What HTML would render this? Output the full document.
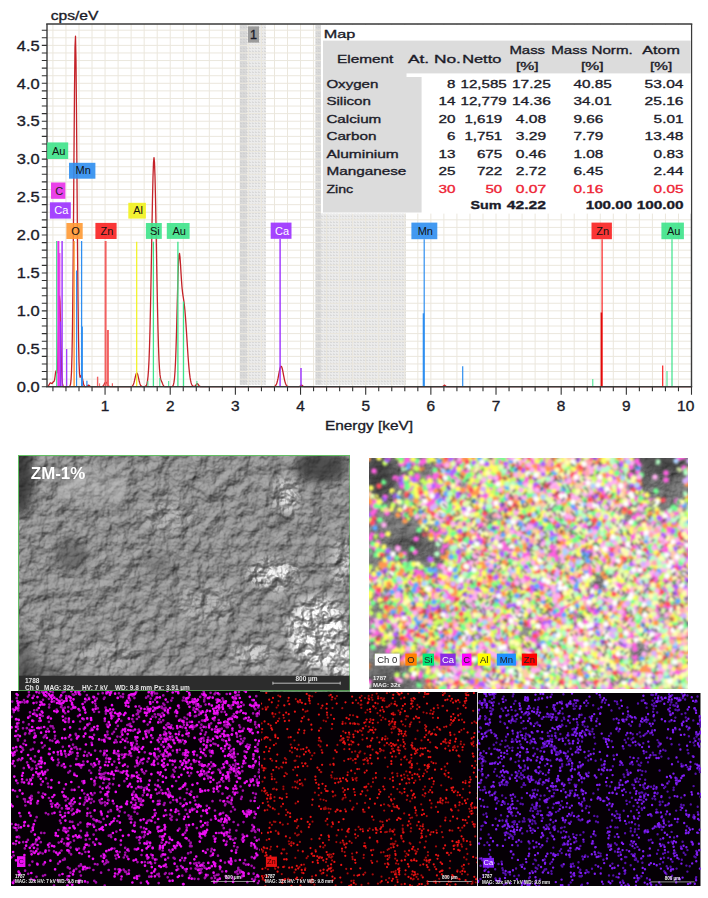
<!DOCTYPE html>
<html><head><meta charset="utf-8"><style>
html,body{margin:0;padding:0;background:#fff;width:708px;height:898px;overflow:hidden;position:relative}
.chart{position:absolute;left:0;top:0}
.abs{position:absolute}
</style></head><body>
<svg class="chart" width="708" height="440" viewBox="0 0 708 440" font-family="'Liberation Sans', sans-serif">
<defs>
<pattern id="dots" width="3" height="3" patternUnits="userSpaceOnUse"><rect width="3" height="3" fill="#ebebeb"/><rect width="2" height="1" fill="#d9d9d9"/><rect y="2" width="1" height="1" fill="#e0e0e0"/></pattern>
</defs>
<rect x="239.8" y="25" width="26.2" height="359.7" fill="url(#dots)"/>
<rect x="239.8" y="25" width="7" height="359.7" fill="#c8c8c8" opacity="0.5"/>
<rect x="315.5" y="25" width="90.5" height="359.7" fill="url(#dots)"/>
<rect x="315.5" y="25" width="5.5" height="359.7" fill="#c8c8c8" opacity="0.5"/>
<path d="M52.93 24V386.7M65.96 24V386.7M79 24V386.7M92.03 24V386.7M105.06 24V386.7M118.09 24V386.7M131.12 24V386.7M144.16 24V386.7M157.19 24V386.7M170.22 24V386.7M183.25 24V386.7M196.28 24V386.7M209.32 24V386.7M222.35 24V386.7M235.38 24V386.7M248.41 24V386.7M261.44 24V386.7M274.48 24V386.7M287.51 24V386.7M300.54 24V386.7M313.57 24V386.7M326.6 24V386.7M339.64 24V386.7M352.67 24V386.7M365.7 24V386.7M378.73 24V386.7M391.76 24V386.7M404.8 24V386.7M417.83 24V386.7M430.86 24V386.7M443.89 24V386.7M456.92 24V386.7M469.96 24V386.7M482.99 24V386.7M496.02 24V386.7M509.05 24V386.7M522.08 24V386.7M535.12 24V386.7M548.15 24V386.7M561.18 24V386.7M574.21 24V386.7M587.24 24V386.7M600.28 24V386.7M613.31 24V386.7M626.34 24V386.7M639.37 24V386.7M652.4 24V386.7M665.44 24V386.7M678.47 24V386.7M47 379.12H691.5M47 371.53H691.5M47 363.94H691.5M47 356.36H691.5M47 348.77H691.5M47 341.19H691.5M47 333.61H691.5M47 326.02H691.5M47 318.44H691.5M47 310.85H691.5M47 303.26H691.5M47 295.68H691.5M47 288.1H691.5M47 280.51H691.5M47 272.93H691.5M47 265.34H691.5M47 257.75H691.5M47 250.17H691.5M47 242.58H691.5M47 235H691.5M47 227.41H691.5M47 219.83H691.5M47 212.24H691.5M47 204.66H691.5M47 197.07H691.5M47 189.49H691.5M47 181.91H691.5M47 174.32H691.5M47 166.73H691.5M47 159.15H691.5M47 151.56H691.5M47 143.98H691.5M47 136.39H691.5M47 128.81H691.5M47 121.23H691.5M47 113.64H691.5M47 106.06H691.5M47 98.47H691.5M47 90.88H691.5M47 83.3H691.5M47 75.71H691.5M47 68.13H691.5M47 60.55H691.5M47 52.96H691.5M47 45.38H691.5M47 37.79H691.5M47 30.2H691.5" stroke="#ebe7dd" stroke-width="1" fill="none"/>
<rect x="248" y="26.4" width="11" height="16.2" fill="#9c9c9c"/>
<text x="250" y="38.6" font-size="13" fill="#1b1b28" stroke="#1b1b28" stroke-width="0.34" font-weight="normal" textLength="7" lengthAdjust="spacingAndGlyphs">1</text>
<path d="M47.5 386.53 48 386.27 48.5 385.75 49 384.96 49.5 384.02 50 383.21 50.5 382.86 51 383.02 51.5 383.4 52 383.49 52.5 382.99 53 382.19 53.5 381.66 54 381.35 54.5 380.14 55 377.02 55.5 373 56 370.9 56.5 371.93 57 372.94 57.5 368.2 58 353.81 58.5 331.17 59 308.2 59.5 296.05 60 301.5 60.5 321.57 61 346.21 61.5 366.22 62 378.28 62.5 383.88 63 385.93 63.5 386.53 64 386.67 64.5 386.7 65 386.7 65.5 386.7 66 386.7 66.5 386.7 67 386.7 67.5 386.7 68 386.7 68.5 386.68 69 386.63 69.5 386.45 70 385.89 70.5 384.33 71 380.45 71.5 371.88 72 355.03 72.5 325.69 73 280.79 73.5 221.03 74 153.15 74.5 89.99 75 47.02 75.5 36.24 76 60.86 76.5 113.69 77 180.55 77.5 246.39 78 300.53 78.5 338.67 79 361.73 79.5 373.24 80 377.2 80.5 377.09 81 375.75 81.5 375.17 82 376.23 82.5 378.65 83 381.49 83.5 383.86 84 385.4 84.5 386.2 85 386.53 85.5 386.64 86 386.62 86.5 386.49 87 386.21 87.5 385.78 88 385.36 88.5 385.18 89 385.36 89.5 385.78 90 386.21 90.5 386.49 91 386.63 91.5 386.68 92 386.7 92.5 386.7 93 386.7 93.5 386.7 94 386.7 94.5 386.7 95 386.7 95.5 386.7 96 386.7 96.5 386.7 97 386.7 97.5 386.7 98 386.7 98.5 386.7 99 386.7 99.5 386.7 100 386.7 100.5 386.69 101 386.67 101.5 386.63 102 386.52 102.5 386.3 103 385.9 103.5 385.3 104 384.48 104.5 383.57 105 382.75 105.5 382.24 106 382.19 106.5 382.62 107 383.4 107.5 384.31 108 385.15 108.5 385.8 109 386.23 109.5 386.48 110 386.61 110.5 386.67 111 386.69 111.5 386.7 112 386.7 112.5 386.7 113 386.7 113.5 386.7 114 386.7 114.5 386.7 115 386.7 115.5 386.7 116 386.7 116.5 386.7 117 386.7 117.5 386.7 118 386.7 118.5 386.7 119 386.7 119.5 386.7 120 386.7 120.5 386.7 121 386.7 121.5 386.7 122 386.7 122.5 386.7 123 386.7 123.5 386.7 124 386.7 124.5 386.7 125 386.7 125.5 386.7 126 386.7 126.5 386.7 127 386.7 127.5 386.7 128 386.7 128.5 386.7 129 386.7 129.5 386.7 130 386.69 130.5 386.67 131 386.62 131.5 386.52 132 386.31 132.5 385.91 133 385.23 133.5 384.16 134 382.63 134.5 380.66 135 378.42 135.5 376.18 136 374.33 136.5 373.24 137 373.13 137.5 374.04 138 375.77 138.5 377.96 139 380.23 139.5 382.27 140 383.89 140.5 385.05 141 385.8 141.5 386.25 142 386.49 142.5 386.61 143 386.66 143.5 386.67 144 386.66 144.5 386.61 145 386.5 145.5 386.27 146 385.81 146.5 384.96 147 383.44 147.5 380.85 148 376.64 148.5 370.12 149 360.55 149.5 347.2 150 329.58 150.5 307.61 151 281.83 151.5 253.55 152 224.83 152.5 198.27 153 176.68 153.5 162.55 154 157.63 154.5 162.55 155 176.68 155.5 198.27 156 224.83 156.5 253.55 157 281.82 157.5 307.59 158 329.53 158.5 347.04 159 360.12 159.5 369.18 160 374.9 160.5 378.17 161 379.97 161.5 381.17 162 382.34 162.5 383.59 163 384.76 163.5 385.66 164 386.23 164.5 386.52 165 386.64 165.5 386.68 166 386.7 166.5 386.7 167 386.7 167.5 386.7 168 386.7 168.5 386.7 169 386.7 169.5 386.7 170 386.7 170.5 386.69 171 386.67 171.5 386.63 172 386.51 172.5 386.24 173 385.65 173.5 384.45 174 382.18 174.5 378.22 175 371.8 175.5 362.23 176 349.06 176.5 332.48 177 313.51 177.5 293.98 178 276.28 178.5 262.75 179 254.99 179.5 253.43 180 257.16 180.5 264.32 181 272.78 181.5 280.75 182 287.22 182.5 292.01 183 295.6 183.5 298.74 184 302.14 184.5 306.3 185 311.45 185.5 317.61 186 324.62 186.5 332.23 187 340.12 187.5 347.97 188 355.44 188.5 362.25 189 368.19 189.5 373.16 190 377.14 190.5 380.18 191 382.42 191.5 383.98 192 385.04 192.5 385.72 193 386.14 193.5 386.38 194 386.47 194.5 386.42 195 386.18 195.5 385.7 196 385 196.5 384.27 197 383.76 197.5 383.71 198 384.14 198.5 384.86 199 385.59 199.5 386.13 200 386.46 200.5 386.61 201 386.67 201.5 386.69 202 386.7 202.5 386.7 203 386.7 203.5 386.7 204 386.7 204.5 386.7 205 386.7 205.5 386.7 206 386.7 206.5 386.7 207 386.7 207.5 386.7 208 386.7 208.5 386.7 209 386.7 209.5 386.7 210 386.7 210.5 386.7 211 386.7 211.5 386.7 212 386.7 212.5 386.7 213 386.7 213.5 386.7 214 386.7 214.5 386.7 215 386.7 215.5 386.7 216 386.7 216.5 386.7 217 386.7 217.5 386.7 218 386.7 218.5 386.7 219 386.7 219.5 386.7 220 386.7 220.5 386.7 221 386.7 221.5 386.7 222 386.7 222.5 386.7 223 386.7 223.5 386.7 224 386.7 224.5 386.7 225 386.7 225.5 386.7 226 386.7 226.5 386.7 227 386.7 227.5 386.7 228 386.7 228.5 386.7 229 386.7 229.5 386.7 230 386.7 230.5 386.7 231 386.7 231.5 386.7 232 386.7 232.5 386.7 233 386.7 233.5 386.7 234 386.7 234.5 386.7 235 386.7 235.5 386.7 236 386.7 236.5 386.7 237 386.7 237.5 386.7 238 386.7 238.5 386.7 239 386.7 239.5 386.7 240 386.7 240.5 386.7 241 386.7 241.5 386.7 242 386.7 242.5 386.7 243 386.7 243.5 386.7 244 386.7 244.5 386.7 245 386.7 245.5 386.7 246 386.7 246.5 386.7 247 386.7 247.5 386.7 248 386.7 248.5 386.7 249 386.7 249.5 386.7 250 386.7 250.5 386.7 251 386.7 251.5 386.7 252 386.7 252.5 386.7 253 386.7 253.5 386.7 254 386.7 254.5 386.7 255 386.7 255.5 386.7 256 386.7 256.5 386.7 257 386.7 257.5 386.7 258 386.7 258.5 386.7 259 386.7 259.5 386.7 260 386.7 260.5 386.7 261 386.7 261.5 386.7 262 386.7 262.5 386.7 263 386.7 263.5 386.7 264 386.7 264.5 386.7 265 386.7 265.5 386.7 266 386.7 266.5 386.7 267 386.7 267.5 386.7 268 386.7 268.5 386.7 269 386.7 269.5 386.7 270 386.7 270.5 386.7 271 386.7 271.5 386.7 272 386.69 272.5 386.68 273 386.66 273.5 386.61 274 386.53 274.5 386.37 275 386.09 275.5 385.64 276 384.95 276.5 383.93 277 382.52 277.5 380.68 278 378.44 278.5 375.89 279 373.2 279.5 370.62 280 368.43 280.5 366.91 281 366.24 281.5 366.53 282 367.73 282.5 369.68 283 372.14 283.5 374.82 284 377.45 284.5 379.83 285 381.84 285.5 383.41 286 384.58 286.5 385.4 287 385.94 287.5 386.27 288 386.47 288.5 386.58 289 386.64 289.5 386.67 290 386.69 290.5 386.7 291 386.7 291.5 386.7 292 386.7 292.5 386.7 293 386.7 293.5 386.7 294 386.7 294.5 386.7 295 386.7 295.5 386.7 296 386.7 296.5 386.7 297 386.7 297.5 386.7 298 386.7 298.5 386.68 299 386.63 299.5 386.49 300 386.21 300.5 385.78 301 385.36 301.5 385.18 302 385.36 302.5 385.78 303 386.21 303.5 386.49 304 386.63 304.5 386.68 305 386.7 305.5 386.7 306 386.7 306.5 386.7 307 386.7 307.5 386.7 308 386.7 308.5 386.7 309 386.7 309.5 386.7 310 386.7 310.5 386.7 311 386.7 311.5 386.7 312 386.7 312.5 386.7 313 386.7 313.5 386.7 314 386.7 314.5 386.7 315 386.7 315.5 386.7 316 386.7 316.5 386.7 317 386.7 317.5 386.7 318 386.7 318.5 386.7 319 386.7 319.5 386.7 320 386.7 320.5 386.7 321 386.7 321.5 386.7 322 386.7 322.5 386.7 323 386.7 323.5 386.7 324 386.7 324.5 386.7 325 386.7 325.5 386.7 326 386.7 326.5 386.7 327 386.7 327.5 386.7 328 386.7 328.5 386.7 329 386.7 329.5 386.7 330 386.7 330.5 386.7 331 386.7 331.5 386.7 332 386.7 332.5 386.7 333 386.7 333.5 386.7 334 386.7 334.5 386.7 335 386.7 335.5 386.7 336 386.7 336.5 386.7 337 386.7 337.5 386.7 338 386.7 338.5 386.7 339 386.7 339.5 386.7 340 386.7 340.5 386.7 341 386.7 341.5 386.7 342 386.7 342.5 386.7 343 386.7 343.5 386.7 344 386.7 344.5 386.7 345 386.7 345.5 386.7 346 386.7 346.5 386.7 347 386.7 347.5 386.7 348 386.7 348.5 386.7 349 386.7 349.5 386.7 350 386.7 350.5 386.7 351 386.7 351.5 386.7 352 386.7 352.5 386.7 353 386.7 353.5 386.7 354 386.7 354.5 386.7 355 386.7 355.5 386.7 356 386.7 356.5 386.7 357 386.7 357.5 386.7 358 386.7 358.5 386.7 359 386.7 359.5 386.7 360 386.7 360.5 386.7 361 386.7 361.5 386.7 362 386.7 362.5 386.7 363 386.7 363.5 386.7 364 386.7 364.5 386.7 365 386.7 365.5 386.7 366 386.7 366.5 386.7 367 386.7 367.5 386.7 368 386.7 368.5 386.7 369 386.7 369.5 386.7 370 386.7 370.5 386.7 371 386.7 371.5 386.7 372 386.7 372.5 386.7 373 386.7 373.5 386.7 374 386.7 374.5 386.7 375 386.7 375.5 386.7 376 386.7 376.5 386.7 377 386.7 377.5 386.7 378 386.7 378.5 386.7 379 386.7 379.5 386.7 380 386.7 380.5 386.7 381 386.7 381.5 386.7 382 386.7 382.5 386.7 383 386.7 383.5 386.7 384 386.7 384.5 386.7 385 386.7 385.5 386.7 386 386.7 386.5 386.7 387 386.7 387.5 386.7 388 386.7 388.5 386.7 389 386.7 389.5 386.7 390 386.7 390.5 386.7 391 386.7 391.5 386.7 392 386.7 392.5 386.7 393 386.7 393.5 386.7 394 386.7 394.5 386.7 395 386.7 395.5 386.7 396 386.7 396.5 386.7 397 386.7 397.5 386.7 398 386.7 398.5 386.7 399 386.7 399.5 386.7 400 386.7 400.5 386.7 401 386.7 401.5 386.7 402 386.7 402.5 386.7 403 386.7 403.5 386.7 404 386.7 404.5 386.7 405 386.7 405.5 386.7 406 386.7 406.5 386.7 407 386.7 407.5 386.7 408 386.7 408.5 386.7 409 386.7 409.5 386.7 410 386.7 410.5 386.7 411 386.7 411.5 386.7 412 386.7 412.5 386.7 413 386.7 413.5 386.7 414 386.7 414.5 386.7 415 386.7 415.5 386.7 416 386.7 416.5 386.7 417 386.7 417.5 386.7 418 386.7 418.5 386.7 419 386.7 419.5 386.7 420 386.7 420.5 386.7 421 386.7 421.5 386.7 422 386.7 422.5 386.7 423 386.7 423.5 386.7 424 386.7 424.5 386.7 425 386.7 425.5 386.7 426 386.7 426.5 386.7 427 386.7 427.5 386.7 428 386.7 428.5 386.7 429 386.7 429.5 386.7 430 386.7 430.5 386.7 431 386.7 431.5 386.7 432 386.7 432.5 386.7 433 386.7 433.5 386.7 434 386.7 434.5 386.7 435 386.7 435.5 386.7 436 386.7 436.5 386.7 437 386.7 437.5 386.7 438 386.7 438.5 386.7 439 386.7 439.5 386.7 440 386.7 440.5 386.7 441 386.7 441.5 386.7 442 386.69 442.5 386.63 443 386.44 443.5 386.01 444 385.45 444.5 385.18 445 385.45 445.5 386.01 446 386.44 446.5 386.63 447 386.69 447.5 386.7 448 386.7 448.5 386.7 449 386.7 449.5 386.7 450 386.7 450.5 386.7 451 386.7 451.5 386.7 452 386.7 452.5 386.7 453 386.7 453.5 386.7 454 386.7 454.5 386.7 455 386.7 455.5 386.7 456 386.7 456.5 386.7 457 386.7 457.5 386.7 458 386.7 458.5 386.7 459 386.7 459.5 386.7 460 386.7 460.5 386.7 461 386.7 461.5 386.7 462 386.7 462.5 386.7 463 386.7 463.5 386.7 464 386.7 464.5 386.7 465 386.7 465.5 386.7 466 386.7 466.5 386.7 467 386.7 467.5 386.7 468 386.7 468.5 386.7 469 386.7 469.5 386.7 470 386.7 470.5 386.7 471 386.7 471.5 386.7 472 386.7 472.5 386.7 473 386.7 473.5 386.7 474 386.7 474.5 386.7 475 386.7 475.5 386.7 476 386.7 476.5 386.7 477 386.7 477.5 386.7 478 386.7 478.5 386.7 479 386.7 479.5 386.7 480 386.7 480.5 386.7 481 386.7 481.5 386.7 482 386.7 482.5 386.7 483 386.7 483.5 386.7 484 386.7 484.5 386.7 485 386.7 485.5 386.7 486 386.7 486.5 386.7 487 386.7 487.5 386.7 488 386.7 488.5 386.7 489 386.7 489.5 386.7 490 386.7 490.5 386.7 491 386.7 491.5 386.7 492 386.7 492.5 386.7 493 386.7 493.5 386.7 494 386.7 494.5 386.7 495 386.7 495.5 386.7 496 386.7 496.5 386.7 497 386.7 497.5 386.7 498 386.7 498.5 386.7 499 386.7 499.5 386.7 500 386.7 500.5 386.7 501 386.7 501.5 386.7 502 386.7 502.5 386.7 503 386.7 503.5 386.7 504 386.7 504.5 386.7 505 386.7 505.5 386.7 506 386.7 506.5 386.7 507 386.7 507.5 386.7 508 386.7 508.5 386.7 509 386.7 509.5 386.7 510 386.7 510.5 386.7 511 386.7 511.5 386.7 512 386.7 512.5 386.7 513 386.7 513.5 386.7 514 386.7 514.5 386.7 515 386.7 515.5 386.7 516 386.7 516.5 386.7 517 386.7 517.5 386.7 518 386.7 518.5 386.7 519 386.7 519.5 386.7 520 386.7 520.5 386.7 521 386.7 521.5 386.7 522 386.7 522.5 386.7 523 386.7 523.5 386.7 524 386.7 524.5 386.7 525 386.7 525.5 386.7 526 386.7 526.5 386.7 527 386.7 527.5 386.7 528 386.7 528.5 386.7 529 386.7 529.5 386.7 530 386.7 530.5 386.7 531 386.7 531.5 386.7 532 386.7 532.5 386.7 533 386.7 533.5 386.7 534 386.7 534.5 386.7 535 386.7 535.5 386.7 536 386.7 536.5 386.7 537 386.7 537.5 386.7 538 386.7 538.5 386.7 539 386.7 539.5 386.7 540 386.7 540.5 386.7 541 386.7 541.5 386.7 542 386.7 542.5 386.7 543 386.7 543.5 386.7 544 386.7 544.5 386.7 545 386.7 545.5 386.7 546 386.7 546.5 386.7 547 386.7 547.5 386.7 548 386.7 548.5 386.7 549 386.7 549.5 386.7 550 386.7 550.5 386.7 551 386.7 551.5 386.7 552 386.7 552.5 386.7 553 386.7 553.5 386.7 554 386.7 554.5 386.7 555 386.7 555.5 386.7 556 386.7 556.5 386.7 557 386.7 557.5 386.7 558 386.7 558.5 386.7 559 386.7 559.5 386.7 560 386.7 560.5 386.7 561 386.7 561.5 386.7 562 386.7 562.5 386.7 563 386.7 563.5 386.7 564 386.7 564.5 386.7 565 386.7 565.5 386.7 566 386.7 566.5 386.7 567 386.7 567.5 386.7 568 386.7 568.5 386.7 569 386.7 569.5 386.7 570 386.7 570.5 386.7 571 386.7 571.5 386.7 572 386.7 572.5 386.7 573 386.7 573.5 386.7 574 386.7 574.5 386.7 575 386.7 575.5 386.7 576 386.7 576.5 386.7 577 386.7 577.5 386.7 578 386.7 578.5 386.7 579 386.7 579.5 386.7 580 386.7 580.5 386.7 581 386.7 581.5 386.7 582 386.7 582.5 386.7 583 386.7 583.5 386.7 584 386.7 584.5 386.7 585 386.7 585.5 386.7 586 386.7 586.5 386.7 587 386.7 587.5 386.7 588 386.7 588.5 386.7 589 386.7 589.5 386.7 590 386.7 590.5 386.7 591 386.7 591.5 386.7 592 386.7 592.5 386.7 593 386.7 593.5 386.7 594 386.7 594.5 386.7 595 386.7 595.5 386.7 596 386.7 596.5 386.7 597 386.7 597.5 386.7 598 386.7 598.5 386.7 599 386.7 599.5 386.7 600 386.7 600.5 386.7 601 386.7 601.5 386.7 602 386.7 602.5 386.7 603 386.7 603.5 386.7 604 386.7 604.5 386.7 605 386.7 605.5 386.7 606 386.7 606.5 386.7 607 386.7 607.5 386.7 608 386.7 608.5 386.7 609 386.7 609.5 386.7 610 386.7 610.5 386.7 611 386.7 611.5 386.7 612 386.7 612.5 386.7 613 386.7 613.5 386.7 614 386.7 614.5 386.7 615 386.7 615.5 386.7 616 386.7 616.5 386.7 617 386.7 617.5 386.7 618 386.7 618.5 386.7 619 386.7 619.5 386.7 620 386.7 620.5 386.7 621 386.7 621.5 386.7 622 386.7 622.5 386.7 623 386.7 623.5 386.7 624 386.7 624.5 386.7 625 386.7 625.5 386.7 626 386.7 626.5 386.7 627 386.7 627.5 386.7 628 386.7 628.5 386.7 629 386.7 629.5 386.7 630 386.7 630.5 386.7 631 386.7 631.5 386.7 632 386.7 632.5 386.7 633 386.7 633.5 386.7 634 386.7 634.5 386.7 635 386.7 635.5 386.7 636 386.7 636.5 386.7 637 386.7 637.5 386.7 638 386.7 638.5 386.7 639 386.7 639.5 386.7 640 386.7 640.5 386.7 641 386.7 641.5 386.7 642 386.7 642.5 386.7 643 386.7 643.5 386.7 644 386.7 644.5 386.7 645 386.7 645.5 386.7 646 386.7 646.5 386.7 647 386.7 647.5 386.7 648 386.7 648.5 386.7 649 386.7 649.5 386.7 650 386.7 650.5 386.7 651 386.7 651.5 386.7 652 386.7 652.5 386.7 653 386.7 653.5 386.7 654 386.7 654.5 386.7 655 386.7 655.5 386.7 656 386.7 656.5 386.7 657 386.7 657.5 386.7 658 386.7 658.5 386.7 659 386.7 659.5 386.7 660 386.7 660.5 386.7 661 386.7 661.5 386.7 662 386.7 662.5 386.7 663 386.7 663.5 386.7 664 386.7 664.5 386.7 665 386.7 665.5 386.7 666 386.7 666.5 386.7 667 386.7 667.5 386.7 668 386.7 668.5 386.7 669 386.7 669.5 386.7 670 386.7 670.5 386.7 671 386.7 671.5 386.7 672 386.7 672.5 386.7 673 386.7 673.5 386.7 674 386.7 674.5 386.7 675 386.7 675.5 386.7 676 386.7 676.5 386.7 677 386.7 677.5 386.7 678 386.7 678.5 386.7 679 386.7 679.5 386.7 680 386.7 680.5 386.7 681 386.7 681.5 386.7 682 386.7 682.5 386.7 683 386.7 683.5 386.7 684 386.7 684.5 386.7 685 386.7 685.5 386.7 686 386.7 686.5 386.7 687 386.7 687.5 386.7 688 386.7 688.5 386.7 689 386.7 689.5 386.7 690 386.7 690.5 386.7 691 386.7" fill="none" stroke="#c42228" stroke-width="1.3" stroke-linejoin="round"/>
<path d="M56.7 241V386.7" stroke="#3de38a" stroke-width="1.2"/>
<path d="M58.4 241V386.7" stroke="#e82ee8" stroke-width="2"/>
<path d="M59.8 253V386.7" stroke="#e82ee8" stroke-width="1.2"/>
<path d="M62.1 241V386.7" stroke="#9b30ff" stroke-width="1.4"/>
<path d="M60.4 321.6V386.7" stroke="#9b30ff" stroke-width="1.2"/>
<path d="M66.7 349V386.7" stroke="#9b30ff" stroke-width="1.2"/>
<path d="M74.1 241V386.7" stroke="#ff9933" stroke-width="1.4"/>
<path d="M76.6 270.6V386.7" stroke="#2e8ef0" stroke-width="1.2"/>
<path d="M81.6 241V386.7" stroke="#2e8ef0" stroke-width="1.3"/>
<path d="M82.1 326.6V386.7" stroke="#2e8ef0" stroke-width="1.6"/>
<path d="M86.9 380.7V386.7" stroke="#2e8ef0" stroke-width="1.2"/>
<path d="M105.6 241V386.7" stroke="#f26060" stroke-width="2"/>
<path d="M107.9 330V386.7" stroke="#f26060" stroke-width="2"/>
<path d="M97.6 376.7V386.7" stroke="#f26060" stroke-width="1.4"/>
<path d="M99.6 383.4V386.7" stroke="#f26060" stroke-width="1"/>
<path d="M112.4 383.2V386.7" stroke="#f26060" stroke-width="1.2"/>
<path d="M136.7 241.7V386.7" stroke="#f2f21c" stroke-width="1.2"/>
<path d="M153.4 241.7V386.7" stroke="#3de38a" stroke-width="1.3"/>
<path d="M159.8 378V386.7" stroke="#3de38a" stroke-width="1"/>
<path d="M147.9 381V386.7" stroke="#3de38a" stroke-width="1"/>
<path d="M177.9 241.7V386.7" stroke="#3de38a" stroke-width="1.3"/>
<path d="M183.5 301.6V386.7" stroke="#3de38a" stroke-width="1.3"/>
<path d="M168.7 381V386.7" stroke="#3de38a" stroke-width="1"/>
<path d="M196.9 381V386.7" stroke="#3de38a" stroke-width="1"/>
<path d="M280.1 239V386.7" stroke="#9b30ff" stroke-width="1.4"/>
<path d="M301 368.1V386.7" stroke="#9b30ff" stroke-width="1.4"/>
<path d="M424.2 239.2V386.7" stroke="#2e8ef0" stroke-width="1.2"/>
<path d="M423.5 313.3V386.7" stroke="#2e8ef0" stroke-width="1.6"/>
<path d="M462.7 366.3V386.7" stroke="#2e8ef0" stroke-width="1.2"/>
<path d="M602.1 239.2V386.7" stroke="#fa2020" stroke-width="1.2"/>
<path d="M601.4 312.5V386.7" stroke="#e00a0a" stroke-width="1.6"/>
<path d="M662.7 365.4V386.7" stroke="#fa2020" stroke-width="1.2"/>
<path d="M672 239.2V386.7" stroke="#3de38a" stroke-width="1.2"/>
<path d="M592.8 379V386.7" stroke="#3de38a" stroke-width="1"/>
<path d="M667 371V386.7" stroke="#3de38a" stroke-width="1"/>
<path d="M46.2 24H692.3" stroke="#3a3a3a" stroke-width="1.6"/>
<path d="M47 24V386.7 M691.5 24V386.7" stroke="#3a3a3a" stroke-width="1.4"/>
<path d="M46.3 386.7H692.2" stroke="#3a3a3a" stroke-width="1.4"/>
<path d="M41.8 386.7H47M41.8 379.12H47M41.8 371.53H47M41.8 363.94H47M41.8 356.36H47M41.8 348.77H47M41.8 341.19H47M41.8 333.61H47M41.8 326.02H47M41.8 318.44H47M41.8 310.85H47M41.8 303.26H47M41.8 295.68H47M41.8 288.1H47M41.8 280.51H47M41.8 272.93H47M41.8 265.34H47M41.8 257.75H47M41.8 250.17H47M41.8 242.58H47M41.8 235H47M41.8 227.41H47M41.8 219.83H47M41.8 212.24H47M41.8 204.66H47M41.8 197.07H47M41.8 189.49H47M41.8 181.91H47M41.8 174.32H47M41.8 166.73H47M41.8 159.15H47M41.8 151.56H47M41.8 143.98H47M41.8 136.39H47M41.8 128.81H47M41.8 121.23H47M41.8 113.64H47M41.8 106.06H47M41.8 98.47H47M41.8 90.88H47M41.8 83.3H47M41.8 75.71H47M41.8 68.13H47M41.8 60.55H47M41.8 52.96H47M41.8 45.38H47M41.8 37.79H47M41.8 30.2H47M52.93 386.7V391.3M65.96 386.7V391.3M79 386.7V391.3M92.03 386.7V391.3M105.06 386.7V394.8M118.09 386.7V391.3M131.12 386.7V391.3M144.16 386.7V391.3M157.19 386.7V391.3M170.22 386.7V394.8M183.25 386.7V391.3M196.28 386.7V391.3M209.32 386.7V391.3M222.35 386.7V391.3M235.38 386.7V394.8M248.41 386.7V391.3M261.44 386.7V391.3M274.48 386.7V391.3M287.51 386.7V391.3M300.54 386.7V394.8M313.57 386.7V391.3M326.6 386.7V391.3M339.64 386.7V391.3M352.67 386.7V391.3M365.7 386.7V394.8M378.73 386.7V391.3M391.76 386.7V391.3M404.8 386.7V391.3M417.83 386.7V391.3M430.86 386.7V394.8M443.89 386.7V391.3M456.92 386.7V391.3M469.96 386.7V391.3M482.99 386.7V391.3M496.02 386.7V394.8M509.05 386.7V391.3M522.08 386.7V391.3M535.12 386.7V391.3M548.15 386.7V391.3M561.18 386.7V394.8M574.21 386.7V391.3M587.24 386.7V391.3M600.28 386.7V391.3M613.31 386.7V391.3M626.34 386.7V394.8M639.37 386.7V391.3M652.4 386.7V391.3M665.44 386.7V391.3M678.47 386.7V391.3M691.5 386.7V394.8" stroke="#333" stroke-width="1.1"/>
<text x="16.8" y="391.9" font-size="14.5" fill="#1b1b28" stroke="#1b1b28" stroke-width="0.34" font-weight="normal" textLength="22.9" lengthAdjust="spacingAndGlyphs">0.0</text>
<text x="16.8" y="353.97" font-size="14.5" fill="#1b1b28" stroke="#1b1b28" stroke-width="0.34" font-weight="normal" textLength="22.9" lengthAdjust="spacingAndGlyphs">0.5</text>
<text x="16.8" y="316.05" font-size="14.5" fill="#1b1b28" stroke="#1b1b28" stroke-width="0.34" font-weight="normal" textLength="22.9" lengthAdjust="spacingAndGlyphs">1.0</text>
<text x="16.8" y="278.12" font-size="14.5" fill="#1b1b28" stroke="#1b1b28" stroke-width="0.34" font-weight="normal" textLength="22.9" lengthAdjust="spacingAndGlyphs">1.5</text>
<text x="16.8" y="240.2" font-size="14.5" fill="#1b1b28" stroke="#1b1b28" stroke-width="0.34" font-weight="normal" textLength="22.9" lengthAdjust="spacingAndGlyphs">2.0</text>
<text x="16.8" y="202.27" font-size="14.5" fill="#1b1b28" stroke="#1b1b28" stroke-width="0.34" font-weight="normal" textLength="22.9" lengthAdjust="spacingAndGlyphs">2.5</text>
<text x="16.8" y="164.35" font-size="14.5" fill="#1b1b28" stroke="#1b1b28" stroke-width="0.34" font-weight="normal" textLength="22.9" lengthAdjust="spacingAndGlyphs">3.0</text>
<text x="16.8" y="126.43" font-size="14.5" fill="#1b1b28" stroke="#1b1b28" stroke-width="0.34" font-weight="normal" textLength="22.9" lengthAdjust="spacingAndGlyphs">3.5</text>
<text x="16.8" y="88.5" font-size="14.5" fill="#1b1b28" stroke="#1b1b28" stroke-width="0.34" font-weight="normal" textLength="22.9" lengthAdjust="spacingAndGlyphs">4.0</text>
<text x="16.8" y="50.58" font-size="14.5" fill="#1b1b28" stroke="#1b1b28" stroke-width="0.34" font-weight="normal" textLength="22.9" lengthAdjust="spacingAndGlyphs">4.5</text>
<text x="100.76" y="410.8" font-size="14.5" fill="#1b1b28" stroke="#1b1b28" stroke-width="0.34" font-weight="normal" textLength="8.6" lengthAdjust="spacingAndGlyphs">1</text>
<text x="165.92" y="410.8" font-size="14.5" fill="#1b1b28" stroke="#1b1b28" stroke-width="0.34" font-weight="normal" textLength="8.6" lengthAdjust="spacingAndGlyphs">2</text>
<text x="231.08" y="410.8" font-size="14.5" fill="#1b1b28" stroke="#1b1b28" stroke-width="0.34" font-weight="normal" textLength="8.6" lengthAdjust="spacingAndGlyphs">3</text>
<text x="296.24" y="410.8" font-size="14.5" fill="#1b1b28" stroke="#1b1b28" stroke-width="0.34" font-weight="normal" textLength="8.6" lengthAdjust="spacingAndGlyphs">4</text>
<text x="361.4" y="410.8" font-size="14.5" fill="#1b1b28" stroke="#1b1b28" stroke-width="0.34" font-weight="normal" textLength="8.6" lengthAdjust="spacingAndGlyphs">5</text>
<text x="426.56" y="410.8" font-size="14.5" fill="#1b1b28" stroke="#1b1b28" stroke-width="0.34" font-weight="normal" textLength="8.6" lengthAdjust="spacingAndGlyphs">6</text>
<text x="491.72" y="410.8" font-size="14.5" fill="#1b1b28" stroke="#1b1b28" stroke-width="0.34" font-weight="normal" textLength="8.6" lengthAdjust="spacingAndGlyphs">7</text>
<text x="556.88" y="410.8" font-size="14.5" fill="#1b1b28" stroke="#1b1b28" stroke-width="0.34" font-weight="normal" textLength="8.6" lengthAdjust="spacingAndGlyphs">8</text>
<text x="622.04" y="410.8" font-size="14.5" fill="#1b1b28" stroke="#1b1b28" stroke-width="0.34" font-weight="normal" textLength="8.6" lengthAdjust="spacingAndGlyphs">9</text>
<text x="677" y="410.8" font-size="14.5" fill="#1b1b28" stroke="#1b1b28" stroke-width="0.34" font-weight="normal" textLength="17.3" lengthAdjust="spacingAndGlyphs">10</text>
<text x="50.7" y="20" font-size="13.2" fill="#1b1b28" stroke="#1b1b28" stroke-width="0.34" font-weight="normal" textLength="47.8" lengthAdjust="spacingAndGlyphs">cps/eV</text>
<text x="324.9" y="430.4" font-size="13.6" fill="#1b1b28" stroke="#1b1b28" stroke-width="0.34" font-weight="normal" textLength="88.1" lengthAdjust="spacingAndGlyphs">Energy [keV]</text>
<rect x="47.1" y="142.4" width="21.1" height="16.6" fill="#3de38a" fill-opacity="0.9"/>
<text x="58.65" y="154.7" font-size="11" fill="#111" text-anchor="middle">Au</text>
<rect x="69" y="162.8" width="26.4" height="15.9" fill="#2e8ef0" fill-opacity="0.9"/>
<text x="83.2" y="174.4" font-size="11" fill="#111" text-anchor="middle">Mn</text>
<rect x="51" y="182.5" width="14.4" height="16.3" fill="#e82ee8" fill-opacity="0.9"/>
<text x="59.2" y="194.5" font-size="11" fill="#222" text-anchor="middle">C</text>
<rect x="49.9" y="202.3" width="20.9" height="16.3" fill="#9b30ff" fill-opacity="0.9"/>
<text x="61.35" y="214.3" font-size="11" fill="#fff" text-anchor="middle">Ca</text>
<rect x="128.3" y="202.8" width="17.6" height="15.8" fill="#f2f21c" fill-opacity="0.9"/>
<text x="138.1" y="214.3" font-size="11" fill="#111" text-anchor="middle">Al</text>
<rect x="66.4" y="223" width="16.3" height="16" fill="#ff9933" fill-opacity="0.9"/>
<text x="75.55" y="234.7" font-size="11" fill="#111" text-anchor="middle">O</text>
<rect x="95.4" y="222.9" width="21.2" height="16.1" fill="#fa2020" fill-opacity="0.9"/>
<text x="107" y="234.7" font-size="11" fill="#111" text-anchor="middle">Zn</text>
<rect x="145.9" y="223" width="15.9" height="15.9" fill="#3de38a" fill-opacity="0.9"/>
<text x="154.85" y="234.6" font-size="11" fill="#111" text-anchor="middle">Si</text>
<rect x="166.8" y="223" width="22.8" height="15.9" fill="#3de38a" fill-opacity="0.9"/>
<text x="179.2" y="234.6" font-size="11" fill="#111" text-anchor="middle">Au</text>
<rect x="270.7" y="222.6" width="20.8" height="16.2" fill="#9b30ff" fill-opacity="0.9"/>
<text x="282.1" y="234.5" font-size="11" fill="#fff" text-anchor="middle">Ca</text>
<rect x="411.4" y="222.6" width="25.9" height="16.6" fill="#2e8ef0" fill-opacity="0.9"/>
<text x="425.35" y="234.9" font-size="11" fill="#111" text-anchor="middle">Mn</text>
<rect x="591.5" y="222.6" width="20.4" height="16.6" fill="#fa2020" fill-opacity="0.9"/>
<text x="602.7" y="234.9" font-size="11" fill="#111" text-anchor="middle">Zn</text>
<rect x="661.4" y="222.6" width="22.5" height="16.6" fill="#3de38a" fill-opacity="0.9"/>
<text x="673.65" y="234.9" font-size="11" fill="#111" text-anchor="middle">Au</text>
<rect x="321" y="25" width="369.8" height="188.6" fill="#fff"/>
<rect x="323" y="40.6" width="367.8" height="32.8" fill="#dcdcdc"/>
<rect x="323" y="73" width="83.5" height="4.5" fill="#dcdcdc"/>
<rect x="323" y="77" width="98.6" height="135.5" fill="#dcdcdc"/>
<text x="323.7" y="37.6" font-size="11.8" fill="#1b1b28" stroke="#1b1b28" stroke-width="0.34" font-weight="normal" textLength="31.5" lengthAdjust="spacingAndGlyphs">Map</text>
<text x="337" y="62.7" font-size="11.8" fill="#1b1b28" stroke="#1b1b28" stroke-width="0.34" font-weight="normal" textLength="56.4" lengthAdjust="spacingAndGlyphs">Element</text>
<text x="407.9" y="62.7" font-size="11.8" fill="#1b1b28" stroke="#1b1b28" stroke-width="0.34" font-weight="normal" textLength="53" lengthAdjust="spacingAndGlyphs">At. No.</text>
<text x="462.2" y="62.7" font-size="11.8" fill="#1b1b28" stroke="#1b1b28" stroke-width="0.34" font-weight="normal" textLength="39.1" lengthAdjust="spacingAndGlyphs">Netto</text>
<text x="509.4" y="54.2" font-size="11.8" fill="#1b1b28" stroke="#1b1b28" stroke-width="0.34" font-weight="normal" textLength="35.7" lengthAdjust="spacingAndGlyphs">Mass</text>
<text x="515.9" y="69.6" font-size="11.8" fill="#1b1b28" stroke="#1b1b28" stroke-width="0.34" font-weight="normal" textLength="22.7" lengthAdjust="spacingAndGlyphs">[%]</text>
<text x="551.2" y="54.2" font-size="11.8" fill="#1b1b28" stroke="#1b1b28" stroke-width="0.34" font-weight="normal" textLength="81.5" lengthAdjust="spacingAndGlyphs">Mass Norm.</text>
<text x="580.9" y="69.6" font-size="11.8" fill="#1b1b28" stroke="#1b1b28" stroke-width="0.34" font-weight="normal" textLength="22.7" lengthAdjust="spacingAndGlyphs">[%]</text>
<text x="642.2" y="54.2" font-size="11.8" fill="#1b1b28" stroke="#1b1b28" stroke-width="0.34" font-weight="normal" textLength="37.7" lengthAdjust="spacingAndGlyphs">Atom</text>
<text x="650.1" y="69.6" font-size="11.8" fill="#1b1b28" stroke="#1b1b28" stroke-width="0.34" font-weight="normal" textLength="22.2" lengthAdjust="spacingAndGlyphs">[%]</text>
<text x="326.4" y="87.7" font-size="11.8" fill="#1b1b28" stroke="#1b1b28" stroke-width="0.34" font-weight="normal" textLength="52" lengthAdjust="spacingAndGlyphs">Oxygen</text>
<text x="447" y="87.7" font-size="11.8" fill="#1b1b28" stroke="#1b1b28" stroke-width="0.34" font-weight="normal" textLength="8.4" lengthAdjust="spacingAndGlyphs">8</text>
<text x="460.5" y="87.7" font-size="11.8" fill="#1b1b28" stroke="#1b1b28" stroke-width="0.34" font-weight="normal" textLength="46.2" lengthAdjust="spacingAndGlyphs">12,585</text>
<text x="512" y="87.7" font-size="11.8" fill="#1b1b28" stroke="#1b1b28" stroke-width="0.34" font-weight="normal" textLength="38.8" lengthAdjust="spacingAndGlyphs">17.25</text>
<text x="573.4" y="87.7" font-size="11.8" fill="#1b1b28" stroke="#1b1b28" stroke-width="0.34" font-weight="normal" textLength="38.3" lengthAdjust="spacingAndGlyphs">40.85</text>
<text x="644.6" y="87.7" font-size="11.8" fill="#1b1b28" stroke="#1b1b28" stroke-width="0.34" font-weight="normal" textLength="38.9" lengthAdjust="spacingAndGlyphs">53.04</text>
<text x="326.4" y="105.18" font-size="11.8" fill="#1b1b28" stroke="#1b1b28" stroke-width="0.34" font-weight="normal" textLength="44.5" lengthAdjust="spacingAndGlyphs">Silicon</text>
<text x="438.4" y="105.18" font-size="11.8" fill="#1b1b28" stroke="#1b1b28" stroke-width="0.34" font-weight="normal" textLength="17" lengthAdjust="spacingAndGlyphs">14</text>
<text x="460.5" y="105.18" font-size="11.8" fill="#1b1b28" stroke="#1b1b28" stroke-width="0.34" font-weight="normal" textLength="46.2" lengthAdjust="spacingAndGlyphs">12,779</text>
<text x="512" y="105.18" font-size="11.8" fill="#1b1b28" stroke="#1b1b28" stroke-width="0.34" font-weight="normal" textLength="38.8" lengthAdjust="spacingAndGlyphs">14.36</text>
<text x="573.4" y="105.18" font-size="11.8" fill="#1b1b28" stroke="#1b1b28" stroke-width="0.34" font-weight="normal" textLength="38.3" lengthAdjust="spacingAndGlyphs">34.01</text>
<text x="644.6" y="105.18" font-size="11.8" fill="#1b1b28" stroke="#1b1b28" stroke-width="0.34" font-weight="normal" textLength="38.9" lengthAdjust="spacingAndGlyphs">25.16</text>
<text x="326.4" y="122.66" font-size="11.8" fill="#1b1b28" stroke="#1b1b28" stroke-width="0.34" font-weight="normal" textLength="54.9" lengthAdjust="spacingAndGlyphs">Calcium</text>
<text x="438.4" y="122.66" font-size="11.8" fill="#1b1b28" stroke="#1b1b28" stroke-width="0.34" font-weight="normal" textLength="17" lengthAdjust="spacingAndGlyphs">20</text>
<text x="464.4" y="122.66" font-size="11.8" fill="#1b1b28" stroke="#1b1b28" stroke-width="0.34" font-weight="normal" textLength="37.9" lengthAdjust="spacingAndGlyphs">1,619</text>
<text x="515.8" y="122.66" font-size="11.8" fill="#1b1b28" stroke="#1b1b28" stroke-width="0.34" font-weight="normal" textLength="30.4" lengthAdjust="spacingAndGlyphs">4.08</text>
<text x="573.4" y="122.66" font-size="11.8" fill="#1b1b28" stroke="#1b1b28" stroke-width="0.34" font-weight="normal" textLength="29.9" lengthAdjust="spacingAndGlyphs">9.66</text>
<text x="653.6" y="122.66" font-size="11.8" fill="#1b1b28" stroke="#1b1b28" stroke-width="0.34" font-weight="normal" textLength="29.9" lengthAdjust="spacingAndGlyphs">5.01</text>
<text x="326.4" y="140.14" font-size="11.8" fill="#1b1b28" stroke="#1b1b28" stroke-width="0.34" font-weight="normal" textLength="50" lengthAdjust="spacingAndGlyphs">Carbon</text>
<text x="447" y="140.14" font-size="11.8" fill="#1b1b28" stroke="#1b1b28" stroke-width="0.34" font-weight="normal" textLength="8.4" lengthAdjust="spacingAndGlyphs">6</text>
<text x="464.4" y="140.14" font-size="11.8" fill="#1b1b28" stroke="#1b1b28" stroke-width="0.34" font-weight="normal" textLength="37.9" lengthAdjust="spacingAndGlyphs">1,751</text>
<text x="515.8" y="140.14" font-size="11.8" fill="#1b1b28" stroke="#1b1b28" stroke-width="0.34" font-weight="normal" textLength="30.4" lengthAdjust="spacingAndGlyphs">3.29</text>
<text x="573.4" y="140.14" font-size="11.8" fill="#1b1b28" stroke="#1b1b28" stroke-width="0.34" font-weight="normal" textLength="29.9" lengthAdjust="spacingAndGlyphs">7.79</text>
<text x="644.6" y="140.14" font-size="11.8" fill="#1b1b28" stroke="#1b1b28" stroke-width="0.34" font-weight="normal" textLength="38.9" lengthAdjust="spacingAndGlyphs">13.48</text>
<text x="326.4" y="157.62" font-size="11.8" fill="#1b1b28" stroke="#1b1b28" stroke-width="0.34" font-weight="normal" textLength="72.4" lengthAdjust="spacingAndGlyphs">Aluminium</text>
<text x="438.4" y="157.62" font-size="11.8" fill="#1b1b28" stroke="#1b1b28" stroke-width="0.34" font-weight="normal" textLength="17" lengthAdjust="spacingAndGlyphs">13</text>
<text x="476.9" y="157.62" font-size="11.8" fill="#1b1b28" stroke="#1b1b28" stroke-width="0.34" font-weight="normal" textLength="25.3" lengthAdjust="spacingAndGlyphs">675</text>
<text x="515.8" y="157.62" font-size="11.8" fill="#1b1b28" stroke="#1b1b28" stroke-width="0.34" font-weight="normal" textLength="30.4" lengthAdjust="spacingAndGlyphs">0.46</text>
<text x="573.4" y="157.62" font-size="11.8" fill="#1b1b28" stroke="#1b1b28" stroke-width="0.34" font-weight="normal" textLength="29.9" lengthAdjust="spacingAndGlyphs">1.08</text>
<text x="653.6" y="157.62" font-size="11.8" fill="#1b1b28" stroke="#1b1b28" stroke-width="0.34" font-weight="normal" textLength="29.9" lengthAdjust="spacingAndGlyphs">0.83</text>
<text x="326.4" y="175.1" font-size="11.8" fill="#1b1b28" stroke="#1b1b28" stroke-width="0.34" font-weight="normal" textLength="80" lengthAdjust="spacingAndGlyphs">Manganese</text>
<text x="438.4" y="175.1" font-size="11.8" fill="#1b1b28" stroke="#1b1b28" stroke-width="0.34" font-weight="normal" textLength="17" lengthAdjust="spacingAndGlyphs">25</text>
<text x="476.9" y="175.1" font-size="11.8" fill="#1b1b28" stroke="#1b1b28" stroke-width="0.34" font-weight="normal" textLength="25.3" lengthAdjust="spacingAndGlyphs">722</text>
<text x="515.8" y="175.1" font-size="11.8" fill="#1b1b28" stroke="#1b1b28" stroke-width="0.34" font-weight="normal" textLength="30.4" lengthAdjust="spacingAndGlyphs">2.72</text>
<text x="573.4" y="175.1" font-size="11.8" fill="#1b1b28" stroke="#1b1b28" stroke-width="0.34" font-weight="normal" textLength="29.9" lengthAdjust="spacingAndGlyphs">6.45</text>
<text x="653.6" y="175.1" font-size="11.8" fill="#1b1b28" stroke="#1b1b28" stroke-width="0.34" font-weight="normal" textLength="29.9" lengthAdjust="spacingAndGlyphs">2.44</text>
<text x="326.4" y="192.58" font-size="11.8" fill="#1b1b28" stroke="#1b1b28" stroke-width="0.34" font-weight="normal" textLength="26.8" lengthAdjust="spacingAndGlyphs">Zinc</text>
<text x="438.4" y="192.58" font-size="11.8" fill="#ee2233" stroke="#ee2233" stroke-width="0.34" font-weight="normal" textLength="17" lengthAdjust="spacingAndGlyphs">30</text>
<text x="485.5" y="192.58" font-size="11.8" fill="#ee2233" stroke="#ee2233" stroke-width="0.34" font-weight="normal" textLength="16.7" lengthAdjust="spacingAndGlyphs">50</text>
<text x="515.8" y="192.58" font-size="11.8" fill="#ee2233" stroke="#ee2233" stroke-width="0.34" font-weight="normal" textLength="30.4" lengthAdjust="spacingAndGlyphs">0.07</text>
<text x="573.4" y="192.58" font-size="11.8" fill="#ee2233" stroke="#ee2233" stroke-width="0.34" font-weight="normal" textLength="29.9" lengthAdjust="spacingAndGlyphs">0.16</text>
<text x="653.6" y="192.58" font-size="11.8" fill="#ee2233" stroke="#ee2233" stroke-width="0.34" font-weight="normal" textLength="29.9" lengthAdjust="spacingAndGlyphs">0.05</text>
<text x="470.5" y="209.46" font-size="11.8" fill="#1b1b28" stroke="#1b1b28" stroke-width="0.34" font-weight="bold" textLength="31" lengthAdjust="spacingAndGlyphs">Sum</text>
<text x="506.8" y="209.46" font-size="11.8" fill="#1b1b28" stroke="#1b1b28" stroke-width="0.34" font-weight="bold" textLength="39.2" lengthAdjust="spacingAndGlyphs">42.22</text>
<text x="585.7" y="209.46" font-size="11.8" fill="#1b1b28" stroke="#1b1b28" stroke-width="0.34" font-weight="bold" textLength="46.5" lengthAdjust="spacingAndGlyphs">100.00</text>
<text x="636.7" y="209.46" font-size="11.8" fill="#1b1b28" stroke="#1b1b28" stroke-width="0.34" font-weight="bold" textLength="46.9" lengthAdjust="spacingAndGlyphs">100.00</text>
</svg>
<svg class="abs" style="left:17.5px;top:455.3px" width="332.5" height="236.3" viewBox="0 0 332.5 236.3">
<defs>
<filter id="semtex" x="0" y="0" width="100%" height="100%" color-interpolation-filters="sRGB">
<feTurbulence type="fractalNoise" baseFrequency="0.07" numOctaves="5" seed="4" result="n"/>
<feDiffuseLighting in="n" surfaceScale="3.4" diffuseConstant="0.67" lighting-color="#fff"><feDistantLight azimuth="235" elevation="55"/></feDiffuseLighting>
</filter>
<radialGradient id="semdk1" cx="0" cy="0" r="1"><stop offset="0" stop-color="#000" stop-opacity="0.55"/><stop offset="1" stop-color="#000" stop-opacity="0"/></radialGradient>
<radialGradient id="sembr" cx="0.5" cy="0.5" r="0.5"><stop offset="0" stop-color="#fff" stop-opacity="0.4"/><stop offset="1" stop-color="#fff" stop-opacity="0"/></radialGradient>
<radialGradient id="semdk" cx="0.5" cy="0.5" r="0.5"><stop offset="0" stop-color="#000" stop-opacity="0.45"/><stop offset="1" stop-color="#000" stop-opacity="0"/></radialGradient>
</defs>
<rect width="332.5" height="236.3" filter="url(#semtex)"/>
<defs><filter id="semblur" x="-20%" y="-20%" width="140%" height="140%"><feGaussianBlur stdDeviation="1.1"/></filter><filter id="semblur2" x="-50%" y="-50%" width="200%" height="200%"><feGaussianBlur stdDeviation="4"/></filter></defs>
<g filter="url(#semblur2)">
<ellipse cx="2" cy="20" rx="14" ry="40" fill="#202020" opacity="0.7"/>
<ellipse cx="0" cy="215" rx="18" ry="40" fill="#303030" opacity="0.45"/>
<ellipse cx="15" cy="222" rx="30" ry="14" fill="#303030" opacity="0.35"/>
<ellipse cx="75" cy="32" rx="38" ry="16" fill="#d0d0d0" opacity="0.35"/>
<ellipse cx="303" cy="12" rx="26" ry="16" fill="#303030" opacity="0.75"/>
<ellipse cx="266" cy="63" rx="5" ry="5" fill="#202020" opacity="0.85"/>
<ellipse cx="238" cy="125" rx="7" ry="6" fill="#202020" opacity="0.6"/>
<ellipse cx="54" cy="101" rx="16" ry="15" fill="#303030" opacity="0.45"/>
<ellipse cx="140" cy="110" rx="14" ry="12" fill="#303030" opacity="0.25"/>
</g>
<defs>
<filter id="sembright" x="0" y="0" width="100%" height="100%" color-interpolation-filters="sRGB">
<feTurbulence type="fractalNoise" baseFrequency="0.07" numOctaves="5" seed="4" result="n"/>
<feSpecularLighting in="n" surfaceScale="5" specularConstant="1.2" specularExponent="8" lighting-color="#fff"><feDistantLight azimuth="235" elevation="35"/></feSpecularLighting>
</filter>
<filter id="mblur" x="-50%" y="-50%" width="200%" height="200%"><feGaussianBlur stdDeviation="5"/></filter>

<mask id="semmask" maskUnits="userSpaceOnUse" x="0" y="0" width="340" height="240"><g filter="url(#mblur)" fill="#fff">
<ellipse cx="300" cy="178" rx="30" ry="36"/>
<ellipse cx="322" cy="205" rx="14" ry="18"/>
<ellipse cx="255" cy="120" rx="25" ry="14" opacity="0.9"/>
<ellipse cx="268" cy="42" rx="11" ry="18" opacity="0.7"/>
<ellipse cx="325" cy="110" rx="9" ry="25" opacity="0.6"/>
<ellipse cx="235" cy="200" rx="20" ry="12" opacity="0.5"/>
<ellipse cx="150" cy="60" rx="25" ry="15" opacity="0.22"/>
<ellipse cx="190" cy="150" rx="30" ry="20" opacity="0.22"/>
<ellipse cx="90" cy="200" rx="30" ry="15" opacity="0.18"/>
</g></mask>
</defs>
<rect width="332.5" height="236.3" filter="url(#sembright)" mask="url(#semmask)"/>
<rect x="0" y="220.7" width="332.5" height="15.6" fill="#2c2c2c"/>
<g font-family="'Liberation Sans',sans-serif" font-weight="bold" fill="#e8e8e8" font-size="6.5">
<text x="7" y="227.9">1788</text>
<text x="7" y="234.9">Ch 0</text>
<text x="26" y="234.9">MAG: 32x</text>
<text x="64" y="234.9">HV: 7 kV</text>
<text x="97" y="234.9">WD: 9.8 mm</text>
<text x="136" y="234.9">Px: 3.91 µm</text>
<text x="288.5" y="225.7" text-anchor="middle">800 µm</text>
</g>
<path d="M254.9 228.2H322.2 M254.9 229.7v-3 M322.2 229.7v-3" stroke="#ddd" stroke-width="0.8"/>
<text x="12.8" y="23.9" font-family="'Liberation Sans',sans-serif" font-weight="bold" font-size="16.5" fill="#fff" textLength="54.5" lengthAdjust="spacingAndGlyphs">ZM-1%</text>
<rect x="0.5" y="0.5" width="331.5" height="235.3" fill="none" stroke="#62c062" stroke-width="1"/>
</svg>
<svg class="abs" style="left:368.7px;top:458.4px" width="319" height="231.1" viewBox="0 0 319 231.1">
<defs>
<filter id="cmbase" x="0" y="0" width="100%" height="100%" color-interpolation-filters="sRGB">
<feTurbulence type="fractalNoise" baseFrequency="0.07" numOctaves="4" seed="8" result="n"/>
<feDiffuseLighting in="n" surfaceScale="2.6" diffuseConstant="0.52" lighting-color="#fff"><feDistantLight azimuth="235" elevation="55"/></feDiffuseLighting>
</filter>
<filter id="cmblur" x="-2%" y="-2%" width="104%" height="104%"><feGaussianBlur stdDeviation="0.95"/></filter>
<filter id="cmmb" x="-50%" y="-50%" width="200%" height="200%"><feGaussianBlur stdDeviation="6"/></filter>
</defs>
<rect width="319" height="231.1" fill="#a8a8a8"/>
<mask id="cmmask" maskUnits="userSpaceOnUse" x="0" y="0" width="319" height="231.1"><g filter="url(#cmmb)" fill="#fff">
<circle cx="12" cy="18" r="31.2" opacity="0.85"/>
<circle cx="57" cy="10" r="15.6" opacity="0.72"/>
<circle cx="20" cy="70" r="26" opacity="0.72"/>
<circle cx="45" cy="85" r="26" opacity="0.8"/>
<circle cx="65" cy="97" r="19.5" opacity="0.72"/>
<circle cx="5" cy="105" r="18.2" opacity="0.56"/>
<circle cx="8" cy="150" r="19.5" opacity="0.48"/>
<circle cx="8" cy="200" r="32.5" opacity="0.64"/>
<circle cx="290" cy="6" r="39" opacity="0.85"/>
<circle cx="305" cy="35" r="26" opacity="0.56"/>
<circle cx="230" cy="122" r="13" opacity="0.8"/>
<circle cx="260" cy="59" r="14.3" opacity="0.56"/>
<circle cx="271" cy="194" r="13" opacity="0.64"/>
<circle cx="160" cy="176" r="13" opacity="0.56"/>
<circle cx="120" cy="60" r="15.6" opacity="0.32"/>
<circle cx="190" cy="95" r="18.2" opacity="0.32"/>
<circle cx="100" cy="30" r="13" opacity="0.32"/>
<circle cx="150" cy="120" r="10.4" opacity="0.4"/>
<circle cx="210" cy="160" r="11.7" opacity="0.4"/>
<circle cx="300" cy="150" r="13" opacity="0.32"/>
<circle cx="250" cy="220" r="11.7" opacity="0.4"/>
<circle cx="80" cy="150" r="11.7" opacity="0.4"/>
<circle cx="22" cy="226" r="26" opacity="0.72"/>
<circle cx="50" cy="228" r="18.2" opacity="0.48"/>
</g></mask>
<rect width="319" height="231.1" filter="url(#cmbase)" mask="url(#cmmask)"/>
<g filter="url(#cmmb)" fill="#1c1c1c"><ellipse cx="10" cy="18" rx="16" ry="24" opacity="0.6"/><ellipse cx="295" cy="5" rx="25" ry="12" opacity="0.5"/><ellipse cx="45" cy="88" rx="16" ry="9" opacity="0.4"/><ellipse cx="15" cy="228" rx="16" ry="10" opacity="0.5"/></g>
<g filter="url(#cmblur)" stroke-linecap="round" stroke-width="5.4" fill="none">
<path d="M262 9h0M314 210h0M92 4h0M34 149h0M136 81h0M149 101h0M164 182h0M174 106h0M126 145h0M96 64h0M135 133h0M116 63h0M221 219h0M112 67h0M306 86h0M54 112h0M212 170h0M315 215h0M105 12h0M196 84h0M294 175h0M207 230h0M91 199h0M20 163h0M19 0h0M91 35h0M121 232h0M306 212h0M224 155h0M136 74h0M100 98h0M44 125h0M280 148h0M268 41h0M149 150h0M317 201h0M250 184h0M127 122h0M100 160h0M58 170h0M179 52h0M276 224h0M63 157h0M277 209h0M175 86h0M191 -1h0M241 81h0M71 175h0M167 200h0M144 193h0M89 116h0M241 226h0M270 70h0M228 181h0M197 232h0M153 86h0M263 20h0M268 115h0M182 145h0M138 117h0M112 154h0M74 170h0M186 35h0M292 177h0M111 204h0M126 1h0M247 105h0M289 77h0M77 183h0M205 161h0M222 152h0M109 166h0M70 35h0M138 133h0M105 26h0M226 67h0M128 6h0M208 166h0M13 113h0M114 86h0M212 142h0M166 231h0M46 94h0M227 190h0M97 194h0M169 218h0M151 41h0M212 -0h0M252 131h0M175 26h0M76 51h0M211 226h0M175 -0h0M128 232h0M93 210h0M180 127h0M65 42h0M268 129h0M278 158h0M303 122h0M119 135h0M73 183h0M273 118h0M297 93h0M184 41h0M40 163h0M35 96h0M67 44h0M235 35h0M205 100h0M72 172h0M182 89h0M159 99h0M169 108h0M295 217h0M314 162h0M315 71h0M227 80h0M240 19h0M232 101h0M318 212h0M317 119h0M66 209h0M227 32h0M258 67h0M217 69h0M308 169h0M208 153h0M158 132h0M246 35h0M314 -1h0M104 196h0M105 227h0M28 220h0M206 12h0M154 131h0M150 89h0M156 75h0M316 217h0M285 118h0M110 25h0M93 41h0M55 144h0M239 14h0M200 63h0M256 145h0M201 25h0M171 226h0M143 93h0M46 118h0M141 0h0M146 57h0M94 114h0M215 137h0M306 158h0M313 85h0M160 164h0M37 177h0M173 53h0M112 78h0M274 159h0M135 147h0M278 87h0M5 142h0M238 72h0M130 102h0M16 39h0M266 162h0M33 203h0M137 83h0M47 133h0M278 174h0M130 146h0M125 78h0M261 106h0M148 148h0M214 17h0M153 48h0M221 113h0M210 193h0M215 44h0M151 74h0M63 207h0M168 84h0M163 2h0M260 76h0M187 86h0M54 157h0M83 92h0M311 187h0M148 89h0M5 56h0M115 9h0M1 154h0M114 80h0M321 66h0M140 190h0M44 219h0M249 154h0M221 194h0M2 175h0M127 22h0M186 186h0M263 177h0M234 7h0M64 119h0M36 60h0M49 21h0M137 198h0M163 134h0M107 176h0M308 43h0M125 6h0M145 172h0M225 230h0M285 65h0M90 106h0M119 204h0M289 113h0M239 132h0M271 217h0M105 9h0M272 128h0M144 195h0M153 228h0M288 158h0M283 97h0M61 118h0M114 161h0M321 16h0M69 57h0M56 29h0M307 202h0M109 45h0M108 38h0M292 121h0M141 156h0M247 53h0M212 38h0M196 208h0M319 90h0M112 37h0M283 214h0M127 32h0M266 199h0M170 173h0M164 7h0M94 48h0M109 77h0M48 196h0M169 125h0M158 215h0M298 105h0M281 55h0M4 55h0M182 120h0M34 146h0M201 122h0M100 26h0M226 210h0M203 210h0M186 222h0M187 101h0M160 134h0M316 108h0M288 150h0M266 191h0M119 35h0M112 134h0M112 210h0M313 108h0M97 144h0M69 196h0M176 126h0M71 128h0M257 86h0M173 125h0M215 141h0M228 96h0M128 90h0M88 103h0M189 32h0M151 138h0M293 61h0M108 28h0M79 229h0M231 93h0M109 134h0M310 0h0M313 47h0M111 6h0M262 17h0M273 164h0M185 38h0M283 96h0M201 59h0M83 25h0M319 76h0M53 198h0M145 106h0M126 200h0M201 222h0M173 28h0M213 60h0M21 120h0M183 217h0M170 9h0M214 66h0M158 226h0M77 164h0M143 98h0M216 125h0M55 189h0M254 104h0M173 155h0M175 65h0M22 100h0M73 134h0M237 75h0M110 208h0M52 38h0M62 224h0M74 9h0M198 46h0M19 193h0M246 169h0M204 109h0M-0 119h0M57 193h0M235 44h0M303 218h0M284 162h0M252 150h0M77 231h0M192 165h0M137 1h0M117 92h0M201 32h0M319 54h0M276 176h0M4 166h0M32 160h0M295 121h0M279 134h0M159 109h0M150 140h0M188 63h0M217 163h0M137 86h0M135 28h0M57 142h0M183 78h0M91 99h0M218 215h0M270 7h0M132 51h0M95 229h0M154 215h0M185 135h0M211 208h0M128 156h0M131 73h0M202 119h0M63 176h0M249 59h0M117 13h0M65 72h0M180 162h0M300 70h0M39 124h0M298 55h0M85 1h0M92 6h0M118 140h0M175 187h0M225 92h0M232 86h0M96 96h0M129 125h0M281 230h0M141 217h0M128 173h0M296 68h0M249 114h0M88 162h0M78 140h0M125 122h0M223 103h0M171 99h0M176 84h0M239 147h0M86 63h0M88 175h0M77 135h0M259 133h0M52 192h0M181 26h0M218 95h0M158 11h0M218 68h0M97 208h0M124 140h0M299 72h0M9 137h0M302 200h0M249 95h0M224 155h0M292 115h0M137 158h0M144 225h0M247 14h0M43 125h0M84 45h0M86 121h0M13 77h0M157 38h0M160 45h0M298 76h0M94 215h0M277 99h0M295 127h0M261 65h0M261 168h0M161 227h0M27 145h0M35 19h0M182 51h0M174 162h0M252 214h0M90 222h0M158 18h0M149 52h0M41 137h0M154 15h0M66 19h0M253 165h0M71 67h0M38 1h0M123 222h0M265 28h0M183 85h0M222 104h0M144 228h0M198 213h0M295 64h0M110 176h0M7 132h0M203 111h0M72 228h0M269 214h0M265 60h0M110 227h0M216 166h0M119 215h0M312 221h0M89 7h0M192 145h0M181 98h0M217 63h0M163 24h0M211 20h0M96 205h0M60 191h0M198 142h0M187 30h0M64 44h0M80 136h0M147 44h0M267 205h0M142 20h0M92 202h0M148 5h0M232 64h0M102 95h0M108 68h0M225 151h0M226 180h0M152 159h0M115 189h0M289 148h0M45 168h0M94 89h0M48 18h0M286 178h0M101 38h0M99 170h0M193 9h0M111 111h0M86 229h0M236 36h0M183 68h0M104 101h0M71 108h0M217 83h0M201 126h0M304 71h0M101 66h0M307 55h0M223 71h0M82 38h0M92 101h0M221 94h0M7 187h0M175 145h0M137 93h0M112 132h0M148 150h0M122 86h0M118 40h0M226 84h0M247 192h0M83 141h0M265 186h0M213 181h0M160 36h0M265 212h0M148 221h0M182 228h0M177 149h0M114 91h0M229 70h0M45 114h0M127 37h0M73 198h0M42 188h0M295 147h0M296 135h0M95 41h0M177 135h0M62 102h0M91 216h0M245 43h0M177 73h0M247 18h0M198 151h0M68 222h0M253 13h0M221 227h0M42 46h0M4 163h0M81 228h0M141 117h0M174 79h0M43 113h0M86 21h0M277 103h0M25 190h0M139 113h0M210 199h0M152 48h0M287 180h0M278 68h0M298 132h0M221 172h0M58 208h0M224 -0h0M295 92h0M315 155h0M131 135h0M39 32h0M116 5h0M239 203h0M158 96h0M215 115h0M225 22h0M52 47h0M82 114h0M129 170h0M41 173h0M166 78h0M183 207h0M210 87h0M31 138h0M213 105h0M134 89h0M222 110h0M174 212h0M259 35h0M132 131h0M254 123h0M6 44h0M242 31h0M160 67h0M98 225h0M252 169h0M242 71h0M29 160h0M157 111h0M150 59h0M80 83h0M235 102h0M5 90h0M209 16h0M52 6h0M262 46h0M50 129h0M188 71h0M252 190h0M316 99h0M86 124h0M182 12h0M232 23h0M315 10h0M277 230h0M212 200h0M228 158h0M244 105h0M122 0h0M312 105h0M201 19h0M286 115h0M119 70h0M244 42h0M227 129h0M209 52h0M120 179h0M195 80h0M48 132h0M44 144h0M198 122h0M229 223h0M111 115h0M-0 90h0M24 133h0M113 14h0M260 198h0M214 80h0M-1 157h0M74 164h0M238 54h0M170 159h0M87 18h0M287 118h0M98 14h0M67 148h0M57 45h0M87 37h0M257 168h0M122 225h0M116 102h0M161 64h0M38 174h0M129 103h0M265 71h0M189 142h0M101 131h0M33 145h0M243 155h0M148 24h0M182 213h0M67 34h0M57 157h0M216 212h0M51 218h0M66 225h0M245 154h0M286 153h0M65 135h0M183 186h0M148 20h0M156 118h0M297 22h0M186 92h0M154 188h0M130 28h0M160 72h0M204 80h0M164 80h0M90 183h0M189 153h0M87 184h0M69 197h0M88 229h0M277 168h0M14 176h0M47 185h0M110 169h0M111 223h0M230 54h0M252 148h0M171 171h0M180 230h0M195 225h0M220 104h0M51 185h0M132 115h0M161 167h0M105 62h0M3 89h0M40 166h0M253 89h0M306 178h0M106 222h0M306 132h0M252 4h0M116 191h0M1 80h0M116 122h0M239 109h0M7 50h0M274 37h0M156 1h0M130 164h0M148 96h0M61 180h0M193 153h0M141 93h0M213 201h0M163 188h0M90 227h0M222 37h0M184 148h0M236 6h0M39 4h0M35 183h0M127 42h0M165 206h0M110 10h0M239 6h0M212 131h0M132 215h0M305 92h0M77 87h0M190 208h0M239 28h0M311 113h0M19 104h0M67 40h0M94 113h0M221 147h0M137 98h0M8 175h0M148 133h0M257 153h0M40 160h0M108 194h0M35 168h0M108 71h0M213 23h0M90 53h0M273 68h0M86 193h0M78 168h0M126 112h0M103 64h0M193 27h0M263 75h0M237 84h0M98 129h0M154 64h0M221 62h0M65 228h0M191 217h0M181 169h0M312 167h0M283 128h0M220 69h0M84 85h0M244 160h0M36 6h0M110 212h0M137 146h0M141 99h0M190 93h0M94 65h0M4 179h0M189 185h0M228 43h0M140 143h0M187 98h0M117 195h0M131 211h0M66 219h0M120 153h0M112 143h0M107 161h0M289 125h0M166 147h0M154 26h0M320 209h0M79 15h0M246 102h0M115 38h0M31 142h0M52 130h0M85 185h0M275 74h0M210 134h0M227 230h0M221 184h0M196 16h0M299 203h0M317 161h0M138 69h0M221 137h0M265 78h0M243 232h0M267 109h0M144 179h0M159 26h0M252 157h0M99 106h0M118 167h0M67 7h0M94 74h0M234 197h0M259 9h0M199 204h0M133 183h0M190 156h0M223 88h0M300 149h0M169 176h0M191 76h0M54 3h0M121 125h0M287 87h0M13 125h0M35 116h0M95 79h0M269 139h0M207 81h0M105 209h0M291 74h0M172 129h0M34 177h0M166 156h0M203 135h0M271 215h0M157 22h0M212 43h0M116 101h0M101 55h0M320 97h0M287 123h0M107 16h0M168 59h0M99 18h0M65 197h0M106 52h0M170 192h0M277 124h0M154 100h0M293 100h0M221 116h0M126 19h0M141 61h0M44 7h0M269 57h0M227 105h0M290 92h0M90 130h0M249 205h0M125 103h0M138 167h0M260 219h0M90 10h0M308 138h0M132 47h0M137 208h0M167 8h0M106 178h0M110 80h0M76 33h0M66 28h0M67 16h0M242 23h0M160 222h0M316 105h0M232 220h0M164 45h0M165 29h0M47 81h0M291 137h0M137 161h0M182 131h0M106 73h0M159 192h0M204 196h0M73 130h0M84 170h0M212 107h0M220 68h0M9 85h0M148 9h0M65 26h0M94 67h0M214 13h0M112 100h0M130 174h0M169 133h0M198 130h0M256 125h0M83 79h0M255 188h0M18 55h0M297 15h0M83 48h0M18 177h0M174 96h0M86 30h0M156 121h0M217 178h0M258 72h0M226 30h0M137 15h0M120 45h0M47 143h0M120 13h0M51 216h0M269 14h0M86 2h0M117 118h0M85 54h0M287 172h0M143 79h0M150 4h0M301 72h0M173 189h0M84 176h0M231 183h0M175 101h0M223 41h0M263 111h0M237 42h0M71 77h0M126 159h0M160 83h0M86 173h0M109 162h0M229 98h0M49 46h0M155 97h0M146 99h0M205 70h0M140 70h0M177 44h0M244 61h0M176 34h0M143 39h0M255 28h0M270 180h0M243 136h0M239 230h0M202 80h0M74 143h0M79 191h0M200 77h0M207 12h0M260 227h0M130 45h0M44 30h0M236 20h0M51 204h0M200 62h0M223 56h0M69 211h0M182 173h0M134 100h0M318 221h0M2 44h0M108 82h0M92 192h0M298 89h0M5 13h0M317 165h0M132 150h0M114 59h0M232 81h0M112 119h0M86 10h0M268 113h0M25 178h0M6 120h0M138 104h0M191 205h0M267 167h0M284 161h0M83 113h0M157 98h0M99 48h0M289 183h0M151 146h0M308 215h0M321 65h0M128 69h0M32 55h0M117 151h0M175 147h0M195 88h0M43 159h0M27 170h0M259 204h0M96 32h0M170 35h0M111 169h0M68 134h0M176 174h0M130 202h0M0 144h0M219 44h0M26 163h0M209 145h0M135 204h0M116 223h0M22 166h0M19 135h0M142 191h0M271 99h0M194 193h0M202 94h0M231 41h0M144 198h0M68 81h0M160 90h0M257 158h0M273 84h0M76 17h0M61 147h0M243 91h0M70 131h0M300 59h0M216 70h0M35 103h0M117 20h0M43 196h0M204 42h0M18 182h0M151 119h0M211 111h0M67 55h0M24 155h0M301 181h0M145 45h0M310 99h0M80 114h0M235 195h0M297 124h0M82 12h0M205 188h0M282 167h0M74 28h0M281 43h0M100 86h0M305 128h0M10 169h0M104 126h0M86 141h0M91 172h0M249 232h0M41 20h0M62 31h0M0 183h0M190 134h0M70 28h0M105 95h0M196 3h0M199 67h0M82 19h0M32 23h0M218 225h0M221 149h0M227 187h0M217 77h0M144 203h0M248 3h0M64 141h0M87 49h0M61 47h0M260 179h0M201 35h0M120 30h0M247 225h0M4 48h0M74 203h0M48 114h0M249 35h0M5 54h0M27 43h0M147 73h0M38 197h0M274 77h0M122 33h0M209 178h0M136 47h0M252 199h0M262 84h0M138 142h0M206 200h0M169 13h0M254 87h0M40 58h0M293 116h0M116 179h0M208 228h0M232 81h0M100 176h0M189 19h0M64 58h0M185 158h0M308 107h0M313 181h0M302 134h0M157 8h0M263 124h0M81 4h0M74 93h0M285 43h0M172 166h0M47 150h0M283 212h0M212 98h0M265 89h0M255 135h0M311 170h0M166 189h0M59 172h0M43 143h0M125 32h0M189 167h0M76 88h0M134 86h0M250 128h0M267 124h0M319 124h0M241 155h0M170 7h0M73 25h0M60 189h0M187 150h0M179 182h0M266 145h0M218 140h0M216 177h0M241 73h0M33 28h0M100 181h0M27 159h0M250 124h0M50 4h0M269 96h0M153 206h0M161 161h0M269 87h0M76 44h0M186 70h0M196 150h0M71 73h0M57 147h0M205 34h0M212 103h0M79 118h0M196 56h0M135 44h0M301 173h0M85 71h0M211 94h0M182 20h0M68 172h0M263 210h0M295 79h0M243 198h0M268 3h0M29 90h0M78 132h0M112 126h0M78 213h0M110 117h0M218 47h0M15 115h0M32 6h0M83 226h0M245 60h0M41 153h0M167 33h0M159 157h0M141 167h0M87 81h0M64 137h0M130 143h0M105 21h0M95 14h0M221 21h0M124 26h0M295 183h0M150 152h0M196 185h0M117 108h0M156 196h0M108 106h0M61 46h0M43 182h0M89 28h0M202 100h0M228 20h0M18 179h0M113 182h0M242 59h0M244 189h0M63 73h0M155 150h0M102 113h0M98 102h0M26 20h0M140 91h0M140 131h0M205 177h0M250 106h0M192 157h0M131 66h0M101 62h0M311 156h0M115 157h0M164 161h0M289 99h0M159 55h0M25 142h0M128 51h0M24 117h0M76 42h0M226 146h0M145 125h0M79 214h0M179 35h0M24 151h0M54 148h0M192 5h0M110 112h0M125 74h0M136 214h0M228 144h0M35 185h0M0 224h0M144 19h0M83 182h0M73 172h0M276 84h0M249 175h0M140 12h0M14 129h0M36 130h0M80 102h0M29 21h0M285 122h0M38 118h0M102 157h0M231 168h0M60 20h0M225 161h0M128 112h0M138 184h0M184 96h0M128 168h0M145 67h0M82 51h0M319 73h0M52 116h0M89 189h0M132 2h0M195 154h0M56 3h0M263 80h0M256 231h0M206 64h0M106 147h0M138 180h0M214 113h0M141 228h0M3 77h0M79 8h0M57 119h0M244 16h0M309 141h0M119 18h0M263 86h0M216 25h0M166 187h0M184 192h0M228 175h0M102 161h0M196 63h0M306 110h0M262 181h0M175 170h0M128 188h0M182 -1h0M112 27h0M161 24h0M158 222h0M307 74h0M39 178h0M108 204h0M172 206h0M165 183h0M244 192h0M85 143h0M309 215h0M160 121h0M311 164h0M247 119h0M124 44h0M265 41h0M137 66h0M249 19h0M73 8h0M239 91h0M22 143h0M183 202h0M35 200h0M76 39h0M81 203h0M88 205h0M260 162h0M190 56h0M109 192h0M48 49h0M313 95h0M55 151h0M71 60h0M163 103h0M26 129h0M116 184h0M90 216h0M92 126h0M145 183h0M146 120h0M207 186h0M132 175h0M273 74h0M205 131h0M70 208h0M109 231h0M250 31h0M47 54h0M82 95h0M253 79h0M156 43h0M199 195h0M67 76h0M87 86h0M271 143h0M141 205h0M192 160h0M255 102h0M193 36h0M82 179h0M298 140h0M226 85h0M280 211h0M238 39h0M297 114h0M202 39h0M130 99h0M126 47h0M176 228h0" stroke="#ff60e0"/>
<path d="M116 135h0M140 172h0M19 151h0M188 -1h0M231 212h0M241 145h0M39 60h0M100 158h0M260 171h0M21 108h0M225 15h0M66 180h0M92 181h0M197 31h0M264 101h0M61 220h0M32 3h0M249 111h0M211 84h0M307 141h0M207 213h0M157 134h0M255 138h0M303 230h0M22 180h0M108 23h0M135 165h0M292 181h0M200 139h0M186 107h0M279 52h0M178 138h0M115 207h0M148 1h0M192 118h0M183 126h0M61 25h0M8 165h0M35 110h0M45 162h0M263 42h0M266 84h0M139 33h0M179 201h0M214 78h0M74 67h0M10 157h0M204 143h0M158 207h0M42 15h0M167 199h0M315 80h0M180 38h0M187 199h0M172 -0h0M45 186h0M310 203h0M318 42h0M32 194h0M28 217h0M161 214h0M288 222h0M147 169h0M95 167h0M46 198h0M281 52h0M249 79h0M113 146h0M145 21h0M131 36h0M215 154h0M214 195h0M52 109h0M210 7h0M70 137h0M314 200h0M156 3h0M225 220h0M69 64h0M311 128h0M152 108h0M143 190h0M159 4h0M236 193h0M134 -0h0M47 10h0M74 31h0M313 138h0M253 195h0M91 224h0M143 55h0M60 185h0M68 163h0M90 113h0M130 112h0M195 140h0M226 21h0M183 55h0M176 16h0M79 199h0M137 109h0M271 71h0M113 10h0M227 94h0M204 140h0M99 95h0M210 163h0M205 33h0M52 137h0M194 171h0M249 133h0M47 162h0M281 132h0M103 44h0M110 214h0M249 46h0M102 69h0M38 47h0M42 114h0M65 218h0M86 95h0M151 171h0M27 143h0M132 107h0M137 128h0M93 61h0M198 48h0M129 194h0M51 180h0M52 177h0M269 148h0M116 182h0M100 189h0M119 220h0M164 51h0M293 206h0M151 29h0M264 109h0M308 194h0M214 187h0M306 193h0M111 142h0M127 93h0M241 59h0M280 226h0M171 133h0M67 186h0M165 21h0M290 86h0M81 77h0M307 159h0M176 182h0M203 83h0M226 111h0M77 161h0M243 168h0M174 9h0M91 40h0M45 159h0M24 47h0M225 179h0M148 198h0M127 160h0M102 77h0M33 108h0M40 28h0M128 65h0M285 58h0M230 40h0M236 3h0M257 129h0M126 107h0M220 203h0M304 104h0M234 48h0M153 200h0M116 12h0M171 63h0M26 199h0M121 52h0M89 149h0M260 103h0M229 180h0M110 121h0M225 145h0M65 60h0M227 139h0M288 226h0M79 71h0M140 108h0M243 147h0M253 95h0M175 178h0M118 28h0M48 121h0M187 224h0M162 125h0M303 202h0M260 124h0M284 60h0M86 67h0M174 26h0M124 34h0M176 118h0M233 163h0M88 159h0M234 20h0M253 44h0M318 223h0M150 185h0M1 150h0M7 79h0M112 60h0M96 212h0M102 42h0M131 158h0M126 29h0M158 16h0M247 16h0M169 138h0M293 126h0M304 154h0M125 125h0M70 216h0M92 230h0M284 135h0M19 115h0M196 52h0M99 204h0M147 34h0M162 175h0M190 162h0M20 127h0M140 29h0M103 10h0M49 12h0M97 159h0M190 224h0M60 -1h0M108 115h0M205 67h0M166 140h0M25 117h0M304 119h0M228 55h0M92 173h0M89 137h0M140 127h0M100 32h0M292 120h0M65 147h0M2 141h0M246 108h0M216 220h0M126 39h0M109 90h0M39 148h0M96 48h0M319 218h0M311 74h0M140 23h0M90 134h0M225 33h0M123 15h0M146 190h0M162 24h0M230 89h0M68 201h0M313 126h0M12 43h0M25 120h0M318 55h0M71 22h0M143 208h0M77 106h0M301 66h0M142 185h0M163 59h0M217 202h0M87 158h0M48 182h0M132 198h0M75 212h0M207 93h0M129 9h0M127 78h0M175 79h0M83 37h0M35 154h0M-0 62h0M48 52h0M113 194h0M107 174h0M265 67h0M125 136h0M314 117h0M300 119h0M66 71h0M52 56h0M150 98h0M256 112h0M253 205h0M180 218h0M29 -1h0M84 73h0M120 157h0M269 166h0M179 -1h0M240 100h0M110 109h0M209 78h0M199 40h0M112 180h0M121 80h0M177 93h0M128 86h0M153 142h0M181 187h0M15 182h0M119 97h0M258 210h0M122 191h0M185 68h0M106 86h0M195 10h0M150 208h0M237 44h0M282 86h0M67 158h0M264 118h0M3 133h0M317 144h0M94 219h0M164 145h0M212 57h0M183 118h0M311 101h0M162 202h0M141 140h0M127 96h0M211 76h0M178 143h0M127 -1h0M109 3h0M94 194h0M226 12h0M83 2h0M272 34h0M99 154h0M86 37h0M166 125h0M120 42h0M202 195h0M121 174h0M101 25h0M31 41h0M237 111h0M132 43h0M159 211h0M284 150h0M34 190h0M259 84h0M278 44h0M232 184h0M47 189h0M136 196h0M22 160h0M125 179h0M53 22h0M67 212h0M37 122h0M311 196h0M166 195h0M105 91h0M68 129h0M166 113h0M271 42h0M21 186h0M67 144h0M208 205h0M129 191h0M236 74h0M251 172h0M240 135h0M143 121h0M80 73h0M294 193h0M64 125h0M46 47h0M102 208h0M281 113h0M113 158h0M196 47h0M288 61h0M182 155h0M92 78h0M212 124h0M44 206h0M150 181h0M138 217h0M172 103h0M96 158h0M65 202h0M154 36h0M170 57h0M247 37h0M44 191h0M321 128h0M103 16h0M68 166h0M154 164h0M133 209h0M73 160h0M171 203h0M86 62h0M153 221h0M154 216h0M225 99h0M257 209h0M72 162h0M81 173h0M148 145h0M122 84h0M95 130h0M286 221h0M179 194h0M193 181h0M297 229h0M136 143h0M222 207h0M264 93h0M40 36h0M7 181h0M3 128h0M10 160h0M96 73h0M97 190h0M16 5h0M189 217h0M77 29h0M252 24h0M84 195h0M58 52h0M215 199h0M320 223h0M64 107h0M198 153h0M83 108h0M175 38h0M124 116h0M151 105h0M135 55h0M251 163h0M13 148h0M89 166h0M103 214h0M251 227h0M159 48h0M86 115h0M237 139h0M289 201h0M77 54h0M95 220h0M312 161h0M151 232h0M133 71h0M89 147h0M157 105h0M24 147h0M300 185h0M127 139h0M248 227h0M9 199h0M33 131h0M295 117h0M192 174h0M234 66h0M74 167h0M145 164h0M236 174h0M313 92h0M20 123h0M102 191h0M133 66h0M97 127h0M287 95h0M214 63h0M142 79h0M285 230h0M259 230h0M220 220h0M209 82h0M191 61h0M149 133h0M116 201h0M48 39h0M190 228h0M229 149h0M208 63h0M102 187h0M312 144h0M172 112h0M66 170h0M250 150h0M249 40h0M81 67h0M173 151h0M295 73h0M63 36h0M289 143h0M126 118h0M194 78h0M250 168h0M86 93h0M92 159h0M29 141h0M247 -1h0M35 133h0M236 23h0M126 85h0M249 122h0M269 210h0M173 180h0M211 109h0M224 20h0M129 182h0M152 118h0M107 98h0M227 221h0M213 39h0M261 95h0M126 173h0M57 38h0M287 217h0M44 35h0M217 182h0M317 204h0M184 136h0M218 52h0M310 115h0M227 195h0M86 83h0M158 52h0M44 142h0M43 207h0M100 164h0M109 183h0M99 135h0M75 190h0M178 64h0M137 210h0M179 82h0M126 203h0M221 157h0M269 140h0M142 230h0M142 73h0M228 53h0M167 136h0M229 102h0M82 32h0M237 -1h0M98 57h0M140 49h0M176 72h0M37 137h0M143 52h0M297 201h0M138 228h0M52 200h0M87 16h0M224 205h0M48 212h0M266 128h0M39 155h0M85 25h0M195 202h0M129 106h0M186 6h0M15 185h0M147 129h0M163 35h0M102 47h0M67 53h0M216 169h0M114 51h0M259 39h0M143 135h0M127 110h0M60 116h0M303 195h0M174 155h0M120 4h0M205 200h0M86 198h0M246 222h0M38 44h0M261 205h0M109 62h0M86 102h0M41 131h0M82 9h0M199 185h0M135 150h0M271 92h0M133 131h0M251 145h0M172 225h0M49 125h0M2 155h0M186 3h0M202 11h0M158 189h0M176 13h0M289 230h0M124 95h0M81 131h0M97 228h0M56 62h0M88 191h0M57 178h0M234 156h0M140 7h0M135 25h0M139 171h0M116 195h0M220 87h0M172 64h0M42 212h0M169 51h0M294 186h0M182 142h0M56 25h0M136 111h0M124 16h0M128 127h0M14 51h0M136 154h0M60 3h0M186 61h0M52 46h0M121 116h0M259 80h0M196 12h0M74 48h0M200 161h0M16 129h0M267 141h0M183 63h0M125 165h0M39 113h0M231 105h0M105 181h0M113 129h0M256 162h0M111 167h0M157 53h0M265 161h0M101 162h0M149 71h0M1 109h0M93 52h0M17 153h0M117 178h0M267 156h0M316 198h0M84 121h0M17 176h0M61 154h0M189 221h0M321 110h0" stroke="#c8ff60"/>
<path d="M172 215h0M27 116h0M193 53h0M36 217h0M102 179h0M127 74h0M172 4h0M181 32h0M215 73h0M223 170h0M191 51h0M314 221h0M162 74h0M208 225h0M152 201h0M32 120h0M128 130h0M102 99h0M234 179h0M59 59h0M227 77h0M147 113h0M304 49h0M287 207h0M106 126h0M165 167h0M278 109h0M148 27h0M292 163h0M165 217h0M72 129h0M308 76h0M42 192h0M62 123h0M80 95h0M141 31h0M217 211h0M147 87h0M255 140h0M204 206h0M239 114h0M13 93h0M132 80h0M90 51h0M47 208h0M234 29h0M180 185h0M100 114h0M80 163h0M153 9h0M141 103h0M201 45h0M290 227h0M142 183h0M310 95h0M303 164h0M5 168h0M260 51h0M132 13h0M4 145h0M184 198h0M125 147h0M252 136h0M109 201h0M241 68h0M275 89h0M134 153h0M87 210h0M92 9h0M289 142h0M97 171h0M248 98h0M152 109h0M307 51h0M206 82h0M200 109h0M33 148h0M211 153h0M294 231h0M244 140h0M230 73h0M109 187h0M102 121h0M42 140h0M102 87h0M100 17h0M100 120h0M230 207h0M244 218h0M117 53h0M180 33h0M209 119h0M87 77h0M186 189h0M57 112h0M88 46h0M97 141h0M76 56h0M199 75h0M189 122h0M146 201h0M199 34h0M74 147h0M248 15h0M208 196h0M240 173h0M54 159h0M78 100h0M196 119h0M224 86h0M291 127h0M281 148h0M96 5h0M122 168h0M102 188h0M168 152h0M253 141h0M94 132h0M54 36h0M156 29h0M282 93h0M115 97h0M64 154h0M199 105h0M191 200h0M50 227h0M261 127h0M154 54h0M154 30h0M179 111h0M98 228h0M143 151h0M151 18h0M111 221h0M308 220h0M131 -1h0M2 125h0M64 159h0M127 143h0M11 125h0M164 15h0M320 192h0M25 123h0M321 140h0M115 128h0M46 179h0M207 59h0M120 212h0M298 210h0M317 13h0M79 31h0M127 4h0M296 184h0M158 59h0M300 81h0M118 211h0M90 84h0M30 153h0M205 57h0M298 206h0M214 229h0M97 146h0M265 169h0M240 198h0M140 211h0M155 67h0M38 27h0M173 227h0M262 208h0M4 189h0M145 42h0M58 188h0M267 104h0M15 24h0M141 138h0M201 95h0M316 130h0M134 116h0M102 7h0M209 198h0M94 105h0M7 97h0M20 144h0M316 59h0M79 -0h0M103 93h0M36 22h0M1 131h0M81 44h0M139 82h0M118 89h0M17 122h0M249 180h0M116 3h0M2 182h0M295 199h0M281 89h0M68 205h0M134 17h0M316 124h0M256 178h0M43 156h0M255 82h0M144 12h0M50 173h0M246 188h0M141 10h0M248 4h0M176 138h0M231 159h0M4 86h0M100 79h0M163 116h0M134 42h0M99 194h0M109 -1h0M183 224h0M179 169h0M99 7h0M138 11h0M208 26h0M165 99h0M241 195h0M127 15h0M28 112h0M130 124h0M230 230h0M97 162h0M202 129h0M74 136h0M34 99h0M43 46h0M90 144h0M104 167h0M91 19h0M259 222h0M192 31h0M244 86h0M250 157h0M185 49h0M133 128h0M195 189h0M307 165h0M313 204h0M247 183h0M189 72h0M7 48h0M191 49h0M247 218h0M94 177h0M71 231h0M160 38h0M288 68h0M58 196h0M89 154h0M99 142h0M189 119h0M125 80h0M216 7h0M210 190h0M168 221h0M161 129h0M25 147h0M157 34h0M103 128h0M38 128h0M15 148h0M183 16h0M42 106h0M112 44h0M57 166h0M160 12h0M147 179h0M80 219h0M244 56h0M129 29h0M138 19h0M312 105h0M240 111h0M199 159h0M103 115h0M86 208h0M135 39h0M122 27h0M91 61h0M162 37h0M284 200h0M283 107h0M179 69h0M243 221h0M271 146h0M189 24h0M9 92h0M63 192h0M210 79h0M129 148h0M272 40h0M76 192h0M212 229h0M120 202h0M79 20h0M218 124h0M74 51h0M186 53h0M32 44h0M321 135h0M109 160h0M310 64h0M84 23h0M142 105h0M82 131h0M230 162h0M172 69h0M100 84h0M293 71h0M140 134h0M256 122h0M295 136h0M134 102h0M135 2h0M-1 176h0M216 43h0M259 100h0M211 138h0M175 100h0M153 60h0M171 66h0M243 39h0M73 192h0M94 221h0M246 167h0M129 202h0M226 138h0M69 142h0M234 73h0M22 106h0M155 150h0M106 205h0M176 177h0M95 152h0M207 45h0M72 79h0M252 203h0M118 52h0M259 200h0M141 121h0M183 72h0M269 163h0M37 57h0M43 91h0M223 215h0M264 25h0M232 61h0M89 108h0M169 140h0M226 172h0M77 70h0M56 150h0M36 106h0M101 149h0M203 67h0M162 108h0M199 127h0M161 78h0M38 21h0M36 112h0M188 152h0M225 35h0M312 225h0M106 29h0M137 55h0M260 111h0M71 158h0M138 145h0M308 89h0M153 21h0M46 207h0M81 50h0M38 30h0M209 108h0M118 25h0M301 191h0M125 154h0M294 220h0M51 168h0M155 231h0M158 159h0M154 76h0M229 114h0M230 28h0M319 171h0M84 154h0M265 65h0M224 55h0M158 225h0M183 147h0M67 176h0M124 151h0M291 172h0M52 143h0M130 65h0M236 157h0M33 155h0M285 212h0M241 183h0M272 17h0M215 35h0M207 122h0M227 215h0M169 54h0M269 158h0M244 35h0M69 44h0M119 163h0M229 13h0M169 149h0M186 80h0M38 151h0M95 198h0M292 201h0M306 80h0M96 22h0M32 0h0M287 33h0M81 157h0M233 226h0M43 109h0M195 128h0M272 109h0M52 207h0M195 100h0M229 87h0M56 30h0M308 230h0M177 90h0M37 163h0M28 100h0M87 33h0M202 163h0M70 124h0M120 69h0M64 129h0M109 220h0M84 76h0M97 100h0M106 217h0M156 80h0M59 64h0M184 217h0M214 98h0M221 205h0M268 220h0M48 201h0M41 110h0M306 71h0M160 105h0M188 125h0M75 230h0M272 161h0M110 18h0M268 117h0M118 143h0M134 173h0M96 215h0M188 61h0M50 72h0M196 124h0M300 217h0M317 163h0M272 177h0M316 168h0M156 61h0M20 168h0M237 26h0M86 99h0M122 68h0M235 97h0M87 194h0M193 63h0M170 221h0M263 144h0M276 178h0M310 181h0M96 82h0M305 124h0M145 11h0M234 52h0M117 21h0M48 3h0M203 88h0M255 71h0M143 78h0M280 221h0M192 29h0M180 204h0M181 68h0M32 128h0M161 204h0M205 74h0M280 111h0M45 55h0M122 199h0M165 191h0M81 40h0M64 115h0M115 141h0M94 169h0M244 123h0M256 73h0M118 128h0M105 163h0M61 170h0M151 161h0M114 166h0M130 167h0M82 192h0M97 19h0M178 141h0M3 132h0M110 54h0M57 218h0M62 144h0M161 86h0M168 120h0M81 47h0M66 12h0M183 102h0M72 24h0M146 79h0M153 89h0M302 144h0M230 146h0M102 4h0M11 62h0M265 147h0M198 10h0M163 90h0M42 135h0M137 96h0M166 144h0M53 185h0M277 57h0M0 92h0M88 15h0M79 54h0M167 55h0M236 80h0M49 138h0M46 31h0M119 112h0M16 49h0M159 208h0M211 148h0M124 127h0M34 121h0M228 59h0M10 48h0M300 220h0M58 145h0M310 44h0M57 177h0M99 63h0M129 35h0M179 176h0M154 147h0M254 9h0M191 180h0M116 210h0M99 215h0M278 117h0M192 189h0M249 7h0M198 18h0M196 180h0" stroke="#70ff90"/>
<path d="M30 106h0M115 115h0M244 184h0M5 116h0M157 77h0M63 172h0M159 115h0M299 128h0M158 44h0M115 119h0M242 14h0M244 99h0M244 176h0M157 153h0M276 71h0M105 190h0M287 135h0M210 151h0M30 171h0M264 123h0M154 135h0M265 25h0M12 144h0M223 84h0M84 201h0M37 141h0M231 83h0M15 167h0M321 57h0M250 119h0M205 128h0M253 192h0M303 89h0M227 4h0M123 9h0M170 74h0M94 151h0M169 76h0M278 37h0M57 71h0M7 39h0M24 106h0M224 196h0M185 110h0M253 123h0M219 89h0M151 45h0M100 -0h0M83 58h0M76 120h0M89 49h0M78 26h0M250 159h0M165 12h0M79 80h0M52 165h0M44 158h0M262 74h0M127 224h0M108 56h0M1 138h0M169 214h0M214 148h0M153 18h0M129 213h0M33 177h0M149 213h0M230 51h0M41 119h0M140 150h0M125 12h0M244 7h0M185 126h0M48 37h0M98 71h0M321 60h0M171 104h0M105 185h0M19 76h0M227 197h0M201 51h0M314 61h0M221 45h0M70 222h0M10 127h0M131 228h0M278 167h0M25 138h0M269 34h0M69 136h0M310 82h0M306 162h0M179 4h0M66 60h0M17 179h0M211 15h0M201 27h0M112 197h0M232 60h0M194 105h0M217 156h0M256 76h0M77 83h0M92 71h0M173 89h0M221 51h0M37 20h0M74 -1h0M124 191h0M193 113h0M31 167h0M179 16h0M145 96h0M60 184h0M139 135h0M81 128h0M49 172h0M80 176h0M208 96h0M163 150h0M24 140h0M86 146h0M198 79h0M36 125h0M73 121h0M116 16h0M288 52h0M167 215h0M132 121h0M220 17h0M261 92h0M209 140h0M166 103h0M202 3h0M60 139h0M82 41h0M202 169h0M49 147h0M196 22h0M166 137h0M170 224h0M304 211h0M320 106h0M181 58h0M8 87h0M116 204h0M116 144h0M220 122h0M202 224h0M262 218h0M318 138h0M92 55h0M177 49h0M12 170h0M166 170h0M318 147h0M199 85h0M195 215h0M44 1h0M137 60h0M134 162h0M183 83h0M256 227h0M17 125h0M278 201h0M303 132h0M173 57h0M191 169h0M190 87h0M151 191h0M173 174h0M234 92h0M282 160h0M9 184h0M149 111h0M45 166h0M321 165h0M159 101h0M132 153h0M156 92h0M97 201h0M57 35h0M263 117h0M253 209h0M54 129h0M254 0h0M287 225h0M60 135h0M132 21h0M132 37h0M111 31h0M72 225h0M150 167h0M121 163h0M47 32h0M135 80h0M153 -0h0M59 214h0M282 140h0M281 106h0M301 189h0M93 136h0M11 142h0M249 164h0M128 212h0M221 59h0M70 180h0M236 95h0M183 192h0M105 104h0M11 97h0M90 11h0M121 137h0M47 216h0M54 176h0M266 99h0M167 86h0M252 108h0M143 110h0M138 22h0M45 50h0M243 77h0M2 30h0M151 56h0M289 42h0M31 52h0M170 60h0M144 144h0M215 180h0M234 58h0M172 21h0M1 135h0M197 7h0M128 49h0M105 119h0M163 112h0M243 74h0M218 136h0M188 17h0M51 122h0M45 106h0M262 71h0M88 169h0M122 188h0M249 190h0M163 9h0M72 23h0M144 205h0M182 160h0M56 168h0M71 118h0M145 160h0M25 194h0M296 208h0M126 10h0M270 169h0M258 115h0M61 23h0M160 185h0M196 198h0M182 41h0M209 68h0M186 113h0M119 33h0M269 206h0M66 4h0M15 89h0M161 81h0M224 120h0M261 213h0M150 0h0M21 124h0M321 11h0M150 163h0M190 26h0M169 38h0M202 206h0M43 25h0M129 99h0M23 33h0M99 42h0M55 131h0M33 119h0M281 207h0M214 191h0M91 87h0M133 32h0M150 61h0M168 3h0M139 4h0M212 115h0M137 136h0M242 204h0M192 96h0M202 199h0M60 141h0M122 38h0M136 57h0M177 152h0M88 79h0M320 119h0M302 137h0M102 231h0M38 202h0M318 151h0M167 60h0M257 11h0M310 184h0M177 141h0M313 122h0M168 212h0M288 110h0M141 177h0M228 98h0M278 162h0M80 196h0M105 48h0M126 66h0M318 208h0M190 199h0M314 140h0M87 52h0M74 55h0M243 48h0M106 42h0M243 137h0M137 202h0M76 67h0M235 0h0M63 1h0M291 77h0M9 111h0M96 60h0M73 16h0M151 199h0M45 211h0M180 224h0M221 215h0M179 199h0M123 106h0M214 1h0M156 148h0M60 210h0M87 189h0M257 7h0M129 151h0M246 137h0M193 2h0M-1 113h0M109 141h0M52 147h0M203 115h0M121 5h0M89 31h0M189 179h0M179 121h0M182 220h0M54 134h0M106 70h0M202 133h0M11 163h0M319 201h0M63 181h0M58 64h0M251 137h0M259 142h0M90 70h0M155 43h0M119 207h0M74 119h0M154 103h0M64 178h0M314 209h0M122 176h0M288 57h0M180 150h0M284 107h0M22 51h0M170 42h0M13 172h0M125 230h0M152 50h0M295 178h0M201 148h0M180 110h0M284 165h0M256 20h0M201 214h0M212 50h0M165 51h0M29 116h0M267 175h0M303 158h0M186 8h0M12 118h0M105 38h0M107 31h0M190 42h0M230 149h0M287 94h0M111 123h0M28 192h0M155 224h0M121 23h0M113 107h0M86 108h0M155 180h0M206 -1h0M314 82h0M210 128h0M99 173h0M105 1h0M98 201h0M115 131h0M290 125h0M147 227h0M245 194h0M314 71h0M78 101h0M260 158h0M178 13h0M278 59h0M166 99h0M224 4h0M77 129h0M191 177h0M245 32h0M193 228h0M125 165h0M264 148h0M120 43h0M211 96h0M96 2h0M62 80h0M128 14h0M109 49h0M255 132h0M187 171h0M262 183h0M245 207h0M45 123h0M44 25h0M34 192h0M105 92h0M23 127h0M150 81h0M48 28h0M66 160h0M119 131h0M205 19h0M146 184h0M245 127h0M301 167h0M74 140h0M72 36h0M53 158h0M143 3h0M10 0h0M205 11h0M48 178h0M140 55h0M150 195h0M157 184h0M275 86h0M242 166h0M228 135h0M33 172h0M106 138h0M321 196h0M149 114h0M234 4h0M94 154h0M87 144h0M113 42h0M173 138h0M156 33h0M77 120h0M29 175h0M119 126h0M217 87h0M175 19h0M64 170h0M201 5h0M218 127h0M275 45h0M290 214h0M171 156h0M105 4h0M77 223h0M207 149h0M14 132h0M62 227h0M162 55h0M232 17h0M211 91h0M312 219h0M169 169h0M250 183h0M72 0h0M147 141h0M212 4h0M105 57h0M281 156h0M240 104h0M176 66h0M96 133h0M198 135h0M132 26h0M56 128h0M265 134h0M229 190h0M213 87h0M248 219h0M106 64h0M62 173h0M165 207h0M246 9h0M192 71h0M118 10h0M228 201h0M149 14h0M21 130h0M196 159h0M27 173h0M175 54h0M157 157h0M16 102h0M266 209h0M200 156h0M265 139h0M99 139h0M240 123h0M239 55h0M118 122h0M44 190h0M198 102h0M10 44h0M117 213h0M286 78h0M185 33h0M102 177h0M185 172h0M233 26h0M64 163h0M148 29h0M103 22h0M114 77h0M140 153h0M311 93h0M69 227h0M250 61h0M128 184h0M91 119h0M241 161h0M311 228h0M86 45h0M81 209h0M262 1h0" stroke="#ffff60"/>
<path d="M130 16h0M104 -1h0M135 104h0M179 154h0M94 16h0M236 119h0M60 230h0M71 33h0M51 31h0M146 133h0M186 141h0M149 92h0M57 206h0M31 162h0M102 167h0M267 223h0M253 145h0M124 203h0M71 13h0M237 220h0M224 172h0M229 3h0M187 196h0M290 97h0M87 127h0M169 -1h0M301 204h0M81 167h0M263 160h0M310 180h0M94 1h0M20 126h0M116 221h0M308 67h0M90 179h0M302 196h0M19 152h0M140 36h0M81 126h0M-0 208h0M234 140h0M265 220h0M83 104h0M297 192h0M145 175h0M117 181h0M273 212h0M67 33h0M36 63h0M57 41h0M300 113h0M147 67h0M86 131h0M239 83h0M103 226h0M196 19h0M258 13h0M304 67h0M250 -0h0M191 164h0M241 150h0M125 132h0M207 47h0M228 226h0M260 131h0M241 38h0M189 143h0M60 152h0M91 76h0M64 49h0M134 185h0M230 -1h0M119 169h0M134 203h0M31 154h0M192 13h0M272 154h0M42 56h0M223 7h0M96 186h0M164 209h0M249 109h0M41 10h0M81 204h0M148 91h0M37 182h0M133 34h0M115 105h0M71 159h0M292 147h0M209 9h0M200 64h0M207 6h0M111 104h0M100 124h0M47 43h0M249 22h0M134 125h0M218 105h0M143 17h0M257 150h0M230 201h0M195 45h0M210 211h0M134 6h0M279 152h0M176 129h0M97 57h0M214 123h0M223 51h0M52 64h0M16 158h0M177 221h0M136 20h0M55 193h0M279 213h0M52 134h0M-1 1h0M76 173h0M255 54h0M163 77h0M78 124h0M106 154h0M153 5h0M310 210h0M163 221h0M84 136h0M233 154h0M172 45h0M284 205h0M6 129h0M321 112h0M138 225h0M132 204h0M217 57h0M289 128h0M70 52h0M42 201h0M282 135h0M77 189h0M172 175h0M113 160h0M137 149h0M144 6h0M136 51h0M162 42h0M274 119h0M179 61h0M305 170h0M166 105h0M296 68h0M136 220h0M271 169h0M218 188h0M94 139h0M215 9h0M121 129h0M156 164h0M131 118h0M76 186h0M119 199h0M222 89h0M67 231h0M200 41h0M286 113h0M76 11h0M62 77h0M19 130h0M78 95h0M58 229h0M316 97h0M304 86h0M145 82h0M173 135h0M233 225h0M58 120h0M180 29h0M303 161h0M76 60h0M291 205h0M239 166h0M94 32h0M305 190h0M248 25h0M222 136h0M119 161h0M215 32h0M248 44h0M213 30h0M32 97h0M146 208h0M196 221h0M176 163h0M12 106h0M212 12h0M192 140h0M191 84h0M288 196h0M246 156h0M53 203h0M313 131h0M225 113h0M155 85h0M94 109h0M79 26h0M297 198h0M73 204h0M62 176h0M93 19h0M265 231h0M108 50h0M290 132h0M228 208h0M134 158h0M45 196h0M276 208h0M318 38h0M222 99h0M80 58h0M185 1h0M240 78h0M126 94h0M122 215h0M215 91h0M193 85h0M28 41h0M166 154h0M164 121h0M273 86h0M33 205h0M1 44h0M108 223h0M175 199h0M36 164h0M215 108h0M104 35h0M13 110h0M93 189h0M87 57h0M321 81h0M206 146h0M186 163h0M145 220h0M93 162h0M97 9h0M79 182h0M94 97h0M126 41h0M248 78h0M309 134h0M136 162h0M253 100h0M166 116h0M86 135h0M252 178h0M111 186h0M122 183h0M1 123h0M50 119h0M275 212h0M139 45h0M97 1h0M93 226h0M160 195h0M230 36h0M318 194h0M192 44h0M80 7h0M205 103h0M78 176h0M137 76h0M16 107h0M218 206h0M148 48h0M291 57h0M262 99h0M86 227h0M243 29h0M62 60h0M114 62h0M315 230h0M237 143h0M161 43h0M183 9h0M178 148h0M228 169h0M237 159h0M41 146h0M223 12h0M117 80h0M255 35h0M121 123h0M65 123h0M100 29h0M196 182h0M190 7h0M199 53h0M74 215h0M224 66h0M29 57h0M82 84h0M287 165h0M281 56h0M134 136h0M37 189h0M250 38h0M167 163h0M156 11h0M33 113h0M84 167h0M131 76h0M176 208h0M248 203h0M206 118h0M101 197h0M310 198h0M249 147h0M134 65h0M174 195h0M205 227h0M271 27h0M166 9h0M115 109h0M31 150h0M200 179h0M234 116h0M238 99h0M303 103h0M54 195h0M160 231h0M190 190h0M108 35h0M291 195h0M302 216h0M137 58h0M179 159h0M67 154h0M80 151h0M214 150h0M23 150h0M198 119h0M316 186h0M318 26h0M120 201h0M212 217h0M199 99h0M65 213h0M38 36h0M25 108h0M191 74h0M109 33h0M235 17h0M232 77h0M137 172h0M179 11h0M70 202h0M79 146h0M168 37h0M275 183h0M50 125h0M310 122h0M289 55h0M65 132h0M134 218h0M156 90h0M285 192h0M302 121h0M106 197h0M193 127h0M240 106h0M265 219h0M79 99h0M260 161h0M194 75h0M35 170h0M273 151h0M70 79h0M233 134h0M147 43h0M275 149h0M205 24h0M74 99h0M302 82h0M60 53h0M151 228h0M200 14h0M99 76h0M107 224h0M162 19h0M121 185h0M226 65h0M210 214h0M60 41h0M294 144h0M85 42h0M311 230h0M0 42h0M273 231h0M38 131h0M111 30h0M15 169h0M226 36h0M165 92h0M240 5h0M76 4h0M137 106h0M252 105h0M133 225h0M202 158h0M13 165h0M31 116h0M172 74h0M274 135h0M132 231h0M175 8h0M300 105h0M166 65h0M112 231h0M42 52h0M105 75h0M83 184h0M53 11h0" stroke="#ff9850"/>
<path d="M73 187h0M190 127h0M204 121h0M257 -0h0M69 132h0M252 185h0M137 52h0M137 6h0M174 6h0M294 77h0M163 204h0M126 208h0M306 135h0M165 122h0M157 109h0M170 188h0M172 70h0M85 7h0M99 112h0M316 113h0M258 118h0M240 170h0M266 105h0M227 38h0M102 84h0M189 68h0M207 131h0M201 192h0M316 129h0M102 110h0M307 129h0M42 178h0M64 151h0M223 138h0M286 225h0M45 22h0M76 74h0M180 209h0M220 95h0M163 193h0M108 132h0M127 220h0M47 170h0M318 122h0M198 23h0M181 136h0M233 184h0M226 0h0M-1 57h0M163 129h0M76 208h0M149 39h0M95 151h0M82 1h0M165 131h0M116 228h0M139 126h0M270 217h0M310 86h0M179 20h0M148 84h0M228 70h0M156 67h0M64 28h0M103 224h0M1 174h0M133 96h0M147 214h0M114 35h0M300 96h0M244 21h0M74 42h0M25 184h0M166 131h0M230 176h0M293 165h0M135 230h0M89 36h0M314 74h0M143 158h0M243 97h0M181 164h0M86 205h0M318 102h0M87 218h0M105 5h0M66 117h0M237 205h0M32 21h0M89 94h0M262 223h0M251 35h0M143 71h0M80 30h0M121 113h0M234 143h0M96 137h0M118 6h0M83 15h0M145 147h0M58 153h0M276 128h0M278 94h0M118 139h0M304 73h0M91 73h0M305 64h0M89 38h0M270 30h0M16 113h0M174 16h0M73 221h0M18 2h0M12 164h0M169 87h0M209 2h0M227 167h0M290 60h0M162 87h0M223 74h0M241 211h0M164 67h0M263 106h0M69 37h0M92 129h0M140 148h0M127 119h0M187 117h0M131 129h0M242 149h0M276 144h0M263 28h0M85 13h0M15 41h0M183 75h0M129 135h0M167 27h0M234 217h0M115 49h0M66 39h0M27 176h0M158 82h0M205 220h0M173 130h0M61 101h0M282 173h0M320 164h0M275 226h0M130 83h0M165 176h0M306 91h0M5 63h0M303 109h0M124 188h0M284 183h0M186 76h0M192 212h0M183 166h0M75 155h0M284 219h0M89 207h0M172 229h0M241 26h0M111 84h0M259 185h0M124 169h0M196 230h0M166 20h0M256 187h0M112 226h0M146 205h0M95 51h0M154 12h0M172 82h0M135 212h0M126 21h0M310 110h0M73 195h0M160 140h0M222 170h0M133 47h0M204 89h0M19 93h0M309 224h0M32 25h0M207 70h0M32 133h0M102 138h0M124 82h0M63 206h0M232 31h0M214 93h0M125 70h0M80 61h0M89 65h0M207 171h0M102 181h0M250 93h0M182 6h0M272 97h0M230 46h0M69 150h0M252 7h0M176 165h0M191 149h0M34 156h0M110 171h0M160 92h0M134 223h0M205 51h0M167 66h0M84 189h0M26 38h0M254 64h0M228 153h0" stroke="#b060ff"/>
<path d="M119 85h0M273 201h0M82 221h0M142 65h0M298 218h0M219 103h0M172 31h0M294 133h0M309 143h0M123 132h0M186 15h0M232 150h0M231 134h0M151 66h0M49 165h0M148 223h0M39 9h0M183 81h0M82 99h0M61 112h0M175 201h0M219 208h0M269 10h0M274 167h0M87 119h0M60 195h0M207 54h0M306 189h0M148 138h0M79 13h0M207 128h0M182 181h0M180 211h0M97 89h0M239 208h0M174 122h0M160 75h0M123 73h0M52 54h0M208 124h0M30 132h0M65 144h0M224 185h0M138 29h0M44 146h0M222 142h0M177 75h0M68 65h0M217 113h0M41 38h0M10 116h0M208 148h0M277 83h0M315 47h0M73 219h0M127 218h0M290 113h0M57 159h0M6 70h0M191 22h0M24 154h0M215 96h0M316 229h0M229 173h0M249 209h0M218 98h0M153 209h0M119 105h0M47 127h0M147 12h0M86 112h0M70 3h0M174 185h0M149 64h0M154 44h0M56 63h0M218 218h0M138 40h0M151 25h0M60 166h0M124 215h0M177 62h0M128 142h0M204 112h0M30 39h0M109 190h0M184 22h0M230 66h0M276 173h0M23 134h0M217 61h0M126 108h0M135 180h0M318 64h0M241 180h0M119 218h0M113 173h0M298 196h0M195 31h0M66 112h0M185 208h0M178 221h0M77 36h0M42 206h0M185 154h0M237 127h0M113 202h0M204 48h0M282 100h0M51 163h0M188 132h0M87 180h0M45 132h0M20 100h0M174 144h0M73 178h0M90 176h0M40 7h0M152 165h0M140 116h0M168 128h0M134 77h0M111 1h0M71 43h0M202 153h0M47 161h0M243 158h0M195 157h0M105 43h0M53 173h0M142 3h0" stroke="#60a8ff"/>
<path d="M67 200h0M17 141h0M115 91h0M140 38h0M126 52h0M195 195h0M211 206h0M227 224h0M312 148h0M125 157h0M291 82h0M193 137h0M223 64h0M293 134h0M5 61h0M93 45h0M92 156h0M185 114h0M95 77h0M211 176h0M110 126h0M153 74h0M54 168h0M180 106h0M49 177h0M236 63h0M159 201h0M224 208h0M298 86h0M294 200h0M79 65h0M197 213h0M263 232h0M314 179h0M125 212h0M320 82h0M153 59h0M103 80h0M161 57h0M293 213h0M207 189h0M121 119h0M158 142h0M287 104h0M37 51h0M215 223h0M82 208h0M10 28h0M54 180h0M88 141h0M212 172h0M233 39h0M176 113h0M211 64h0M141 51h0M199 146h0M3 65h0M191 115h0M164 195h0M82 60h0M33 180h0M132 180h0M247 198h0M169 143h0M189 84h0M221 42h0M81 212h0M70 122h0M273 48h0M281 186h0M132 221h0M164 63h0M283 124h0M77 0h0M56 76h0M245 136h0M24 111h0M275 111h0M188 36h0M97 111h0M265 121h0M75 209h0M193 121h0M238 183h0M246 215h0M142 41h0M61 51h0M276 92h0M262 91h0M87 151h0M45 150h0M62 157h0M55 205h0M169 113h0M200 38h0M186 20h0M96 106h0M9 181h0M244 92h0M116 55h0M52 154h0M62 160h0M192 224h0M311 76h0M183 176h0M172 201h0M70 153h0M313 194h0M189 9h0M50 197h0M253 83h0M257 161h0M38 37h0M113 97h0M275 65h0M55 153h0M64 56h0M293 171h0M212 9h0M294 42h0M100 89h0M13 97h0M145 47h0M84 128h0M301 171h0M79 222h0M289 215h0M102 32h0M256 51h0M261 54h0M270 22h0M206 61h0M145 127h0M161 -0h0M306 150h0M52 35h0M157 166h0M43 174h0M78 112h0M116 84h0M210 118h0M228 7h0M195 228h0M40 198h0M264 32h0M181 152h0M166 178h0M190 39h0M159 131h0M307 111h0M204 17h0M151 10h0M17 149h0M59 223h0M98 4h0M169 30h0M160 10h0M10 132h0M221 3h0M64 185h0M88 224h0M185 64h0M177 28h0M55 137h0M199 173h0M72 19h0M91 82h0M102 205h0M256 100h0M217 132h0M299 146h0M312 80h0M130 20h0M199 25h0M226 62h0" stroke="#ff5060"/>
<path d="M230 24h0M182 106h0M57 202h0M193 98h0M185 121h0M143 33h0M237 49h0M108 217h0M134 160h0M152 32h0M231 204h0M199 209h0M258 0h0M299 77h0M311 191h0M279 106h0M106 232h0M285 74h0M305 193h0M307 116h0M186 203h0M212 67h0M282 83h0M212 178h0M196 145h0M229 109h0M123 151h0M263 136h0M123 217h0M163 12h0M247 49h0M166 160h0M288 133h0M308 82h0M238 28h0M128 198h0M303 215h0M257 199h0M190 148h0M291 223h0M87 167h0M232 99h0M317 83h0M111 214h0M142 161h0M221 47h0M109 96h0M81 179h0M313 99h0M186 179h0M111 192h0M99 193h0M265 154h0M61 164h0M68 58h0M204 231h0M253 136h0M155 2h0M224 48h0M133 82h0M7 163h0M194 90h0M194 42h0M231 140h0M115 22h0M270 50h0M310 124h0M293 87h0M143 74h0M214 84h0M124 89h0M237 229h0M164 212h0M237 86h0M218 53h0M229 112h0M281 228h0M147 63h0M98 200h0M270 122h0M286 19h0M189 214h0M248 132h0M84 156h0M150 5h0M78 158h0M15 67h0M303 228h0M160 152h0M147 54h0M99 143h0M287 175h0M116 146h0M319 151h0M118 103h0M137 189h0M39 166h0M291 152h0M188 201h0M259 166h0M244 101h0M233 88h0M222 34h0M191 209h0M248 225h0M271 81h0M121 161h0M257 174h0M29 136h0M234 205h0M77 168h0M252 48h0M174 86h0M255 94h0M189 169h0M276 48h0M119 174h0M242 143h0M164 -1h0M109 148h0M295 212h0M125 98h0M246 8h0M189 112h0M83 217h0M267 149h0M301 100h0M278 186h0M230 170h0M153 144h0M285 67h0M312 197h0M317 115h0M198 176h0M168 90h0M86 213h0M7 124h0M106 98h0M123 97h0M320 221h0M144 230h0M78 180h0M222 14h0M220 9h0M150 76h0M111 162h0M78 7h0M306 119h0M266 104h0M76 198h0M115 170h0M177 57h0M270 230h0M144 115h0M250 210h0M320 212h0M317 73h0M246 24h0M281 223h0M239 223h0M103 142h0M158 181h0M186 138h0M204 39h0M65 212h0M203 59h0M146 157h0M281 163h0M71 192h0M68 124h0M120 222h0M128 79h0M186 56h0M209 183h0M218 133h0M216 36h0M320 137h0M243 108h0M191 80h0M278 189h0M294 111h0M51 190h0M301 209h0M217 22h0M141 96h0M246 146h0M98 209h0M212 28h0M195 217h0M83 210h0M256 147h0M186 143h0M209 39h0M208 172h0M204 124h0M169 212h0M122 108h0M164 105h0M251 71h0M281 117h0M54 47h0M118 192h0M291 211h0M29 91h0M259 42h0M158 101h0M280 76h0M197 199h0M249 142h0M180 118h0M148 174h0M252 154h0M178 168h0M113 149h0M292 81h0M27 166h0M311 69h0M179 192h0M108 136h0M160 7h0M54 39h0M260 95h0M162 32h0M53 140h0M208 208h0M108 102h0M77 221h0M207 22h0M260 188h0M174 12h0M91 210h0M189 138h0M304 140h0M259 215h0M262 162h0M71 185h0M278 217h0M76 114h0M211 61h0M240 49h0M233 172h0M215 143h0M138 10h0M251 27h0M112 187h0M282 74h0M176 158h0M189 30h0M39 191h0M264 167h0M307 62h0M231 197h0M127 20h0M223 166h0M273 51h0M202 218h0M4 173h0M263 131h0M100 123h0M131 32h0M260 121h0M157 192h0M319 172h0M183 29h0M106 140h0M292 220h0M321 227h0M263 5h0M307 97h0M319 199h0M168 32h0M103 105h0M162 69h0M130 109h0M21 188h0M139 38h0M315 185h0M240 142h0M285 185h0M121 146h0M183 62h0M198 58h0M60 28h0M287 73h0M39 204h0M165 213h0M99 185h0M274 59h0M185 132h0M147 17h0M73 63h0M237 141h0M223 76h0M266 216h0M279 140h0M245 151h0M295 105h0M320 132h0M189 91h0M146 166h0M233 146h0M200 23h0M116 149h0M95 55h0M181 37h0M88 202h0M226 74h0M142 111h0M246 125h0M236 11h0M154 123h0M55 58h0M73 125h0M254 232h0M174 140h0M129 228h0M321 206h0M95 180h0M203 -1h0M242 25h0M217 195h0M229 95h0M247 186h0M184 129h0M249 72h0M135 121h0M275 163h0M155 39h0M209 41h0M84 66h0M112 218h0M320 103h0M316 133h0M283 114h0M130 58h0M275 196h0M246 85h0M46 155h0M321 179h0M297 157h0M224 9h0M190 44h0M253 161h0M286 101h0M198 93h0M229 57h0M61 131h0M314 177h0M275 108h0M50 196h0M189 230h0M298 113h0M186 26h0M285 90h0M148 125h0M120 194h0M157 27h0M8 167h0M101 149h0M112 176h0M177 131h0M121 19h0M270 99h0M196 205h0M270 19h0M31 223h0M125 139h0M217 19h0M206 180h0M256 183h0M133 209h0M124 196h0M237 92h0M198 16h0M104 73h0M209 177h0M299 139h0M307 102h0M133 168h0M237 154h0M145 217h0M89 24h0M158 69h0M297 83h0M321 184h0M288 199h0M97 216h0M220 28h0M70 190h0M141 196h0M238 67h0M291 218h0M259 176h0M287 159h0M214 188h0M48 59h0M62 35h0M28 138h0M276 142h0M298 170h0M194 103h0M74 109h0M154 105h0M253 32h0M143 0h0M224 96h0M196 26h0M105 135h0M87 220h0M300 126h0M112 209h0M90 -0h0M185 231h0M180 56h0M245 65h0M290 70h0M148 153h0M92 204h0M241 176h0M272 141h0M31 124h0M183 21h0M244 162h0M267 173h0M212 185h0" stroke="#ffb0f0"/>
<path d="M3 38h0M216 122h0M304 225h0M242 111h0M313 64h0M280 80h0M178 93h0M223 192h0M201 189h0M252 115h0M222 191h0M178 91h0M179 56h0M163 92h0M137 205h0M199 168h0M254 71h0M28 109h0M94 119h0M169 79h0M98 109h0M157 64h0M273 227h0M212 145h0M100 45h0M195 8h0M308 228h0M271 103h0M300 114h0M36 129h0M238 216h0M143 168h0M286 47h0M236 194h0M187 226h0M199 14h0M184 45h0M183 212h0M304 176h0M317 216h0M204 150h0M224 25h0M180 46h0M114 216h0M178 76h0M168 81h0M10 123h0M251 85h0M108 8h0M82 133h0M285 202h0M140 68h0M294 101h0M146 105h0M310 12h0M247 111h0M274 205h0M257 117h0M161 33h0M143 35h0M164 187h0M237 58h0M294 153h0M216 3h0M200 188h0M231 227h0M268 145h0M262 121h0M247 142h0M132 219h0M213 20h0M255 118h0M130 186h0M204 138h0M55 50h0M228 9h0M165 96h0M157 198h0M222 163h0M82 105h0M208 35h0M105 192h0M145 61h0M169 229h0M179 156h0M234 55h0M312 91h0M55 208h0M167 -1h0M257 107h0M159 148h0M287 80h0M118 -1h0M84 6h0M147 219h0M269 78h0M24 163h0M283 103h0M176 192h0M271 221h0M60 59h0M251 82h0M169 118h0M146 211h0M273 122h0M309 173h0M215 134h0M223 122h0M164 118h0M269 130h0M313 67h0M238 198h0M242 181h0M110 157h0M125 218h0M291 108h0M208 112h0M269 209h0M285 156h0M253 59h0M186 182h0M203 135h0M318 229h0M76 196h0M321 47h0M311 204h0M175 22h0M138 116h0M31 35h0M122 157h0M231 158h0M201 143h0M68 214h0M282 188h0M245 29h0M146 60h0M226 160h0M233 71h0M218 -1h0M286 170h0M184 206h0M296 228h0M236 218h0M111 19h0M240 129h0M300 128h0M251 193h0M155 196h0M258 93h0M205 95h0M151 221h0M54 68h0M302 92h0M253 112h0M195 121h0M132 9h0M144 155h0M96 46h0M234 169h0M211 181h0M204 55h0M313 56h0M275 154h0M166 225h0M119 154h0M274 80h0M250 64h0M293 55h0M192 195h0M248 51h0M272 89h0M233 13h0M244 67h0M269 104h0M213 22h0M286 137h0M275 120h0M164 226h0M237 226h0M183 230h0M292 167h0M180 173h0M266 49h0M189 55h0M190 2h0M208 73h0M270 61h0M103 57h0M121 90h0M92 58h0M223 181h0M177 41h0M274 217h0M178 180h0M112 101h0M180 42h0M209 62h0" stroke="#e4ffb0"/>
<path d="M308 225h0M314 102h0M289 4h0M96 116h0M215 58h0M193 146h0M183 180h0M313 190h0M321 188h0M51 183h0M222 229h0M120 227h0M159 137h0M282 169h0M181 109h0M316 156h0M247 176h0M316 36h0M284 148h0M96 71h0M205 191h0M278 138h0M168 227h0M233 76h0M230 218h0M304 204h0M144 26h0M159 61h0M229 186h0M69 86h0M277 123h0M221 80h0M139 213h0M79 42h0M285 71h0M241 52h0M301 53h0M176 50h0M86 89h0M151 84h0M200 193h0M242 114h0M182 196h0M290 105h0M265 96h0M81 187h0M169 194h0M297 173h0M110 150h0M320 52h0M35 11h0M141 170h0M291 170h0M89 123h0M118 146h0M287 211h0M164 157h0M41 186h0M252 73h0M321 181h0M294 141h0M83 90h0M239 192h0M269 227h0M248 80h0M180 103h0M299 186h0M145 212h0M222 186h0M317 67h0M115 174h0M232 11h0M177 204h0M57 125h0M268 159h0M170 154h0M220 54h0M216 30h0M294 97h0M100 150h0M304 62h0M284 228h0M317 191h0M291 89h0M266 46h0M78 217h0M257 12h0M275 102h0M195 175h0M296 108h0M298 180h0M243 4h0M84 55h0M213 104h0M198 227h0M231 144h0M89 202h0M138 26h0M179 85h0M207 136h0M200 74h0M108 145h0M220 65h0M145 215h0M95 102h0M191 215h0M269 173h0M294 173h0M240 217h0M266 228h0M90 185h0M177 108h0M211 54h0M135 13h0M170 22h0M140 85h0M192 203h0M237 12h0M118 186h0M119 48h0M198 221h0M167 90h0M260 151h0M192 184h0M68 96h0M258 138h0M95 39h0M282 198h0M186 84h0M247 160h0M287 187h0M255 16h0M193 109h0M154 139h0M289 186h0M199 164h0M196 66h0M199 29h0M317 15h0M286 83h0M205 6h0M274 96h0M297 216h0M239 86h0M262 151h0M121 42h0M284 100h0M301 132h0M43 168h0M315 227h0M236 150h0M227 204h0M257 204h0M169 49h0M284 130h0M137 197h0M128 209h0M169 146h0M221 199h0M290 102h0M79 144h0M35 174h0M196 28h0M257 211h0M294 223h0M134 177h0M243 1h0M281 204h0M285 140h0M223 176h0M145 142h0M239 65h0M314 160h0M121 48h0M260 23h0M179 21h0M126 53h0M149 36h0M81 36h0M309 60h0M239 10h0M189 173h0M268 134h0M185 166h0M255 195h0M205 224h0M224 105h0M275 137h0" stroke="#b8ffc8"/>
<path d="M172 148h0M193 230h0M259 209h0M310 150h0M320 161h0M272 181h0M225 108h0M239 33h0M269 80h0M315 76h0M116 -1h0M247 58h0M82 223h0M258 193h0M317 190h0M202 176h0M320 214h0M89 59h0M285 145h0M100 92h0M282 138h0M241 156h0M317 174h0M299 176h0M256 43h0M143 184h0M234 137h0M264 226h0M156 128h0M291 199h0M321 70h0M63 64h0M237 109h0M127 84h0M238 202h0M292 100h0M94 141h0M260 197h0M49 106h0M111 137h0M315 135h0M272 172h0M296 209h0M218 74h0M260 128h0M36 145h0M265 20h0M151 211h0M302 141h0M196 135h0M108 13h0M106 157h0M219 230h0M225 142h0M124 225h0M188 12h0M242 45h0M305 221h0M214 130h0M310 154h0M263 22h0M279 71h0M245 122h0M315 113h0M260 183h0M272 130h0M39 143h0M104 120h0M98 218h0M213 208h0M318 79h0M201 228h0M175 212h0M276 99h0M245 163h0M190 211h0M257 96h0M275 67h0M157 144h0M254 92h0M113 34h0M256 166h0M281 154h0M284 127h0M196 169h0M212 75h0M117 76h0M174 116h0M234 212h0M281 180h0M164 164h0M307 219h0M210 71h0M218 33h0M268 84h0M46 139h0M105 80h0M281 222h0M29 162h0M169 16h0M148 186h0M241 21h0M105 68h0M115 28h0M299 80h0M126 182h0M320 156h0M217 191h0M277 177h0M313 44h0M279 118h0M146 231h0M156 114h0M284 44h0M307 176h0M237 207h0M314 217h0M143 29h0M57 185h0M290 192h0M234 191h0M122 102h0M134 109h0M284 208h0M265 51h0M243 208h0M115 197h0M298 223h0M134 169h0M301 227h0M188 194h0M252 118h0M209 33h0M316 61h0M317 175h0M233 201h0M244 128h0M84 230h0M164 200h0M246 71h0M140 78h0M21 176h0M177 218h0M240 60h0M193 17h0M301 88h0M52 141h0M119 15h0M197 145h0M245 210h0M203 137h0M149 193h0M161 28h0M30 44h0M84 28h0M204 186h0M295 194h0M306 121h0M187 73h0M219 160h0M220 19h0M222 84h0M121 140h0M197 -1h0M223 203h0M198 4h0M239 -0h0M112 47h0M227 217h0M291 140h0M199 108h0M253 37h0M117 99h0M147 69h0M290 144h0" stroke="#ffffb0"/>
<path d="M236 190h0M233 222h0M57 163h0M137 229h0M119 226h0M316 183h0M60 198h0M173 36h0M208 28h0M234 168h0M281 152h0M311 167h0M100 67h0M248 96h0M303 80h0M281 70h0M255 38h0M113 89h0M160 218h0M94 207h0M217 175h0M170 19h0M218 13h0M311 52h0M266 131h0M276 131h0M54 183h0M174 47h0M198 112h0M271 225h0M215 222h0M68 139h0M206 174h0M44 177h0M143 88h0M17 52h0M99 230h0M168 46h0M259 69h0M191 91h0M316 153h0M240 215h0M159 126h0M105 108h0M303 57h0M270 108h0M241 188h0M191 20h0M210 44h0M199 124h0M180 101h0M207 193h0M151 17h0M199 51h0M221 190h0M178 132h0M134 119h0M274 125h0M166 73h0M91 66h0M170 202h0M220 27h0M200 76h0M117 66h0M156 213h0M274 222h0M304 95h0M207 116h0M119 83h0M38 218h0M145 118h0M122 76h0M303 100h0M51 160h0M222 178h0M319 144h0M200 0h0M156 217h0M154 83h0M191 58h0M103 172h0M234 176h0M41 149h0M138 72h0M169 95h0M0 179h0M281 196h0M98 149h0M117 64h0M81 223h0M311 177h0M250 167h0M247 231h0M164 139h0M298 164h0M103 134h0M256 217h0M79 122h0M296 188h0M124 3h0M99 168h0M202 54h0M255 32h0M-0 36h0M67 138h0M266 73h0M151 205h0M175 107h0M169 83h0M223 147h0M212 26h0M292 230h0M311 119h0M312 132h0M157 47h0" stroke="#ffcca8"/>
<path d="M84 126h0M316 23h0M290 208h0M243 82h0M259 145h0M237 169h0M292 190h0M188 116h0M109 179h0M117 231h0M93 199h0M320 114h0M76 138h0M319 21h0M282 176h0M66 48h0M136 191h0M121 205h0M245 172h0M315 158h0M244 172h0M288 116h0M218 146h0M47 141h0M57 139h0M285 172h0M263 114h0M100 179h0M211 122h0M104 169h0M154 79h0M299 61h0M129 179h0M195 162h0M285 195h0M317 141h0M255 81h0M234 229h0M270 90h0M129 153h0M240 45h0M63 50h0M224 188h0M218 227h0M252 183h0M274 106h0M237 59h0M202 106h0M320 3h0M173 93h0M134 142h0M121 100h0M157 230h0M107 83h0M130 191h0M244 178h0M160 113h0M291 182h0M28 172h0M90 129h0M230 10h0M173 76h0M181 156h0M115 154h0M277 132h0M114 31h0" stroke="#d8b0ff"/>
<path d="M165 57h0M144 112h0M221 73h0M259 4h0M139 63h0M39 186h0M278 79h0M282 61h0M180 134h0M186 177h0M224 28h0M154 71h0M268 27h0M254 20h0M215 47h0M256 109h0M153 154h0M74 57h0M196 95h0M209 104h0M173 109h0M273 124h0M253 211h0M166 38h0M280 145h0M74 13h0M151 97h0M116 164h0M307 3h0M227 162h0M-1 127h0M225 79h0M83 150h0M109 63h0M55 126h0M30 121h0M174 39h0M201 209h0M17 134h0M209 87h0M196 93h0M306 186h0M173 198h0" stroke="#b0d4ff"/>
<path d="M75 210h0M55 59h0M226 44h0M126 57h0M259 173h0M282 77h0M313 152h0M63 195h0M123 166h0M319 176h0M89 194h0M301 155h0M303 184h0M203 231h0M293 190h0M104 202h0M217 110h0M207 88h0M140 222h0M242 51h0M218 4h0M150 156h0M249 89h0M227 191h0M50 151h0M217 145h0M222 78h0M181 3h0M214 228h0M116 124h0M174 207h0M86 163h0M123 144h0M180 6h0M321 12h0M115 138h0M173 98h0M247 93h0M221 5h0M107 93h0M256 26h0M217 11h0M287 72h0M311 207h0M301 175h0M75 72h0M163 83h0M188 205h0M311 89h0M218 16h0M285 105h0M147 39h0" stroke="#ffa8b0"/>
<path d="M92 122h0M260 90h0M263 38h0M95 192h0M138 222h0M183 48h0M275 147h0M239 34h0M219 168h0M167 41h0M204 4h0M257 46h0M95 87h0M118 176h0M252 66h0M132 190h0M131 88h0M211 221h0M63 38h0M169 168h0M262 137h0M189 177h0M142 163h0M219 25h0M241 186h0M252 28h0M255 224h0M171 102h0M147 3h0M288 44h0M105 112h0M167 17h0M179 227h0M142 201h0M298 118h0M231 19h0M288 171h0M217 186h0M103 90h0M220 144h0M247 131h0M215 6h0M270 94h0M22 116h0M135 189h0M83 216h0M143 89h0M152 157h0M220 210h0M194 55h0M35 49h0M215 119h0M196 210h0M314 115h0M97 108h0M321 229h0M93 87h0M298 97h0M237 175h0M167 110h0M74 46h0M56 43h0M-1 228h0M163 218h0M96 181h0M71 55h0M313 127h0M265 112h0M119 225h0M211 195h0M291 185h0M160 197h0M159 225h0M136 199h0M246 145h0M303 152h0M108 86h0M113 4h0M97 175h0M69 225h0M98 56h0M141 45h0M277 75h0M196 38h0M211 47h0M312 169h0M188 192h0M129 26h0M302 104h0M208 201h0M218 118h0M229 27h0M-1 125h0M211 166h0M279 224h0M249 103h0M276 157h0M201 184h0M304 172h0M59 131h0M222 167h0M45 216h0M224 217h0M192 38h0M223 133h0M100 51h0M147 159h0M249 196h0M237 166h0M244 79h0M301 223h0M227 90h0M257 175h0M81 111h0M127 45h0M271 112h0M204 44h0M76 20h0M201 181h0M236 91h0M222 175h0M262 64h0M318 87h0M283 177h0M262 36h0M306 204h0M150 217h0M231 49h0M71 217h0M186 205h0M300 108h0M105 170h0M226 47h0M177 215h0M144 64h0M191 130h0M238 31h0M308 99h0M238 180h0M142 213h0M203 88h0M259 86h0M76 48h0M296 58h0M237 125h0M150 145h0M207 19h0M191 125h0M202 151h0M111 74h0M74 157h0M105 201h0M304 84h0M263 154h0M213 168h0M35 160h0M175 188h0M71 170h0M71 82h0M130 138h0M175 122h0M24 96h0M99 9h0M95 223h0M267 182h0M305 113h0M261 140h0M281 218h0M196 130h0M179 124h0M159 16h0" stroke="#ffffff"/>
<path d="M18 1l1 -1M27 2l-3 3M52 1l-2 -1M73 1l-1 1M86 2l2 -2M119 0l3 1M123 1l-1 -3M154 1l-2 -3M183 -0l1 2M189 0l-3 -2M207 -0l2 2M213 1l1 1M225 1l1 1M283 1l-1 -1M65 4l-3 1M67 5l-2 -1M148 4l1 3M225 5l-2 3M230 4l3 2M287 4l-2 -3M291 5l3 2M37 7l-2 3M42 7l2 1M64 6l3 3M90 8l-1 -2M145 7l-2 3M202 6l3 2M230 6l1 2M250 8l-1 -3M267 7l2 3M276 7l1 1M286 8l-1 -3M290 8l-1 3M42 11l-2 2M53 10l-1 -3M75 10l-3 -2M77 12l3 -1M98 10l-2 2M114 11l-1 2M136 10l1 -1M149 10l-2 2M216 10l-1 2M307 10l1 3M311 10l-1 -2M9 15l-3 3M38 14l-3 -1M50 13l-3 2M52 14l3 -2M55 14l1 2M59 13l-1 3M72 14l-3 -3M139 12l3 2M197 13l-1 3M230 14l-2 2M254 14l1 3M277 13l-1 3M279 14l-3 -1M294 13l2 -1M309 15l1 -2M89 16l3 2M107 16l3 -3M143 17l-3 2M160 17l1 3M180 17l2 -2M215 18l-2 -1M221 18l3 -1M276 18l-1 1M281 18l-1 2M14 20l3 3M27 21l-3 2M53 20l-3 2M73 20l1 3M94 20l-1 -2M137 21l-3 -1M187 21l3 2M192 21l-2 -3M214 21l2 1M261 21l-2 -2M19 24l-2 2M30 22l1 1M85 24l-1 -2M97 23l3 -1M122 24l3 -1M151 23l-3 -2M166 22l2 -1M176 23l-1 3M185 23l2 -3M208 23l3 1M277 23l2 2M290 23l-3 1M51 25l-1 1M90 25l1 2M111 26l-2 1M176 27l-3 -1M194 28l2 3M272 28l1 -1M278 26l3 1M290 26l-2 1M303 26l-2 -1M81 31l-3 -3M174 29l-2 3M178 29l3 -3M200 30l-2 -3M217 31l-1 -1M264 29l-3 1M298 31l-2 -1M313 30l-1 -1M24 34l1 3M72 34l-3 -3M144 34l2 -2M202 33l-1 -1M219 34l-1 -3M240 34l-2 1M279 33l2 3M31 38l2 3M32 36l2 -3M71 36l-1 -1M84 38l1 3M92 36l-1 -1M132 37l-1 -2M141 37l2 1M155 37l2 -3M184 37l1 1M187 36l3 -2M227 37l3 -2M237 37l2 -3M270 35l1 -1M289 36l1 3M296 37l-1 1M314 37l-1 -3M8 40l-2 -2M13 40l1 2M27 39l-1 2M39 38l2 -3M53 39l3 1M75 39l-2 -2M96 40l3 2M102 39l-2 3M109 39l1 -2M140 39l2 -3M144 40l-2 -3M201 39l-2 -2M213 39l-3 -1M223 38l2 3M242 39l2 -3M260 40l-3 -2M293 40l3 -2M83 42l-2 3M103 43l3 -1M133 44l1 3M152 42l-2 -2M157 44l2 3M185 42l2 1M193 43l2 -3M217 44l-1 -1M232 42l2 -2M250 41l-2 2M286 44l-3 3M305 43l-3 1M101 46l3 3M104 45l-2 -2M165 46l-1 -3M178 45l-2 -2M181 47l-2 1M186 47l-3 3M208 46l3 1M227 45l-2 -2M238 45l2 3M263 47l-1 1M268 46l-1 3M282 44l2 -2M303 47l-1 -2M311 45l-3 -2M320 46l1 -3M21 50l-2 -1M27 49l1 -3M33 50l1 -3M47 48l-3 -3M49 50l3 -1M77 49l-3 -3M133 48l2 -2M141 50l-2 -3M149 49l-3 -2M153 49l1 -3M158 48l-3 1M216 48l1 3M232 50l-1 -3M241 50l-2 3M248 50l-3 3M252 50l2 -1M260 50l1 -1M264 48l3 1M290 48l2 -2M46 51l-2 2M49 53l1 2M56 51l-3 3M88 53l2 1M107 53l2 -1M115 52l3 2M137 52l-1 3M148 52l-1 -1M177 51l2 2M183 52l-3 -2M192 52l2 -3M219 53l-2 2M224 52l-3 1M251 52l-1 1M275 51l2 -2M280 53l3 -1M293 53l3 -2M30 54l2 2M37 56l2 -1M72 56l-2 -1M85 56l1 2M123 56l3 -2M132 57l-1 -2M152 57l-3 1M168 56l-1 -3M190 56l1 2M194 54l-1 -3M205 56l-3 -2M6 57l1 -1M41 59l-1 -1M70 58l3 2M81 59l2 -1M88 58l3 -2M121 58l2 3M137 58l3 2M162 58l-3 1M169 60l2 -3M182 59l-1 -1M187 57l-2 -3M206 58l-2 -1M278 58l3 3M282 57l-1 2M6 62l2 3M37 61l-1 -2M56 60l1 1M66 61l-3 1M102 63l3 -3M138 61l-2 -2M154 61l3 -3M178 63l3 1M192 62l-1 -2M212 62l1 1M271 62l-2 3M273 63l3 -2M294 62l3 -1M19 66l3 -1M47 64l3 -3M74 64l2 1M87 64l3 -2M95 66l1 1M117 64l-3 -1M122 65l-1 -1M135 66l2 -1M158 65l3 -2M209 64l3 1M218 64l3 -3M224 65l-1 3M244 64l1 2M251 65l1 -3M255 65l-1 1M286 66l-1 3M293 64l3 -1M308 64l2 -3M1 67l-2 2M67 69l-3 3M106 69l2 -3M118 67l2 -3M148 68l1 -3M157 68l-1 -2M186 69l-1 -1M190 69l-1 1M194 67l3 1M219 69l3 -1M221 69l-1 3M10 73l1 2M26 71l3 3M55 71l1 3M66 73l-1 -2M70 72l-3 2M84 71l2 -1M103 70l3 3M109 72l3 -3M114 72l-1 1M126 71l-3 -1M135 73l-2 1M150 72l2 -3M173 71l1 -2M193 72l-1 1M200 73l3 2M203 72l-2 2M252 72l1 3M14 75l3 -2M55 75l2 -1M97 74l-2 2M110 75l1 2M157 76l-2 -2M188 74l-1 -3M192 75l1 -1M206 75l2 1M213 76l-2 -2M253 74l-2 -2M259 73l-1 3M4 78l1 3M57 77l-1 -1M72 78l1 2M96 78l-2 3M115 78l1 1M164 78l1 -2M178 76l-3 -2M201 77l3 -2M254 77l-2 -1M261 77l-2 -3M273 78l1 3M8 80l2 -2M29 81l-1 2M51 80l1 -1M69 82l2 3M84 80l3 2M118 81l1 -2M136 81l-3 2M151 82l1 -3M169 82l2 3M175 80l3 -2M176 80l-1 -1M211 80l3 2M222 81l-1 -2M237 81l2 -1M270 81l1 1M285 82l-2 1M296 80l1 -2M313 81l2 1M21 84l1 -3M29 84l-3 3M64 83l2 3M78 84l-2 2M109 83l-1 -1M117 85l1 -2M131 84l2 -2M170 84l3 -2M184 84l-1 2M187 85l1 -2M190 85l-3 -2M218 84l-1 -1M227 85l-3 1M263 85l-1 2M267 85l1 2M318 84l-2 -1M58 87l2 -2M96 88l-3 -1M138 87l3 -2M163 88l-1 3M168 87l3 -2M170 88l3 3M204 89l1 -2M218 88l-1 3M230 88l-3 -3M252 86l-1 1M255 88l-3 -1M264 87l-1 -2M270 88l1 3M274 87l-3 -1M1 91l-2 3M41 90l-2 1M106 92l-3 -1M119 90l-3 -3M141 92l2 -1M174 90l-1 1M178 91l-2 -3M190 92l-2 1M261 91l-2 -1M292 90l2 -2M309 90l2 -1M5 94l-2 -3M60 94l3 -1M75 94l1 -3M77 95l-3 2M161 93l-3 -3M164 93l-2 -1M179 94l3 -1M191 94l-3 2M215 94l-1 -1M222 95l1 2M265 94l1 2M291 93l2 1M95 98l-2 -1M110 97l-3 -1M116 98l2 -1M120 98l3 1M138 97l2 3M149 97l1 3M162 96l2 1M206 96l-1 3M216 97l-1 1M221 96l2 -1M230 96l-2 -2M273 98l3 1M317 98l-2 -2M2 100l2 -3M10 101l3 -3M34 102l1 -1M56 100l-3 2M103 100l-1 2M117 102l-3 -1M126 99l-2 1M138 99l3 -3M172 100l2 1M196 101l2 1M208 99l-1 -1M213 99l2 3M219 99l3 -1M226 100l3 2M230 99l1 -2M241 101l-1 3M278 100l-3 -3M302 101l-2 -2M4 103l-3 3M30 102l3 -1M57 103l-2 -2M68 102l1 -2M74 104l-3 1M99 103l-3 -3M105 103l3 -2M105 102l-3 -3M131 103l1 1M223 105l-1 -1M255 105l3 -2M261 104l2 -3M33 106l-2 -3M65 108l-1 2M127 108l-1 2M130 107l2 -3M138 107l3 -2M161 106l1 2M175 107l3 -2M187 108l3 1M192 108l2 -2M213 108l3 -3M245 106l1 2M248 106l-1 -1M321 107l1 -2M9 110l3 2M26 109l1 2M87 109l1 -1M106 109l-1 -3M144 111l-1 -3M190 111l3 -1M210 109l-2 3M226 109l-2 -2M271 109l-2 -2M279 110l3 2M317 109l-1 -1M322 111l3 2M40 114l-3 3M55 113l-2 -1M91 114l-1 3M122 114l3 -1M129 113l3 -3M248 112l-2 2M306 114l-2 3M312 114l3 -1M316 114l3 2M317 114l3 3M16 116l-1 -3M20 116l3 3M46 115l-1 1M65 116l-2 2M157 115l-3 -3M184 117l-3 -1M199 116l-3 -2M213 116l2 1M225 117l-1 -2M235 117l2 -1M253 116l1 3M306 117l-1 -2M35 119l-1 -1M42 120l3 2M62 119l-3 -2M116 120l-1 -1M135 120l-1 -1M242 120l-1 -3M269 118l2 -2M312 120l-3 -1M315 118l-3 -2M67 124l1 -3M101 124l3 2M103 122l-1 1M144 122l-3 -3M183 121l2 3M205 122l2 1M224 123l3 2M257 123l1 -3M261 122l3 2M274 123l1 3M282 122l3 -2M288 124l2 -1M299 124l-3 1M307 122l-3 2M321 122l-3 2M-0 126l2 3M8 125l-2 2M37 126l3 3M61 126l2 1M69 125l-3 -1M200 125l-2 -1M306 125l-1 2M311 125l2 -2M17 130l-2 1M21 128l2 1M37 130l-1 -2M39 129l-2 -2M51 130l3 1M65 130l-1 -1M91 130l-1 2M119 129l-3 -1M141 128l2 1M148 130l-2 -2M203 130l-2 -2M231 128l-3 -3M279 130l-3 3M15 133l1 -1M18 132l-1 3M20 131l-2 3M39 132l3 2M129 131l-2 -3M153 131l-3 -3M166 132l3 1M179 133l2 -2M218 133l3 -1M245 131l-1 -1M249 133l1 3M267 132l-1 1M282 133l-3 -2M33 134l-1 -1M38 135l1 1M43 136l2 3M58 136l-3 -2M97 134l-3 2M140 136l1 3M141 135l-1 -1M155 136l-3 1M193 136l-2 -2M204 136l-1 1M211 135l-1 -3M229 136l-1 1M256 136l-2 -3M269 135l2 1M275 136l1 -3M303 135l3 1M9 138l-2 -2M24 139l-3 -1M53 138l-2 -3M56 138l-2 1M61 140l-1 3M71 138l2 -2M109 137l1 3M119 140l2 -1M122 138l-2 2M126 140l2 1M138 137l3 -2M142 139l-1 3M152 139l1 -1M167 138l3 1M170 139l1 1M219 137l1 -3M235 138l3 2M253 137l2 -3M256 139l3 -3M274 139l1 3M303 138l3 3M319 139l-2 2M2 142l3 -3M87 142l-2 3M95 142l1 3M104 143l2 1M110 142l3 -1M112 143l1 -3M125 141l-2 2M139 143l-1 2M179 142l-3 2M199 143l3 -1M205 141l-1 -3M250 143l-1 3M292 141l3 3M299 141l1 -2M318 142l-2 -2M322 141l2 3M11 145l3 -1M45 145l1 3M59 146l-1 3M92 145l2 -1M119 144l-2 2M141 144l1 -1M167 145l2 2M226 146l-3 2M291 145l-1 -3M295 145l-3 -3M318 145l-1 1M21 147l2 -3M98 147l1 3M99 150l-3 -3M110 149l-3 1M122 147l3 -3M170 147l-2 2M184 148l-3 -3M234 147l2 -3M313 149l-2 -2M2 151l2 2M13 152l-3 -1M42 150l3 -1M56 152l-1 3M70 151l1 -2M84 151l-2 3M102 150l-2 -1M111 151l1 2M114 150l2 3M124 152l-2 1M138 150l1 1M144 152l1 3M149 151l-3 -2M156 151l-1 -1M174 152l-3 -1M181 151l-1 1M199 152l1 -1M208 150l1 2M222 150l2 1M230 150l-1 2M243 150l-2 3M261 152l2 2M268 150l2 -1M274 152l3 -3M292 150l-2 3M299 152l-3 2M304 153l1 -3M71 154l-1 -2M113 155l-2 -3M116 155l-1 3M154 155l-3 -1M162 156l-3 3M174 156l-3 -2M178 153l3 -2M180 155l-3 -1M218 154l3 1M258 154l-1 -3M261 155l-3 1M273 155l2 -3M280 155l-3 -2M292 153l-3 -3M25 156l-1 2M35 157l2 -2M54 159l3 -3M64 158l-1 -2M72 159l1 1M147 158l3 2M153 158l-2 3M160 158l3 2M175 156l3 -1M180 157l2 2M201 157l-2 1M235 157l-1 2M261 159l2 -3M295 157l-2 -1M67 161l-3 2M98 160l-2 2M108 162l1 1M135 161l3 3M138 162l-3 1M159 160l1 -3M186 161l2 -1M201 162l3 -2M215 160l-3 -2M226 162l1 -1M254 162l1 -2M302 160l1 2M315 161l2 2M5 164l-2 -2M30 163l-1 3M89 163l-2 -2M126 166l3 -1M155 165l2 2M170 164l2 1M207 165l-1 2M246 164l3 2M257 163l-2 2M263 163l2 -3M282 164l-1 -3M312 165l-3 2M318 164l2 1M21 169l1 -1M50 166l1 3M72 167l-3 1M82 168l-1 1M90 167l1 1M103 168l1 1M146 168l1 3M153 166l-3 -1M275 168l-1 -3M318 166l3 3M23 170l1 2M36 171l2 -3M55 169l3 -3M62 171l1 -1M75 171l2 1M112 170l-3 -1M167 171l-1 1M229 170l-3 -1M238 170l2 -1M258 169l2 -2M278 169l1 3M287 171l1 3M306 171l-1 -3M18 174l1 1M28 174l2 2M34 173l-1 2M50 173l1 -1M69 173l-3 -1M73 173l3 -2M93 174l3 2M108 175l1 2M135 174l-1 3M146 173l-2 1M171 174l-1 -2M183 174l1 1M186 173l1 2M207 175l1 2M237 175l1 -2M286 173l-3 -2M288 173l-1 -1M0 177l3 -2M45 178l2 -2M91 177l-2 2M103 178l3 -1M111 177l2 3M115 177l3 -1M138 177l1 1M203 177l-1 -1M212 177l3 -1M224 177l-2 2M235 177l-1 1M273 178l2 -3M278 178l1 -2M7 181l2 -2M26 179l2 1M58 179l-2 3M65 179l-1 -3M71 181l-3 1M74 179l1 -2M79 181l-1 -2M83 180l-1 2M103 180l1 -2M110 180l1 1M151 179l3 2M239 181l2 3M263 182l1 2M282 181l3 -2M318 180l3 -1M19 183l-3 1M36 184l3 3M57 183l1 -2M78 184l-1 -1M84 183l-1 -1M97 182l1 -3M106 182l-1 -1M127 183l-1 -3M130 183l-2 -1M194 182l-3 1M296 184l-3 2M4 186l-2 -2M8 188l1 3M48 186l-3 -1M155 187l3 3M158 185l3 3M161 186l-3 -1M190 186l1 2M205 187l1 2M233 185l3 -2M237 187l2 2M253 186l-3 -2M270 188l-1 -2M286 186l-1 2M48 190l-1 -1M61 190l-1 -2M101 190l2 1M141 191l-2 -2M144 191l3 2M155 189l-2 1M171 189l-2 -1M182 188l3 2M228 191l3 1M237 191l1 -3M245 190l1 -3M279 190l-1 -2M283 189l-2 2M50 193l1 -3M58 194l-2 3M83 193l2 3M93 193l-2 -1M117 192l-1 2M166 192l3 -2M254 193l-2 1M262 193l1 2M281 192l-1 2M295 194l2 3M307 194l3 -3M321 193l2 -3M8 195l-3 -2M26 195l-1 2M51 197l3 -2M106 197l-3 1M117 196l-2 -1M133 197l-2 2M138 198l-1 -1M145 196l2 -2M157 197l-3 -1M167 196l-1 3M178 196l-3 3M215 196l2 2M236 196l-2 1M237 195l-1 -2M256 196l3 -2M265 197l3 -3M5 199l1 -2M84 199l2 -3M133 199l3 1M180 200l2 -3M203 200l2 2M235 198l-1 -2M253 200l-2 3M261 199l1 -3M279 200l-2 1M298 199l-2 2M317 199l1 1M43 202l-1 3M58 203l-1 1M82 204l1 3M85 202l1 2M89 203l-2 -1M93 203l2 2M153 202l-2 -3M0 207l1 1M43 207l-3 -1M50 206l-3 -1M52 205l-1 -1M64 207l-3 3M100 205l1 1M109 205l-3 3M117 205l1 -2M203 207l1 2M212 207l-1 -2M222 206l1 3M238 206l1 1M262 206l1 -1M272 205l-2 2M318 205l3 -1M1 209l3 -1M15 208l-1 -2M17 210l2 1M29 208l2 -3M38 210l1 -3M111 209l3 -2M113 210l2 2M127 209l-2 3M181 210l-3 3M200 210l-1 -2M214 209l-1 3M238 208l2 -1M260 210l-2 -3M288 208l-2 3M309 208l-2 1M10 212l3 1M17 212l1 1M29 211l1 3M39 212l1 -3M46 212l1 -1M76 211l-2 -1M82 213l2 3M117 211l2 2M146 213l1 -1M147 212l2 3M160 212l1 -2M176 213l-3 -2M193 213l-3 -3M243 211l-2 -1M266 213l2 -1M13 215l2 -1M170 215l-3 1M190 215l3 2M208 214l-1 1M228 216l-1 -2M262 214l2 -3M285 215l2 -2M16 220l1 -3M95 220l3 -1M120 219l3 3M124 218l1 -3M128 219l3 -3M146 218l3 -1M148 220l1 -2M225 218l1 1M228 218l2 1M249 220l-2 -3M282 219l3 2M304 219l1 -3M13 221l-1 1M49 221l-1 -3M69 223l1 -3M95 222l3 -1M96 221l-2 -2M100 222l-1 -2M137 221l-1 1M141 223l1 -1M164 222l3 3M171 222l2 -1M216 223l-3 2M217 221l-2 -1M234 223l3 -2M242 221l2 1M244 222l3 2M253 222l-1 -2M258 221l-3 1M263 221l2 1M30 225l1 1M39 225l2 -2M51 225l-3 -3M63 225l-1 -3M67 226l3 1M117 224l2 1M120 226l-3 -2M135 224l-2 1M152 224l2 1M191 225l-2 2M248 226l3 -3M277 225l1 3M287 226l1 1M292 224l-3 2M310 225l1 -2M28 228l2 3M57 228l3 3M79 228l-1 -2M165 227l-3 -2M177 229l1 1M196 229l1 2M219 228l-3 -3M245 227l-3 -3M281 227l2 1M309 229l-3 1M40 230l1 -1M53 231l-1 2M56 232l-3 3M59 230l1 3M65 230l-3 -3M85 231l3 2M89 230l1 -2M107 233l-2 -2M138 230l-1 3M226 231l-3 -2M295 232l3 3M304 231l-1 -3" stroke="#555" stroke-width="1.9" opacity="0.75"/>
</g>
<g font-family="'Liberation Sans',sans-serif" font-size="9.5" text-anchor="middle">
<rect x="5.8" y="195.6" width="24.9" height="12" fill="#fff"/>
<text x="18.25" y="205.4" fill="#222">Ch 0</text>
<rect x="36.3" y="195.6" width="11.4" height="12" fill="#ff7f00"/>
<text x="42" y="205.4" fill="#222">O</text>
<rect x="53.6" y="195.6" width="11.4" height="12" fill="#00e676"/>
<text x="59.3" y="205.4" fill="#222">Si</text>
<rect x="71.3" y="195.6" width="15.3" height="12" fill="#8a2be2"/>
<text x="78.95" y="205.4" fill="#fff">Ca</text>
<rect x="93" y="195.6" width="9.4" height="12" fill="#ff00ff"/>
<text x="97.7" y="205.4" fill="#222">C</text>
<rect x="108.8" y="195.6" width="12.7" height="12" fill="#ffff00"/>
<text x="115.15" y="205.4" fill="#222">Al</text>
<rect x="127.8" y="195.6" width="19.1" height="12" fill="#1e90ff"/>
<text x="137.35" y="205.4" fill="#222">Mn</text>
<rect x="152.8" y="195.6" width="15.2" height="12" fill="#ff0000"/>
<text x="160.4" y="205.4" fill="#222">Zn</text>
</g>
<g font-family="'Liberation Sans',sans-serif" font-weight="bold" fill="#f0f0f0" font-size="6">
<text x="4" y="221.6">1787</text>
<text x="4" y="228.6">MAG: 32x</text>
</g>
</svg>
<div class="abs" style="left:260px;top:692.4px;width:218px;height:194px;background:#050005"></div>
<svg class="abs" style="left:10.6px;top:690.8px" width="249.9" height="195" viewBox="0 0 249.9 195">
<defs><filter id="dmb101" x="-1%" y="-1%" width="102%" height="102%"><feGaussianBlur stdDeviation="0.75"/></filter></defs>
<rect width="249.9" height="195" fill="#050005"/>
<g filter="url(#dmb101)" stroke-linecap="round" fill="none" stroke-width="2.7">
<path d="M212.4 9.7h0M24.0 45.3h0M23.7 42.4h0M166.1 175.5h0M167.2 178.2h0M144.2 93.8h0M248.3 78.6h0M247.7 81.3h0M246.5 58.0h0M97.1 108.9h0M47.7 151.6h0M10.9 11.1h0M14.1 10.8h0M229.1 36.3h0M105.1 167.5h0M34.1 184.0h0M32.0 184.8h0M190.7 177.8h0M146.0 2.5h0M182.7 17.0h0M206.5 23.3h0M198.1 33.4h0M179.9 177.5h0M79.8 111.8h0M82.9 110.5h0M2.8 21.1h0M52.4 20.4h0M43.1 10.4h0M174.1 94.4h0M80.1 81.9h0M200.1 71.3h0M222.1 30.6h0M20.3 105.0h0M20.9 108.0h0M130.8 58.0h0M18.5 38.8h0M27.5 101.5h0M239.4 30.7h0M154.0 138.6h0M181.6 8.3h0M232.7 172.3h0M235.0 173.6h0M181.1 117.7h0M83.4 94.1h0M215.7 150.6h0M199.7 164.9h0M27.6 85.2h0M194.2 64.2h0M203.9 38.2h0M230.3 186.5h0M63.0 149.6h0M175.2 180.4h0M194.5 186.1h0M137.9 140.4h0M61.7 3.3h0M220.0 120.5h0M123.8 158.2h0M179.5 152.4h0M148.3 23.8h0M187.4 188.0h0M80.2 73.1h0M170.7 29.9h0M81.2 38.7h0M195.6 81.8h0M196.1 84.6h0M152.2 29.3h0M158.5 182.7h0M245.3 5.2h0M143.9 122.7h0M210.3 128.3h0M208.8 130.0h0M57.0 139.9h0M186.8 18.5h0M185.1 70.3h0M200.1 160.3h0M190.3 181.5h0M189.7 179.3h0M184.5 35.2h0M158.2 159.1h0M3.6 75.1h0M112.7 178.7h0M33.8 45.1h0M138.5 129.2h0M26.1 18.9h0M168.7 76.4h0M125.6 105.7h0M231.9 99.6h0M36.2 1.9h0M220.9 63.2h0M173.8 178.4h0M179.8 161.4h0M177.1 162.4h0M181.7 38.0h0M218.3 54.0h0M215.8 53.5h0M88.5 79.4h0M84.0 92.8h0M192.8 175.1h0M192.5 172.1h0M180.0 73.3h0M159.4 111.5h0M191.1 78.5h0M216.1 44.2h0M47.4 139.0h0M232.8 70.6h0M197.1 46.5h0M76.1 64.4h0M112.8 166.5h0M242.9 138.7h0M240.6 140.0h0M56.7 154.9h0M90.7 124.0h0M211.2 180.5h0M72.8 16.4h0M235.6 125.7h0M14.4 42.3h0M248.6 71.3h0M72.7 73.7h0M47.8 51.3h0M244.0 188.6h0M233.5 47.4h0M67.8 96.0h0M195.8 114.8h0M0.6 25.8h0M174.1 141.7h0M89.0 95.8h0M163.7 167.7h0M25.5 185.8h0M19.9 160.2h0M22.1 160.7h0M89.6 101.2h0M190.8 73.1h0M38.4 13.6h0M125.9 28.0h0M31.1 0.8h0M13.8 157.4h0M234.0 169.2h0M136.4 70.6h0M42.5 37.3h0M203.6 3.2h0M85.1 139.3h0M18.0 91.3h0M32.7 46.3h0M34.7 44.1h0M196.6 158.5h0M178.0 6.1h0M54.6 27.5h0M78.0 154.5h0M193.3 8.9h0M114.0 180.6h0M76.0 141.9h0M227.3 178.1h0M226.0 180.3h0M152.3 12.6h0M141.7 167.1h0M12.5 52.8h0M13.9 49.7h0M159.1 123.7h0M212.8 137.2h0M211.6 134.2h0M94.6 16.7h0M226.0 21.2h0M204.5 45.1h0M231.7 143.7h0M219.3 81.5h0M25.4 74.6h0M217.6 44.7h0M218.0 47.3h0M191.1 3.1h0M175.9 31.8h0M178.8 30.9h0M75.7 9.2h0M27.8 59.9h0M199.1 49.5h0M167.2 120.0h0M230.1 48.1h0M226.0 22.0h0M142.6 0.8h0M114.3 161.5h0M171.6 49.1h0M68.7 38.0h0M127.8 38.5h0M178.8 119.2h0M74.8 148.7h0M157.2 22.2h0M76.2 65.0h0M105.4 140.6h0M65.7 120.9h0M185.1 24.9h0M226.1 45.8h0M225.9 43.5h0M218.6 74.4h0M110.7 40.3h0M150.8 15.5h0M115.0 63.3h0M102.0 93.3h0M211.5 102.7h0M164.4 157.2h0M80.6 108.2h0M183.8 25.3h0M7.0 49.4h0M49.9 132.1h0M49.0 129.7h0M131.8 104.3h0M183.2 172.6h0M31.0 105.3h0M150.7 17.0h0M214.4 30.4h0M192.4 46.9h0M192.9 49.7h0M190.4 33.7h0M129.6 146.8h0M48.4 184.2h0M183.5 187.8h0M182.5 18.9h0M184.6 177.6h0M11.9 168.4h0M90.9 83.1h0M165.8 128.8h0M189.8 73.4h0M0.7 133.0h0M109.8 153.8h0M108.2 63.5h0M224.7 84.8h0M183.0 36.1h0M195.2 184.9h0M95.7 64.3h0M95.3 67.4h0M218.9 138.8h0M244.5 165.7h0M95.5 169.4h0M109.5 45.8h0M106.4 45.6h0M193.6 6.5h0M121.5 4.8h0M186.6 178.6h0M232.6 183.5h0M37.8 25.5h0M82.4 75.6h0M185.3 70.1h0M31.7 162.5h0M188.5 141.9h0M71.3 90.3h0M35.5 5.4h0M216.5 125.4h0M191.0 29.5h0M227.9 0.8h0M96.2 87.8h0M26.4 112.5h0M165.3 25.2h0M219.9 66.2h0M172.6 29.8h0M169.4 28.6h0M6.9 37.9h0M6.5 35.4h0M125.3 0.7h0M218.5 54.3h0M148.5 28.4h0M55.7 154.6h0M93.7 50.7h0M154.7 182.1h0M79.6 39.5h0M80.7 37.5h0M157.1 166.9h0M243.5 126.7h0M46.6 74.2h0M47.8 71.6h0M202.4 52.6h0M21.4 86.7h0M206.0 95.5h0M159.7 160.9h0M173.6 108.4h0M146.5 113.4h0M147.0 110.2h0M125.8 52.9h0M125.8 50.0h0M202.6 145.3h0M188.9 142.0h0M129.9 191.8h0M133.6 140.6h0M174.9 9.2h0M172.6 6.7h0M137.3 5.2h0M65.3 177.8h0M63.0 179.2h0M55.4 7.4h0M130.3 96.1h0M70.1 174.5h0M226.6 183.1h0M224.3 181.2h0M228.6 51.2h0M245.3 13.2h0M32.5 173.4h0M168.4 137.7h0M244.0 106.7h0M41.4 112.6h0M249.3 158.8h0M126.8 66.6h0M201.5 110.2h0M144.6 66.2h0M143.8 63.4h0M248.1 148.5h0M201.9 62.2h0M36.7 37.8h0M239.4 88.7h0M100.2 146.1h0M97.8 144.7h0M76.1 124.7h0M181.9 8.8h0M232.2 50.1h0M68.9 0.2h0M66.7 -0.4h0M170.1 175.0h0M244.3 18.2h0M158.3 146.1h0M16.2 11.4h0M83.9 173.0h0M20.0 187.8h0M18.5 174.2h0M46.8 116.5h0M44.6 115.5h0M76.4 135.5h0M60.5 17.9h0M10.9 91.1h0M85.3 86.6h0M55.3 5.0h0M184.0 109.5h0M49.0 120.9h0M243.8 140.0h0M82.4 179.0h0M93.6 6.6h0M243.0 94.1h0M156.8 32.4h0M115.6 80.2h0M16.9 5.6h0M89.3 111.5h0M144.8 122.2h0M67.8 1.5h0M220.4 113.0h0M248.0 190.1h0M116.2 165.7h0M190.2 135.8h0M194.8 64.9h0M37.4 95.9h0M211.5 7.4h0M186.1 64.3h0M92.7 64.1h0M93.4 61.6h0M172.0 193.1h0M199.8 50.0h0M93.9 111.4h0M91.2 111.9h0M118.7 127.7h0M120.1 125.6h0M88.5 109.4h0M153.0 62.3h0M7.6 136.7h0M7.3 134.1h0M158.2 41.4h0M244.7 186.0h0M116.0 183.1h0M115.0 180.9h0M115.7 47.5h0M121.3 116.2h0M25.5 11.6h0M62.1 14.7h0M193.2 10.5h0M130.4 110.7h0M97.0 95.2h0M81.4 104.0h0M83.6 102.1h0M39.6 35.2h0M190.3 125.1h0M53.8 16.7h0M4.1 100.0h0M68.0 175.2h0M69.9 173.4h0M138.2 185.7h0M171.1 166.9h0M97.5 47.3h0M95.0 46.2h0M141.5 25.7h0M22.8 4.9h0M135.7 96.2h0M63.4 56.5h0M135.2 44.6h0M137.0 171.7h0M22.3 30.1h0M166.1 61.3h0M235.4 125.3h0M185.4 15.2h0M247.0 52.7h0M222.9 60.7h0M223.1 63.7h0M207.4 100.3h0M21.4 170.6h0M150.9 15.8h0M73.9 111.5h0M72.9 113.7h0M141.6 156.6h0M50.8 12.6h0M73.9 11.1h0M78.5 32.7h0M224.9 72.7h0M137.1 166.4h0M214.9 44.8h0M227.8 4.1h0M148.3 101.7h0M146.1 102.6h0M46.7 49.9h0M188.1 31.2h0M128.1 72.7h0M171.4 36.3h0M76.6 34.5h0M123.2 134.4h0M205.4 8.7h0M68.4 73.2h0M217.7 14.4h0M103.3 70.6h0M141.9 11.0h0M162.5 78.8h0M208.5 38.2h0M147.1 89.4h0M68.7 19.6h0M221.5 186.4h0M154.3 175.0h0M85.0 191.4h0M83.3 189.8h0M141.6 47.1h0M217.7 170.5h0M57.3 16.1h0M8.0 68.0h0M133.4 97.1h0M130.5 96.6h0M210.5 20.8h0M175.9 27.9h0M173.5 26.5h0M147.0 23.4h0M90.3 112.4h0M173.4 62.4h0M20.8 105.3h0M133.7 144.4h0M140.1 37.9h0M189.8 15.3h0M82.6 143.6h0M81.8 133.8h0M222.3 188.1h0M99.7 144.0h0M220.7 170.8h0M172.9 63.3h0M16.9 148.9h0M90.3 84.1h0M93.1 85.9h0M62.0 53.6h0M136.7 151.2h0M69.9 146.5h0M186.2 105.7h0M122.8 100.7h0M72.5 92.3h0M191.8 174.3h0M212.2 121.8h0M20.6 154.7h0M96.6 43.5h0M41.9 1.4h0M43.0 160.4h0M3.2 189.7h0M1.6 191.4h0M50.9 117.4h0M72.9 38.1h0M239.4 40.7h0M78.5 176.9h0M221.5 39.5h0M87.8 72.8h0M229.3 45.0h0M140.6 3.0h0M143.8 2.4h0M235.8 120.2h0M237.8 119.1h0M244.9 102.9h0M97.7 179.0h0M69.2 30.5h0M53.2 152.5h0M150.4 99.2h0M20.5 104.8h0M33.8 83.0h0M119.0 34.9h0M219.1 34.1h0M216.8 36.2h0M122.1 39.7h0M25.3 23.9h0M12.9 108.1h0M238.8 93.8h0M82.3 133.9h0M212.5 49.3h0M55.6 115.1h0M242.1 102.0h0M230.1 107.9h0M171.5 143.8h0M248.7 20.3h0M176.2 123.0h0M210.8 77.3h0M204.0 186.9h0M206.2 92.3h0M24.5 23.9h0M183.2 106.3h0M5.7 139.2h0M59.0 130.7h0M61.4 130.9h0M222.2 67.0h0M193.8 187.1h0M151.5 22.2h0M125.2 97.5h0M69.9 184.6h0M45.7 18.7h0M25.9 149.2h0M27.4 146.3h0M110.3 29.9h0M129.2 20.2h0M126.7 19.4h0M20.5 78.6h0M194.2 5.2h0M131.6 80.8h0M2.8 136.5h0M25.6 126.2h0M226.8 63.0h0M50.0 16.0h0M176.9 23.5h0M93.8 30.0h0M162.5 50.3h0M218.9 16.9h0M188.5 73.6h0M74.5 108.5h0M120.2 64.9h0M38.6 152.4h0M218.8 74.6h0M184.8 10.4h0M185.2 13.1h0M236.3 191.2h0M231.4 80.2h0M156.7 186.3h0M168.0 16.8h0M168.3 40.8h0M208.9 79.8h0M26.1 172.6h0M53.6 0.6h0M198.9 6.1h0M114.0 164.1h0M54.2 22.2h0M192.1 140.8h0M191.9 29.6h0M194.1 29.3h0M156.8 57.1h0M200.2 32.3h0M208.7 16.7h0M156.6 11.0h0M50.5 159.5h0M152.9 24.6h0M159.6 64.1h0M157.0 65.3h0M219.3 60.6h0M233.0 149.0h0M236.5 53.5h0M214.4 113.2h0M222.9 23.1h0M108.8 116.4h0M74.5 178.2h0M94.3 104.0h0M96.7 105.4h0M197.8 85.9h0M108.7 120.4h0M123.9 131.7h0M122.2 114.0h0M120.6 86.4h0M183.4 118.1h0M89.6 131.2h0M215.9 131.6h0M37.9 30.8h0M198.7 59.7h0M174.7 66.7h0M194.2 144.6h0M37.9 156.0h0M211.2 48.7h0M158.2 151.9h0M61.6 118.1h0M44.1 44.8h0M130.5 164.0h0M133.8 171.1h0M58.7 191.7h0M107.5 178.4h0M89.5 60.2h0M171.3 184.7h0M32.1 102.5h0M231.1 75.7h0M221.7 25.3h0M188.0 23.7h0M137.7 21.1h0M136.6 19.1h0M221.1 43.4h0M58.2 161.5h0M157.7 103.0h0M62.1 113.0h0M60.2 115.2h0M244.0 85.4h0M168.4 152.5h0M121.7 108.4h0M159.7 48.4h0M150.9 163.9h0M6.6 92.1h0M144.1 171.8h0M43.8 47.6h0M41.4 49.8h0M20.2 140.6h0M240.0 39.4h0M207.9 142.0h0M176.1 98.3h0M246.1 88.7h0M218.5 105.0h0M78.3 79.5h0M51.9 17.6h0M94.3 165.3h0M92.5 163.0h0M124.9 103.9h0M122.5 57.1h0M69.4 131.5h0M67.1 133.6h0M146.4 16.7h0M229.6 95.5h0M46.7 189.2h0M189.2 5.9h0M30.2 36.7h0M214.8 33.5h0M59.0 80.1h0M57.3 81.6h0M60.0 7.0h0M220.0 111.9h0M194.9 36.2h0M133.0 137.2h0M190.9 39.4h0M207.5 78.6h0M102.9 84.1h0M106.7 183.2h0M160.7 85.3h0M140.1 163.5h0M6.8 69.2h0M110.1 188.3h0M147.7 192.1h0M218.5 171.9h0M54.6 109.5h0M25.0 150.3h0M30.3 68.8h0M105.2 160.3h0M58.0 46.0h0M154.7 65.1h0M242.7 182.7h0M4.7 153.1h0M107.9 2.3h0M200.0 128.8h0M243.4 120.8h0M90.2 165.2h0M51.9 169.0h0M53.7 167.7h0M93.7 194.6h0M214.7 190.7h0M175.9 59.6h0M196.7 184.1h0M98.5 92.7h0M106.3 130.0h0M173.0 33.8h0M126.6 74.4h0M36.6 79.1h0M113.8 121.5h0M73.9 60.8h0M224.5 169.7h0M225.3 159.0h0M226.5 156.3h0M27.5 85.4h0M226.4 101.6h0M157.1 48.7h0M7.5 32.1h0M222.6 131.0h0M88.1 152.4h0M171.9 72.1h0M224.3 4.9h0M226.0 84.7h0M142.9 62.6h0M231.0 148.6h0M131.5 114.1h0M35.0 87.4h0M94.9 70.9h0M73.5 0.1h0M136.2 180.1h0M76.3 133.3h0M155.4 34.1h0M219.1 55.3h0M98.3 97.3h0M240.3 75.9h0M150.6 151.7h0M208.6 123.6h0M219.5 27.7h0M37.9 7.8h0M203.3 184.8h0M205.8 183.9h0M70.9 163.0h0M162.6 166.8h0M131.7 72.3h0M129.1 70.8h0M214.4 71.4h0M145.5 6.5h0M144.2 8.7h0M121.5 102.9h0M109.6 81.3h0M107.1 79.9h0M136.7 129.8h0M146.4 137.7h0M148.1 135.8h0M108.6 161.0h0M150.0 31.2h0M203.3 29.2h0M31.7 25.0h0M174.4 9.7h0M136.4 16.0h0M227.1 133.9h0M16.1 71.4h0M200.7 157.9h0M161.5 7.0h0M193.5 83.1h0M179.0 155.2h0M204.5 53.2h0M136.7 103.4h0M228.3 34.3h0M161.8 83.8h0M82.4 128.1h0M210.8 43.0h0M117.6 124.4h0M136.7 33.6h0M161.8 59.6h0M88.0 21.0h0M26.2 111.8h0M59.9 110.9h0M194.6 13.6h0M120.4 54.0h0M128.2 109.9h0M59.4 151.3h0M59.9 112.5h0M34.8 122.1h0M37.3 123.3h0M223.1 155.1h0M159.3 127.6h0M223.7 10.4h0M226.0 12.5h0M9.8 69.1h0M245.5 23.1h0M248.8 23.2h0M19.0 25.2h0M224.3 6.1h0M97.6 109.3h0M214.6 153.9h0M58.0 160.0h0M248.9 139.9h0M59.5 75.0h0M208.3 3.3h0M24.1 129.7h0M76.7 191.3h0M57.7 31.1h0M209.2 109.5h0M193.6 176.7h0M191.6 174.7h0M243.9 146.5h0M30.3 24.3h0M243.8 13.4h0M163.6 80.5h0M32.7 1.1h0M124.2 55.5h0M127.5 55.9h0M155.1 44.7h0M197.2 87.3h0M15.9 88.9h0M19.2 88.3h0M243.1 176.8h0M240.6 174.8h0M106.6 63.3h0M220.4 59.3h0M28.8 75.8h0M144.7 26.1h0M143.8 23.3h0M21.6 69.8h0M23.8 70.9h0M56.8 107.7h0M113.4 90.2h0M61.4 61.4h0M104.3 164.6h0M145.5 168.5h0M93.0 82.7h0M23.0 39.2h0M92.3 92.0h0M97.3 120.9h0M100.0 120.1h0M116.8 51.1h0M183.5 71.0h0M67.0 25.2h0M117.7 63.7h0M73.3 102.5h0M232.8 37.6h0M123.4 59.0h0M125.7 57.5h0M212.3 90.4h0M199.4 61.2h0M19.8 58.8h0M21.9 57.9h0M65.4 67.9h0M66.6 64.9h0M24.1 152.6h0M135.8 40.2h0M137.8 41.4h0M111.8 67.1h0M60.5 119.5h0M154.6 16.9h0M153.4 13.8h0M175.3 134.2h0M175.8 136.7h0M59.6 156.6h0M241.8 138.1h0M125.0 112.0h0M128.8 152.1h0M105.4 62.6h0M104.9 38.0h0M218.0 81.0h0M82.2 5.9h0M79.2 121.8h0M179.0 184.7h0M159.5 55.7h0M140.3 172.8h0M118.3 93.9h0M244.2 31.0h0M244.2 33.4h0M93.4 173.2h0M69.2 58.1h0M77.9 106.4h0M74.6 106.3h0M227.3 176.9h0M244.0 156.9h0M131.2 141.2h0M155.0 103.0h0M124.1 75.5h0M65.1 44.2h0M231.2 51.8h0M148.0 47.0h0M135.8 39.5h0M218.1 89.8h0M147.9 51.1h0M176.7 71.3h0M188.6 20.5h0M152.3 4.4h0M23.5 22.3h0M157.9 100.5h0M155.3 124.0h0M146.1 67.9h0M151.7 159.5h0M246.2 25.0h0M222.1 73.8h0M249.3 68.1h0M72.7 28.3h0M129.9 136.2h0M29.2 161.6h0M161.2 45.7h0M84.9 15.2h0M166.1 110.6h0M198.8 177.0h0M82.7 5.9h0M50.6 14.8h0M69.3 189.2h0M95.9 33.6h0M214.0 114.3h0M189.6 36.8h0M114.1 56.7h0M104.1 178.1h0M100.5 21.6h0M1.2 10.6h0M116.3 34.0h0M219.4 145.6h0M187.8 171.8h0M185.2 172.0h0M56.8 176.4h0M58.7 177.6h0M123.0 4.1h0M123.4 7.1h0M5.6 59.5h0M12.0 37.3h0M149.6 47.9h0M224.4 0.5h0M225.9 -1.4h0M181.5 34.3h0M204.7 147.4h0M155.4 176.0h0M168.3 51.2h0M233.6 60.4h0M6.9 44.0h0M152.8 113.8h0M246.9 192.1h0M36.8 92.5h0M129.9 107.9h0M74.4 161.0h0M72.9 158.2h0M246.8 53.7h0M214.5 141.6h0M7.6 145.7h0M37.9 107.0h0M139.7 7.6h0M111.0 63.7h0M70.1 76.6h0M100.3 25.0h0M28.2 1.9h0M28.2 -0.8h0M12.3 31.2h0M57.8 29.7h0M112.1 3.2h0M207.5 183.6h0M220.4 14.6h0M199.9 65.1h0M102.7 87.7h0M148.7 158.2h0M231.2 184.9h0M52.7 136.9h0M177.0 13.0h0M148.9 96.3h0M146.7 95.2h0M52.2 139.3h0M77.9 62.0h0M84.2 12.6h0M119.2 32.8h0M143.0 19.4h0M214.0 171.6h0M49.0 10.0h0M80.5 73.4h0M14.4 114.5h0M94.2 114.3h0M240.2 154.7h0M54.2 122.1h0M5.1 45.0h0M192.7 0.5h0M124.7 48.2h0M28.2 30.0h0M92.9 7.8h0M59.5 181.7h0M95.5 0.5h0M13.0 9.1h0M13.6 11.6h0M225.8 78.0h0M224.3 80.2h0M22.2 135.6h0M247.3 16.4h0M2.7 164.5h0M233.1 27.8h0M228.7 20.9h0M147.1 72.7h0M189.1 85.0h0M244.4 141.0h0M119.0 9.3h0M127.2 21.7h0M125.6 23.3h0M165.1 90.0h0M189.3 57.9h0M207.0 164.7h0M169.8 51.0h0M76.6 117.6h0M62.8 3.9h0M160.3 9.6h0M229.1 181.6h0M232.3 181.7h0M196.4 75.4h0M168.8 58.7h0M230.8 105.9h0M178.2 84.8h0M60.1 163.4h0M102.7 112.5h0M232.5 131.1h0M40.1 113.0h0M133.0 101.6h0M144.3 18.3h0M51.7 1.5h0M33.4 142.0h0M85.8 7.7h0M152.2 17.6h0M96.5 35.5h0M167.7 14.6h0M64.7 42.9h0M83.1 20.7h0M117.7 159.9h0M80.1 125.4h0M55.3 117.5h0M12.8 77.2h0M105.6 76.6h0M83.1 43.8h0M135.1 6.7h0M100.6 21.1h0M228.6 179.5h0M153.7 74.8h0M54.3 75.9h0M161.0 125.6h0M9.5 125.2h0M6.3 105.7h0M29.1 10.8h0M86.5 173.4h0M18.4 42.4h0M148.9 145.4h0M128.2 184.9h0M57.4 144.4h0M55.8 147.2h0M204.4 22.8h0M87.2 2.8h0M39.0 49.3h0M242.5 65.2h0M235.8 122.7h0M75.8 109.6h0M148.2 185.3h0M92.6 127.9h0M126.8 22.9h0M128.0 25.9h0M32.0 8.8h0M123.6 120.9h0M126.4 122.7h0M182.5 12.6h0M96.4 40.7h0M54.4 62.8h0M55.0 65.4h0M249.3 115.4h0M214.6 185.2h0M216.5 187.1h0M65.2 157.9h0M116.7 75.6h0M160.4 34.3h0M158.0 32.8h0M222.0 116.1h0M19.0 21.3h0M208.4 91.1h0M121.9 51.8h0M126.5 171.1h0M103.4 157.5h0M85.4 130.3h0M83.4 128.9h0M24.0 65.3h0M188.4 48.6h0M80.6 51.8h0M241.9 76.7h0M8.3 146.4h0M100.0 2.0h0M6.8 48.0h0M95.3 87.6h0M47.1 172.7h0M19.6 89.4h0M245.8 25.0h0M51.8 55.8h0M7.4 16.9h0M7.3 19.5h0M153.7 47.6h0M150.4 47.3h0M168.1 123.1h0M226.5 4.1h0M200.6 187.2h0M61.4 123.7h0M136.4 167.7h0M209.9 122.7h0M215.8 143.6h0M26.5 157.9h0M141.1 4.4h0M3.5 63.7h0M245.9 90.5h0M125.8 146.5h0M86.8 17.3h0M153.6 112.1h0M204.0 119.5h0M202.5 75.1h0M229.7 179.9h0M185.8 137.1h0M87.9 130.4h0M102.3 25.3h0M56.6 185.3h0M241.1 188.0h0M33.7 54.6h0M31.7 56.5h0M162.0 37.6h0M213.4 34.4h0M215.6 36.1h0M91.7 2.2h0M1.9 18.2h0M173.3 169.5h0M104.6 49.0h0M111.9 6.1h0M109.6 5.4h0M136.6 18.2h0M245.9 157.7h0M210.7 37.7h0M14.1 179.7h0M228.9 81.7h0M15.8 37.2h0M175.7 39.6h0M122.5 30.8h0M121.3 28.2h0M240.8 166.2h0M62.7 136.3h0M238.9 54.1h0M84.1 59.6h0M66.2 58.1h0M65.0 56.1h0M239.7 109.8h0M190.2 147.0h0M138.3 39.6h0M215.7 3.0h0M128.3 15.4h0M224.3 75.3h0M117.8 33.7h0M75.9 4.1h0M77.9 6.8h0M50.7 74.7h0M174.6 118.9h0M160.5 128.9h0M245.3 36.4h0M142.3 16.1h0M124.6 103.6h0M171.8 9.5h0M218.8 78.3h0M177.5 45.1h0M243.0 16.3h0M194.8 21.3h0M216.5 110.5h0M47.0 63.5h0M17.2 182.8h0M144.1 131.5h0M62.3 16.6h0M209.9 130.6h0M83.5 91.6h0M180.1 82.2h0M72.3 70.5h0M221.0 106.9h0M23.2 19.3h0M30.1 93.7h0M49.1 6.3h0M47.1 68.6h0M63.3 82.7h0M4.9 28.3h0M13.9 108.3h0M14.3 110.7h0M133.8 61.3h0M167.0 151.4h0M90.4 137.4h0M38.0 159.5h0M213.8 20.9h0M175.2 60.9h0M172.2 62.3h0M17.9 1.1h0M18.1 4.0h0M91.7 86.0h0M23.5 51.3h0M118.5 7.8h0M117.7 4.8h0M180.3 100.7h0M150.3 165.3h0M180.6 155.2h0M146.1 183.5h0M202.3 81.3h0M238.1 56.3h0M175.1 112.3h0M148.6 109.9h0M48.2 114.4h0M21.3 77.7h0M147.6 65.3h0M150.5 63.5h0M64.9 2.9h0M173.4 52.5h0M17.9 33.4h0M92.9 163.6h0M148.9 23.7h0M188.7 178.2h0M147.8 182.9h0M14.0 43.2h0M224.0 66.0h0M161.7 73.7h0M68.7 180.7h0M151.5 148.5h0M50.8 9.0h0M132.5 30.3h0M59.8 62.8h0M162.3 109.0h0M186.7 175.5h0M225.4 139.5h0M153.7 40.9h0M154.8 37.9h0M30.2 141.9h0M175.7 102.0h0M218.0 111.3h0M124.1 105.5h0M209.8 10.8h0M233.6 0.0h0M41.3 122.5h0M195.7 118.8h0M169.1 106.9h0M12.2 151.1h0M67.9 157.5h0M60.2 48.6h0M223.9 118.6h0M120.5 128.2h0M244.1 71.4h0M241.3 134.1h0M41.8 4.4h0M101.3 42.8h0M103.0 40.9h0M148.8 60.3h0M146.7 58.2h0M204.6 1.9h0M90.8 49.0h0M132.7 146.1h0M202.8 190.1h0M205.5 191.1h0M94.6 81.8h0M213.8 57.9h0M38.1 16.4h0M169.5 112.7h0M55.9 154.0h0M200.8 75.5h0M5.7 7.2h0M186.6 116.3h0M29.8 151.2h0M190.7 83.9h0M219.8 27.1h0M225.2 81.9h0M224.8 79.5h0M234.8 55.3h0M12.1 58.8h0M153.1 113.8h0M53.7 168.5h0M188.2 16.0h0M72.6 28.0h0M153.9 183.0h0M138.9 154.6h0M106.8 34.9h0M239.4 75.4h0M218.4 141.4h0M207.9 18.4h0M53.0 97.8h0M188.2 171.8h0M136.1 150.6h0M11.4 56.9h0M124.2 109.1h0M128.1 149.1h0M158.9 102.2h0M121.3 56.1h0M207.8 29.0h0M150.4 53.7h0M220.4 17.5h0M69.8 139.9h0M69.2 3.6h0M232.6 13.9h0M242.1 22.4h0M110.7 41.4h0M172.0 63.4h0M117.1 158.2h0M114.2 156.9h0M216.6 85.7h0M218.0 87.7h0M41.6 35.3h0M90.1 181.7h0M82.2 151.4h0M209.0 178.1h0M196.6 131.5h0M196.5 134.0h0M51.4 148.2h0M127.6 84.1h0M94.9 22.7h0M94.7 20.4h0M136.4 167.0h0M246.9 138.6h0M95.0 171.9h0M97.1 171.1h0M179.7 151.7h0M177.9 149.5h0M99.7 119.1h0M128.8 96.5h0M164.1 69.6h0M154.7 58.7h0M156.5 56.3h0M135.7 165.2h0M60.8 98.9h0M78.6 148.0h0M53.6 139.9h0M55.2 137.6h0M222.0 148.8h0M224.5 147.4h0M199.6 1.8h0M234.3 72.0h0M105.7 51.2h0M135.1 80.0h0M133.4 82.4h0M93.5 59.8h0M223.0 7.7h0M227.4 13.5h0M194.0 43.6h0M195.0 41.3h0M52.4 19.5h0M117.9 179.4h0M164.1 21.2h0M104.6 62.3h0M241.3 9.1h0M43.0 194.6h0M222.1 101.2h0" stroke="#a00aa8"/>
<path d="M30.1 66.8h0M31.9 106.4h0M183.6 46.9h0M74.2 7.9h0M230.4 11.4h0M68.5 120.2h0M214.3 12.0h0M244.1 155.6h0M66.3 46.5h0M147.0 94.5h0M83.1 6.3h0M117.3 39.1h0M114.2 40.3h0M8.4 174.0h0M13.9 131.0h0M92.8 166.6h0M182.0 133.4h0M189.4 100.7h0M178.2 2.1h0M176.1 -0.0h0M25.3 148.5h0M207.5 32.1h0M132.2 109.7h0M76.2 27.4h0M198.1 36.4h0M1.8 62.8h0M3.6 61.2h0M218.3 48.9h0M218.1 171.0h0M220.1 173.1h0M153.6 134.0h0M74.9 53.5h0M221.0 28.1h0M186.6 81.1h0M56.5 194.6h0M206.2 45.9h0M209.4 45.3h0M132.1 56.0h0M183.3 10.9h0M191.2 100.2h0M168.9 49.6h0M30.7 20.6h0M152.9 124.9h0M212.8 149.6h0M202.1 162.5h0M179.0 120.8h0M80.2 28.9h0M201.0 38.5h0M135.8 21.9h0M135.4 24.5h0M232.7 184.9h0M62.6 180.4h0M62.0 183.4h0M195.0 183.8h0M60.4 0.2h0M68.8 112.8h0M127.1 157.7h0M244.4 59.8h0M246.6 60.4h0M116.1 11.4h0M168.1 29.7h0M154.0 143.1h0M29.2 14.1h0M109.5 179.3h0M161.0 182.5h0M48.3 10.3h0M225.3 97.7h0M88.2 70.6h0M86.1 68.1h0M54.9 140.9h0M120.3 3.3h0M197.3 99.3h0M161.6 158.7h0M152.5 75.7h0M15.4 151.0h0M35.9 46.8h0M30.1 76.2h0M27.8 17.0h0M192.7 35.9h0M192.0 134.3h0M194.2 132.0h0M16.4 10.4h0M84.2 9.7h0M81.6 11.3h0M182.8 69.4h0M173.0 78.1h0M223.0 62.3h0M171.7 176.6h0M45.7 21.1h0M178.9 36.2h0M83.5 89.8h0M179.2 76.5h0M192.9 80.4h0M213.6 44.5h0M67.2 73.4h0M238.5 94.6h0M113.6 63.6h0M113.3 65.9h0M0.3 61.7h0M215.5 129.4h0M73.8 18.7h0M95.5 2.4h0M37.9 40.5h0M188.5 84.0h0M190.8 83.2h0M18.2 121.9h0M60.4 57.9h0M101.0 14.2h0M172.2 143.7h0M207.1 54.6h0M167.8 86.0h0M109.9 149.5h0M167.3 2.2h0M136.8 143.0h0M139.1 141.4h0M15.1 154.7h0M71.4 27.5h0M62.4 16.4h0M30.1 41.7h0M43.5 40.8h0M19.8 89.1h0M175.7 178.0h0M106.5 29.8h0M107.9 28.0h0M53.1 105.4h0M215.0 96.7h0M148.3 175.0h0M178.6 3.8h0M75.8 153.7h0M215.2 180.3h0M216.5 106.9h0M76.5 144.3h0M193.5 143.2h0M198.9 77.8h0M114.5 11.9h0M114.9 14.6h0M171.5 44.5h0M144.1 178.4h0M122.2 85.0h0M212.0 83.9h0M214.8 85.4h0M141.6 164.4h0M104.4 148.4h0M32.1 83.7h0M164.5 120.9h0M216.6 97.6h0M43.3 104.1h0M72.4 16.6h0M206.5 46.7h0M216.5 81.3h0M139.5 17.8h0M142.0 20.0h0M10.0 136.3h0M137.2 155.7h0M73.0 64.6h0M244.7 70.2h0M206.5 38.5h0M205.3 35.7h0M208.8 175.6h0M57.7 63.7h0M97.1 19.9h0M196.6 49.1h0M134.3 40.6h0M148.9 6.4h0M165.1 118.5h0M242.8 9.2h0M94.1 44.3h0M204.2 172.7h0M21.6 7.0h0M140.7 2.1h0M157.7 63.6h0M141.7 157.2h0M116.4 159.0h0M174.1 50.0h0M181.4 119.1h0M74.7 153.7h0M62.9 122.6h0M86.5 35.2h0M86.4 38.2h0M125.0 168.7h0M122.6 169.5h0M195.0 141.0h0M196.1 138.9h0M67.9 146.0h0M42.1 69.1h0M244.6 11.8h0M117.8 27.4h0M211.1 87.1h0M163.0 155.0h0M170.4 83.8h0M1.6 115.3h0M0.1 113.5h0M125.7 81.5h0M32.3 82.7h0M107.9 166.0h0M106.7 163.7h0M29.7 29.7h0M130.1 17.5h0M186.7 115.8h0M189.8 50.6h0M190.4 47.6h0M126.8 90.3h0M127.1 87.0h0M180.7 187.7h0M187.6 113.9h0M188.9 143.1h0M203.3 173.3h0M200.8 175.2h0M216.0 70.9h0M100.5 131.3h0M88.5 82.8h0M173.2 69.4h0M192.6 74.3h0M-1.7 133.5h0M105.0 31.5h0M180.3 35.0h0M166.9 48.9h0M30.7 51.8h0M8.8 99.4h0M83.6 119.4h0M103.6 185.4h0M246.3 164.2h0M229.9 15.3h0M224.1 1.4h0M23.0 156.8h0M194.7 4.4h0M124.0 3.0h0M189.2 98.3h0M57.5 152.5h0M39.9 27.5h0M5.0 169.3h0M46.8 61.1h0M57.4 153.5h0M88.1 48.4h0M176.7 7.1h0M206.0 11.5h0M208.5 9.3h0M164.8 43.1h0M182.8 69.0h0M191.0 74.7h0M107.7 68.2h0M73.3 91.7h0M38.0 3.4h0M217.9 127.2h0M181.0 30.9h0M247.0 94.5h0M246.7 92.0h0M27.0 110.0h0M143.5 64.5h0M143.3 62.3h0M154.4 119.3h0M81.8 47.6h0M171.6 72.7h0M154.7 173.6h0M152.7 174.9h0M147.3 31.4h0M238.0 56.4h0M170.0 155.3h0M199.7 54.3h0M22.2 84.0h0M147.5 113.1h0M93.2 48.8h0M139.0 11.1h0M203.8 148.1h0M104.1 2.7h0M166.1 22.0h0M165.2 19.6h0M186.4 92.3h0M149.7 139.9h0M154.2 136.0h0M159.0 69.5h0M72.3 176.1h0M226.6 50.3h0M33.9 171.4h0M166.9 139.5h0M243.6 110.0h0M39.7 109.9h0M17.7 92.5h0M20.9 93.1h0M202.0 47.9h0M136.2 104.0h0M76.6 70.6h0M26.0 24.9h0M46.0 12.0h0M197.7 80.8h0M241.9 89.5h0M76.4 122.3h0M19.8 67.7h0M221.4 37.6h0M43.3 6.7h0M40.9 7.9h0M204.7 127.7h0M204.1 125.1h0M126.9 41.8h0M120.9 53.9h0M158.8 45.9h0M248.6 35.5h0M25.5 1.1h0M140.4 83.2h0M18.1 76.3h0M217.5 85.7h0M215.4 87.4h0M216.0 141.4h0M111.4 43.7h0M50.5 63.7h0M17.2 110.9h0M26.5 173.4h0M11.1 88.3h0M58.0 5.5h0M49.5 124.0h0M213.2 31.2h0M114.2 49.9h0M137.4 166.5h0M237.0 58.0h0M214.1 129.5h0M95.8 59.8h0M152.6 145.2h0M102.9 62.0h0M247.9 14.5h0M245.4 14.1h0M202.5 171.2h0M28.7 82.6h0M125.7 158.5h0M58.2 185.1h0M98.9 3.7h0M195.4 56.4h0M193.2 58.7h0M154.2 59.7h0M27.3 36.8h0M135.7 46.2h0M134.8 43.1h0M135.6 157.4h0M246.4 184.2h0M237.1 29.5h0M22.6 12.1h0M2.4 70.1h0M189.9 22.4h0M191.7 21.0h0M64.3 16.4h0M81.4 39.0h0M212.1 60.2h0M175.5 42.9h0M129.8 113.7h0M67.5 45.3h0M80.0 27.1h0M226.9 15.9h0M52.3 19.4h0M135.9 190.6h0M140.4 185.5h0M139.8 28.0h0M137.8 93.8h0M1.9 99.1h0M139.3 171.4h0M238.4 123.3h0M235.8 123.8h0M182.9 63.4h0M182.1 61.0h0M201.7 6.7h0M196.1 19.7h0M179.1 111.5h0M233.4 122.7h0M223.0 77.7h0M220.5 78.4h0M187.0 13.0h0M13.4 164.0h0M94.8 134.0h0M112.9 23.9h0M114.4 22.2h0M248.1 49.9h0M248.7 66.2h0M156.7 20.9h0M200.8 14.6h0M205.9 98.0h0M148.3 15.8h0M139.4 12.7h0M71.6 13.1h0M99.2 18.3h0M217.2 84.2h0M76.4 33.5h0M166.0 59.1h0M227.1 73.0h0M228.8 7.0h0M17.3 134.9h0M46.9 145.0h0M85.3 148.2h0M126.0 71.8h0M68.2 144.8h0M74.1 36.7h0M90.6 122.6h0M143.2 69.9h0M89.4 153.0h0M170.9 74.0h0M240.0 120.1h0M65.1 73.5h0M141.6 39.0h0M219.8 167.5h0M215.9 52.8h0M214.1 55.1h0M164.6 76.5h0M117.8 6.9h0M155.0 86.7h0M239.7 121.4h0M237.5 121.1h0M140.2 44.4h0M159.8 36.3h0M25.2 160.2h0M188.3 114.7h0M135.7 152.7h0M219.0 64.0h0M221.3 65.6h0M189.6 42.8h0M62.4 135.1h0M18.8 106.9h0M195.8 26.3h0M196.6 28.6h0M217.7 145.5h0M83.1 135.8h0M222.1 190.9h0M101.9 142.0h0M227.6 16.2h0M214.1 127.7h0M210.8 127.9h0M109.4 139.0h0M133.5 152.4h0M224.9 7.5h0M182.9 106.3h0M60.8 109.3h0M62.6 107.5h0M144.7 98.6h0M189.3 174.7h0M209.1 122.9h0M25.5 77.5h0M68.9 74.5h0M121.7 139.8h0M123.8 140.6h0M228.2 40.4h0M39.4 0.2h0M237.9 38.0h0M60.3 91.0h0M128.0 116.6h0M38.6 57.9h0M28.6 70.2h0M174.7 59.3h0M74.7 144.6h0M167.1 14.8h0M111.9 144.8h0M57.4 159.6h0M124.4 117.2h0M126.4 116.2h0M215.1 50.2h0M56.9 117.6h0M129.5 87.8h0M129.9 90.2h0M91.6 97.5h0M132.3 47.7h0M100.3 0.2h0M177.4 125.8h0M180.9 77.4h0M213.0 76.3h0M187.4 179.2h0M188.7 182.2h0M22.1 23.0h0M4.5 137.0h0M201.0 82.1h0M204.2 175.2h0M224.0 69.5h0M118.5 4.1h0M127.4 95.8h0M106.0 115.4h0M106.5 118.4h0M137.4 18.0h0M161.7 105.9h0M143.2 73.9h0M130.5 68.9h0M132.5 67.9h0M28.1 147.4h0M26.5 6.1h0M196.8 7.1h0M114.2 37.8h0M210.5 141.8h0M4.7 133.7h0M66.4 118.8h0M65.8 121.1h0M40.8 67.8h0M188.2 70.8h0M142.1 110.3h0M31.7 13.5h0M30.4 11.4h0M179.1 24.5h0M174.9 72.2h0M0.6 36.4h0M-1.7 34.8h0M93.8 27.7h0M217.4 14.7h0M102.6 83.6h0M237.4 173.6h0M55.2 141.3h0M186.0 34.2h0M199.5 90.9h0M206.5 41.6h0M204.2 40.8h0M157.0 18.9h0M159.1 17.0h0M103.4 51.5h0M39.4 169.7h0M228.9 169.0h0M160.0 56.1h0M158.6 189.9h0M198.1 34.8h0M178.0 187.1h0M144.2 58.1h0M147.3 57.8h0M189.7 115.3h0M163.6 172.7h0M126.5 58.7h0M124.4 57.4h0M232.0 146.7h0M163.9 156.4h0M213.1 110.2h0M132.6 128.3h0M129.6 129.2h0M2.1 161.0h0M197.3 171.9h0M121.4 191.5h0M166.2 21.0h0M199.9 86.7h0M123.5 134.6h0M138.9 151.8h0M76.9 132.7h0M178.9 22.2h0M213.3 131.0h0M244.5 49.1h0M78.1 165.3h0M201.1 60.0h0M55.2 114.8h0M194.6 142.0h0M37.1 153.8h0M184.2 20.9h0M43.3 20.1h0M97.8 67.6h0M151.0 74.1h0M152.8 72.2h0M130.8 171.3h0M61.3 193.8h0M230.1 19.6h0M224.5 25.4h0M206.4 96.2h0M209.1 95.1h0M194.7 161.7h0M192.1 160.0h0M56.3 159.3h0M157.9 106.1h0M97.9 159.1h0M100.1 158.3h0M156.0 61.3h0M222.6 98.1h0M162.3 48.9h0M154.1 163.5h0M5.2 89.6h0M169.2 169.3h0M31.0 81.2h0M21.9 138.9h0M130.7 78.6h0M35.0 0.9h0M219.1 2.8h0M5.0 40.1h0M198.1 177.1h0M201.0 61.4h0M146.7 136.1h0M148.9 83.5h0M146.9 81.6h0M104.8 100.9h0M177.2 61.3h0M161.4 69.8h0M52.5 20.1h0M209.5 31.8h0M69.1 107.0h0M11.9 82.0h0M11.1 84.7h0M52.3 29.3h0M64.7 144.4h0M225.9 90.8h0M183.5 60.5h0M73.2 90.1h0M144.1 17.2h0M81.9 18.6h0M84.6 17.8h0M187.0 8.7h0M151.9 155.2h0M149.0 156.6h0M240.5 152.2h0M71.1 99.4h0M195.7 177.8h0M62.3 30.7h0M33.2 36.0h0M57.2 147.9h0M143.1 180.4h0M217.8 32.8h0M185.5 18.0h0M62.5 8.3h0M176.1 10.8h0M140.4 129.9h0M220.7 109.2h0M135.3 138.0h0M100.7 82.3h0M104.1 182.5h0M206.9 8.7h0M53.1 10.4h0M110.6 185.5h0M128.8 40.6h0M76.6 103.8h0M74.4 21.6h0M223.8 26.0h0M220.1 169.5h0M23.5 161.9h0M20.6 163.3h0M30.9 70.8h0M139.9 62.8h0M179.6 103.8h0M48.4 12.5h0M210.3 57.4h0M205.1 142.0h0M59.2 44.2h0M44.1 178.3h0M96.8 74.5h0M94.0 74.1h0M2.3 152.5h0M5.3 28.1h0M96.3 125.3h0M115.8 87.7h0M117.1 84.7h0M222.9 80.1h0M244.7 123.1h0M193.3 2.7h0M140.6 182.1h0M92.9 166.9h0M249.5 86.7h0M108.9 131.6h0M172.5 31.3h0M34.3 80.8h0M78.1 8.1h0M5.1 17.4h0M3.1 19.1h0M27.2 83.0h0M33.8 72.3h0M175.6 42.9h0M223.7 103.3h0M153.8 48.3h0M185.7 174.3h0M1.6 72.6h0M90.4 137.8h0M169.4 70.3h0M227.7 87.1h0M111.4 81.6h0M232.1 150.6h0M207.5 10.1h0M98.8 33.9h0M97.2 36.1h0M166.1 35.1h0M25.2 81.3h0M209.4 81.7h0M207.0 40.4h0M133.6 18.0h0M23.2 189.1h0M5.0 16.6h0M185.9 9.5h0M183.8 8.0h0M195.5 54.7h0M192.7 53.6h0M138.9 62.5h0M78.9 133.2h0M146.3 6.5h0M108.7 22.1h0M196.4 51.0h0M95.4 96.6h0M238.1 75.2h0M107.6 25.0h0M109.5 23.1h0M239.1 13.9h0M214.0 65.1h0M155.2 42.6h0M45.7 8.2h0M47.5 9.5h0M115.6 83.1h0M39.4 5.0h0M54.4 47.2h0M51.2 47.2h0M159.5 104.6h0M67.9 189.6h0M212.4 73.3h0M159.4 42.6h0M41.5 106.0h0M102.2 18.5h0M116.1 80.2h0M168.0 185.0h0M26.3 37.0h0M138.9 31.2h0M175.3 7.4h0M17.2 74.3h0M203.4 159.1h0M124.4 46.1h0M162.9 86.1h0M178.0 134.1h0M63.7 111.1h0M151.9 91.0h0M53.8 125.1h0M51.4 126.3h0M226.2 20.8h0M6.1 32.6h0M5.0 35.8h0M193.3 87.9h0M58.5 112.6h0M188.8 150.6h0M232.8 69.8h0M234.7 67.1h0M202.2 17.8h0M203.2 19.9h0M11.5 102.6h0M223.5 152.0h0M186.0 120.7h0M83.2 36.2h0M104.1 21.9h0M106.5 23.0h0M11.3 67.3h0M101.1 73.6h0M65.9 47.5h0M221.7 6.4h0M96.4 112.3h0M38.6 63.1h0M19.6 124.7h0M161.7 1.5h0M153.0 24.2h0M61.0 11.9h0M163.5 52.2h0M41.1 4.3h0M41.0 66.8h0M214.9 10.4h0M95.3 19.2h0M192.1 119.6h0M194.9 119.9h0M108.3 71.8h0M138.6 89.6h0M74.0 190.4h0M2.2 192.1h0M54.3 30.9h0M28.8 27.2h0M33.4 4.2h0M94.6 103.4h0M96.6 101.1h0M80.3 88.0h0M67.6 1.4h0M21.2 36.0h0M152.3 63.8h0M217.9 57.3h0M217.1 64.7h0M84.3 74.1h0M175.6 139.3h0M163.6 70.5h0M54.7 105.8h0M105.9 160.4h0M59.0 60.7h0M242.9 14.9h0M147.2 128.0h0M20.8 39.6h0M212.4 42.8h0M192.2 75.2h0M120.0 52.0h0M181.2 10.7h0M178.9 11.3h0M238.8 5.8h0M225.3 42.2h0M209.7 169.7h0M68.9 23.8h0M119.4 62.2h0M99.9 82.9h0M101.0 80.9h0M172.5 193.2h0M201.4 60.0h0M13.1 91.5h0M216.4 30.9h0M108.1 94.6h0M58.6 137.0h0M141.4 37.2h0M117.3 11.8h0M26.5 154.0h0M143.6 119.0h0M91.8 170.4h0M58.0 117.5h0M215.2 153.5h0M237.6 182.7h0M209.4 176.3h0M242.9 135.9h0M40.5 89.1h0M107.2 60.2h0M82.0 167.8h0M124.4 2.3h0M122.3 3.0h0M62.2 145.5h0M218.3 27.9h0M157.6 53.4h0M68.2 3.1h0M125.7 69.7h0M140.8 176.1h0M120.6 96.0h0M234.8 27.2h0M122.8 84.9h0M126.4 46.4h0M133.8 141.3h0M118.0 27.8h0M7.4 14.4h0M113.8 73.6h0M192.6 4.0h0M229.4 53.1h0M149.3 44.4h0M59.1 36.4h0M242.5 63.3h0M191.5 20.4h0M169.5 97.5h0M171.8 95.8h0M156.8 98.2h0M220.3 76.4h0M57.3 20.5h0M27.3 162.9h0M115.9 113.2h0M222.7 58.1h0M6.4 10.2h0M68.0 191.7h0M97.8 31.2h0M154.6 78.8h0M181.2 36.1h0M28.2 37.2h0M43.2 155.4h0M41.0 154.8h0M219.4 148.0h0M112.0 74.8h0M195.6 119.2h0M196.1 122.1h0M98.9 133.3h0M146.7 49.2h0M58.2 55.2h0M21.7 136.9h0M204.0 150.6h0M206.6 188.9h0M208.8 187.7h0M216.9 44.3h0M8.9 45.2h0M127.6 107.7h0M217.1 83.1h0M42.7 61.4h0M99.2 67.8h0M152.3 65.2h0M153.4 68.0h0M7.6 180.7h0M7.8 184.1h0M213.3 144.5h0M171.5 30.1h0M71.1 74.2h0M179.3 172.2h0M226.0 26.3h0M188.1 114.6h0M222.1 13.7h0M189.8 83.0h0M190.0 80.3h0M116.0 9.8h0M153.8 153.6h0M155.4 151.2h0M236.1 144.9h0M233.2 145.6h0M136.0 98.1h0M74.4 42.7h0M229.4 40.5h0M231.6 39.9h0M151.7 102.4h0M189.8 130.4h0M81.1 46.4h0M78.8 46.0h0M151.8 156.9h0M31.8 90.5h0M147.4 140.3h0M57.5 121.7h0M24.4 46.0h0M52.1 11.7h0M125.7 106.0h0M245.2 162.5h0M203.8 26.6h0M201.8 27.6h0M178.5 15.8h0M53.5 137.2h0M133.3 30.2h0M15.0 54.0h0M203.0 22.4h0M218.1 63.3h0M225.0 161.6h0M3.3 85.6h0M218.3 128.3h0M176.4 64.5h0M174.2 64.0h0M120.4 35.5h0M189.5 66.7h0M51.8 25.5h0M8.2 151.6h0M49.8 12.6h0M108.2 181.2h0M108.8 178.6h0M83.3 72.4h0M138.1 99.3h0M243.0 153.4h0M109.6 51.0h0M151.8 85.3h0M18.8 156.8h0M2.0 64.5h0M193.8 140.4h0M192.5 142.3h0M176.7 81.6h0M227.9 77.0h0M72.0 178.3h0M146.2 11.2h0M133.9 21.7h0M63.5 84.0h0M65.8 85.0h0M139.8 106.4h0M206.0 46.1h0M157.5 36.1h0M144.0 168.6h0M192.3 62.2h0M190.1 60.9h0M151.8 148.7h0M161.6 189.7h0M168.5 97.8h0M153.0 36.7h0M137.7 1.2h0M140.6 0.3h0M22.8 133.3h0M51.4 101.1h0M244.3 56.0h0M204.7 17.0h0M0.3 166.3h0M124.7 15.5h0M9.0 11.3h0M6.9 12.2h0M173.7 125.8h0M173.0 128.0h0M175.7 147.5h0M125.1 104.3h0M240.0 90.7h0M241.7 88.4h0M225.5 21.4h0M202.4 88.8h0M80.0 102.3h0M159.0 147.9h0M161.1 149.0h0M64.4 1.0h0M100.5 24.6h0M99.4 22.3h0M53.5 38.3h0M167.1 1.0h0M164.8 0.2h0M54.9 93.3h0M193.8 74.3h0M123.4 117.2h0M124.3 114.2h0M208.0 14.3h0M101.8 109.9h0M116.7 43.1h0M46.3 50.7h0M40.9 115.6h0M249.9 75.1h0M50.3 62.3h0M232.1 120.4h0M197.8 73.3h0M4.2 45.0h0M133.0 99.3h0M46.9 163.6h0M45.2 161.6h0M89.4 76.6h0M146.4 16.8h0M50.2 4.4h0M137.1 192.3h0M117.4 168.1h0M161.2 95.2h0M73.9 175.8h0M76.3 177.0h0M104.8 79.8h0M158.3 54.6h0M231.3 181.0h0M156.6 73.7h0M52.8 73.1h0M52.8 104.6h0M215.6 70.3h0M8.4 122.1h0M19.2 40.1h0M238.7 40.1h0M240.3 38.5h0M151.1 145.7h0M193.8 29.6h0M195.5 27.8h0M202.7 97.6h0M202.7 100.6h0M233.7 65.4h0M149.9 176.0h0M125.9 185.3h0M19.8 109.5h0M4.0 18.9h0M242.2 67.8h0M235.9 124.9h0M68.4 162.0h0M134.0 174.7h0M44.7 144.3h0M44.8 142.0h0M153.9 19.4h0M194.2 30.0h0M63.7 137.3h0M17.1 64.0h0M46.6 20.3h0M154.9 50.4h0M152.1 50.9h0M51.5 183.0h0M175.7 112.9h0M172.9 114.3h0M111.6 48.5h0M5.6 3.0h0M33.3 13.5h0M55.6 9.7h0M55.3 7.4h0M174.7 50.8h0M102.5 130.0h0M103.4 127.5h0M34.2 103.5h0M247.1 117.0h0M21.9 153.5h0M210.4 88.5h0M34.6 4.6h0M32.6 2.4h0M100.9 157.5h0M45.0 51.6h0M24.7 44.8h0M242.6 74.4h0M5.8 146.1h0M199.0 20.1h0M117.6 144.2h0M21.3 29.7h0M85.7 129.3h0M98.1 88.3h0M49.0 170.5h0M246.7 22.3h0M56.4 152.5h0M13.1 134.7h0M13.4 131.4h0M151.1 69.7h0M212.8 142.9h0M174.6 147.0h0M149.0 154.9h0M248.1 91.7h0M98.0 70.8h0M212.0 17.9h0M185.8 9.9h0M95.3 160.2h0M215.2 124.5h0M100.5 27.3h0M124.0 38.5h0M247.3 185.4h0M56.3 188.5h0M239.8 29.1h0M242.9 190.1h0M159.6 36.9h0M216.7 33.5h0M6.6 4.1h0M90.9 -1.1h0M116.1 110.5h0M115.1 112.7h0M216.2 72.1h0M205.7 15.5h0M207.7 16.6h0M165.5 46.7h0M27.6 73.0h0M30.3 72.5h0M206.6 21.6h0M128.1 61.0h0M174.3 167.1h0M239.0 75.6h0M140.0 51.1h0M138.7 20.1h0M208.4 40.1h0M81.0 53.9h0M165.6 179.1h0M126.1 187.7h0M123.4 186.9h0M140.1 104.3h0M232.3 72.5h0M177.7 42.2h0M174.7 75.6h0M176.7 77.2h0M243.4 167.2h0M188.8 145.4h0M23.9 143.6h0M107.7 125.0h0M201.6 164.0h0M5.3 150.0h0M241.6 42.2h0M44.5 114.0h0M53.6 76.2h0M153.0 43.5h0M35.2 40.7h0M5.2 56.2h0M2.3 57.2h0M118.5 60.4h0M120.8 58.0h0M247.8 34.2h0M137.7 67.5h0M237.1 37.9h0M121.2 103.9h0M240.7 14.8h0M175.0 71.3h0M160.0 119.2h0M20.3 182.0h0M172.8 94.3h0M89.9 120.7h0M61.0 13.5h0M97.4 100.8h0M96.1 103.2h0M207.6 129.5h0M92.1 139.0h0M220.7 43.6h0M202.6 181.7h0M7.7 28.9h0M31.5 21.6h0M28.9 23.6h0M240.2 121.3h0M165.8 154.5h0M90.8 137.2h0M88.5 138.3h0M248.8 85.5h0M48.6 161.8h0M49.8 60.0h0M143.8 124.5h0M141.7 126.3h0M88.9 86.5h0M152.2 163.4h0M177.9 69.4h0M31.0 80.6h0M154.6 102.0h0M156.9 104.3h0M90.8 108.0h0M143.9 185.3h0M235.4 55.7h0M166.8 186.0h0M148.5 112.8h0M117.5 15.7h0M17.2 26.7h0M248.8 73.2h0M46.4 112.7h0M183.4 168.3h0M185.2 165.5h0M226.8 11.4h0M224.2 11.6h0M211.5 16.2h0M211.7 13.8h0M40.2 96.7h0M150.2 25.7h0M40.7 10.7h0M67.5 18.1h0M246.9 41.3h0M76.2 110.0h0M78.1 108.1h0M79.9 63.8h0M107.8 65.2h0M93.2 164.0h0M152.7 55.8h0M198.0 7.1h0M165.6 108.9h0M174.7 36.9h0M176.3 34.0h0M178.7 103.0h0M66.6 146.4h0M121.9 107.2h0M91.6 136.0h0M34.6 159.7h0M135.5 131.9h0M121.0 84.6h0M245.7 149.6h0M227.2 80.7h0M228.5 82.5h0M174.3 92.7h0M235.7 90.4h0M233.8 91.9h0M169.3 35.7h0M166.4 37.1h0M115.7 80.5h0M112.6 80.3h0M57.9 27.7h0M29.7 87.8h0M43.5 121.8h0M198.2 117.2h0M232.6 182.1h0M66.0 158.9h0M120.2 111.5h0M120.0 131.5h0M234.9 0.8h0M40.1 5.9h0M166.8 151.8h0M168.8 153.7h0M204.6 22.0h0M206.9 2.3h0M8.8 182.5h0M93.3 49.9h0M191.2 142.9h0M97.2 82.3h0M158.9 62.9h0M171.8 115.2h0M98.9 47.6h0M119.6 39.4h0M202.5 73.1h0M90.2 87.3h0M93.2 88.3h0M215.3 23.7h0M212.9 11.3h0M184.8 113.5h0M23.1 46.6h0M130.9 57.6h0M194.2 99.6h0M217.3 28.4h0M198.1 13.2h0M6.2 17.5h0M10.4 60.8h0M156.4 0.0h0M237.7 26.5h0M153.6 137.5h0M151.1 139.3h0M106.7 6.9h0M213.3 40.2h0M206.6 40.6h0M204.2 74.6h0M187.3 14.0h0M77.7 160.8h0M139.2 151.9h0M154.3 168.7h0M54.4 129.6h0M97.1 1.2h0M99.4 1.6h0M242.1 74.8h0M224.4 101.8h0M206.2 19.8h0M224.6 1.6h0M190.7 173.9h0M9.5 55.7h0M128.6 146.2h0M159.4 104.5h0M53.8 60.2h0M156.0 47.7h0M34.4 160.8h0M167.7 43.3h0M220.6 159.8h0M234.7 22.6h0M232.3 22.0h0M224.3 94.9h0M222.5 97.6h0M212.4 110.3h0M36.9 26.7h0M59.4 6.6h0M59.5 9.6h0M203.2 191.5h0M111.9 38.7h0M174.6 61.9h0M37.9 62.9h0M19.7 112.4h0M72.8 45.4h0M73.6 156.4h0M84.0 153.7h0M131.1 159.3h0M27.6 60.6h0M50.4 150.6h0M125.9 85.6h0M110.3 115.9h0M135.9 164.2h0M249.2 138.8h0M149.7 81.3h0M154.7 8.6h0M122.1 24.5h0M235.5 61.1h0M194.8 24.2h0M181.5 93.8h0M63.5 98.9h0M66.5 62.1h0M119.0 92.9h0M116.9 95.4h0M93.4 62.5h0M213.2 45.3h0M222.5 11.0h0M229.1 87.3h0M225.1 12.0h0M114.2 22.0h0M117.8 182.7h0M103.3 59.9h0M142.7 71.5h0M140.8 73.5h0M48.0 91.6h0" stroke="#ee10f4"/>
</g>
<rect x="6" y="165.2" width="8.4" height="10.8" fill="#ee10f4"/>
<text x="10.2" y="173.4" font-family="'Liberation Sans',sans-serif" font-size="7.5" fill="#400040" text-anchor="middle">C</text>
<g font-family="'Liberation Sans',sans-serif" font-weight="bold" fill="#eee" font-size="4.6">
<text x="4" y="187">1787</text>
<text x="4" y="192.5">MAG: 32x  HV: 7 kV  WD: 9.8 mm</text>
<text x="221.9" y="188.5" text-anchor="middle">800 µm</text>
</g>
<path d="M199.9 190.5H243.9" stroke="#ccc" stroke-width="0.7"/>
</svg>
<svg class="abs" style="left:260.5px;top:692.4px" width="216.8" height="194" viewBox="0 0 216.8 194">
<defs><filter id="dmb202" x="-1%" y="-1%" width="102%" height="102%"><feGaussianBlur stdDeviation="0.75"/></filter></defs>
<rect width="216.8" height="194" fill="#050005"/>
<g filter="url(#dmb202)" stroke-linecap="round" fill="none" stroke-width="2.25">
<path d="M116.5 150.3h0M174.9 71.3h0M160.2 112.3h0M149.3 126.1h0M147.0 24.4h0M70.6 134.7h0M128.0 104.9h0M144.3 34.0h0M141.9 32.6h0M27.8 149.3h0M14.2 176.8h0M181.4 14.1h0M151.1 55.2h0M34.1 141.4h0M36.2 143.4h0M130.4 36.9h0M132.7 36.6h0M6.3 118.0h0M102.4 119.7h0M40.1 139.5h0M20.2 114.5h0M140.2 67.6h0M149.3 75.4h0M141.8 137.9h0M212.2 18.8h0M152.7 186.9h0M133.4 30.4h0M120.7 6.1h0M132.8 114.6h0M132.1 112.2h0M82.4 150.7h0M13.1 96.7h0M214.3 144.5h0M208.4 94.2h0M209.2 150.0h0M205.4 157.0h0M70.0 22.9h0M123.5 53.4h0M10.9 132.8h0M8.9 130.7h0M201.0 182.1h0M198.7 10.3h0M26.8 9.0h0M37.2 134.1h0M135.3 52.5h0M1.5 89.6h0M204.2 11.2h0M111.9 137.9h0M184.8 110.3h0M187.2 110.4h0M150.8 168.7h0M208.9 90.2h0M40.7 91.3h0M109.4 27.2h0M59.0 165.0h0M89.0 23.1h0M90.3 52.5h0M136.3 97.1h0M128.7 31.9h0M183.1 35.0h0M216.6 101.4h0M1.3 75.7h0M4.5 76.4h0M199.4 180.0h0M117.2 4.3h0M115.7 1.5h0M15.0 173.0h0M39.9 57.3h0M132.2 20.8h0M126.5 46.5h0M0.7 40.3h0M153.9 115.1h0M156.5 25.9h0M179.4 134.3h0M154.4 46.9h0M96.5 31.8h0M111.1 38.2h0M136.4 84.0h0M136.3 81.6h0M69.2 72.7h0M4.9 101.7h0M62.6 107.8h0M59.5 107.3h0M71.3 164.6h0M207.7 171.8h0M189.9 189.8h0M4.5 176.0h0M76.4 52.9h0M80.7 48.1h0M129.8 152.2h0M183.9 1.0h0M201.5 58.1h0M193.5 54.1h0M156.0 17.1h0M149.6 68.9h0M168.3 178.0h0M51.1 184.5h0M23.2 157.5h0M116.9 30.6h0M123.8 86.1h0M156.0 133.4h0M180.2 93.3h0M131.1 81.3h0M91.9 31.7h0M130.8 40.6h0M105.6 66.1h0M125.0 188.1h0M166.9 160.2h0M101.7 36.4h0M211.0 116.2h0M213.6 115.1h0M148.0 70.7h0M210.2 114.3h0M36.1 90.6h0M133.9 115.2h0M143.2 121.5h0M133.6 142.7h0M6.0 100.8h0M181.3 111.5h0M96.6 63.2h0M98.3 60.7h0M95.8 24.5h0M70.0 175.9h0M112.3 157.8h0M120.2 28.1h0M70.6 85.4h0M191.1 186.1h0M45.6 166.2h0M46.9 164.3h0M206.1 131.0h0M199.3 138.6h0M128.2 127.3h0M190.3 86.5h0M76.8 117.9h0M193.8 55.7h0M5.7 148.1h0M57.7 103.2h0M151.1 194.0h0M81.5 107.5h0M110.2 168.8h0M149.2 109.3h0M175.4 138.3h0M86.3 45.0h0M87.0 47.9h0M172.0 25.8h0M66.5 132.6h0M27.6 45.4h0M170.5 111.4h0M131.7 56.7h0M148.7 34.5h0M28.2 152.1h0M30.5 150.2h0M166.0 79.8h0M35.2 129.4h0M206.5 -0.1h0M135.0 52.8h0M59.1 48.5h0M206.4 161.9h0M94.9 67.1h0M99.3 59.4h0M124.4 164.2h0M49.9 67.1h0M149.3 80.6h0M151.2 83.1h0M32.2 77.8h0M97.6 135.0h0M68.0 164.5h0M70.1 165.7h0M162.3 97.5h0M102.6 166.0h0M102.8 163.0h0M193.5 42.5h0M158.3 77.4h0M149.8 16.6h0M108.9 55.1h0M150.3 6.8h0M179.3 108.3h0M3.5 66.9h0M126.0 15.2h0M188.8 193.5h0M103.6 151.2h0M94.8 192.3h0M144.0 51.9h0M199.7 52.2h0M199.9 49.5h0M140.3 146.0h0M140.5 192.4h0M34.6 68.5h0M153.9 57.0h0M184.2 49.2h0M18.2 26.5h0M132.2 152.9h0M167.6 41.2h0M169.2 50.3h0M17.7 121.9h0M64.8 116.8h0M62.8 116.3h0M97.2 11.2h0M165.2 42.9h0M68.1 120.7h0M178.2 186.8h0M178.4 190.1h0M51.1 161.3h0M99.0 38.3h0M137.2 36.8h0M26.8 132.0h0M211.4 130.0h0M212.6 132.6h0M60.6 58.1h0M51.2 63.5h0M53.4 61.2h0M110.6 5.5h0M107.4 6.3h0M126.6 157.8h0M54.5 158.2h0M49.0 11.3h0M173.8 174.9h0M176.6 13.2h0M177.2 15.9h0M92.5 50.4h0M203.1 52.5h0M8.5 166.4h0M6.4 169.0h0M15.0 51.6h0M116.5 21.2h0M74.2 6.5h0M97.8 32.3h0M211.4 191.4h0M151.8 187.5h0M153.4 56.4h0M128.6 163.4h0M12.9 129.7h0M59.7 80.1h0M130.1 102.5h0M41.0 71.2h0M90.3 188.9h0M189.7 8.8h0M4.1 163.9h0M72.0 100.0h0M44.1 87.4h0M144.3 56.8h0M53.4 192.7h0M182.0 13.9h0M134.0 159.2h0M160.5 48.4h0M204.7 1.4h0M33.4 48.3h0M131.9 26.9h0M125.4 14.9h0M103.9 6.0h0M149.5 151.8h0M133.2 53.1h0M125.9 1.2h0M104.9 103.6h0M164.8 165.7h0M166.9 163.4h0M107.3 191.5h0M107.3 39.9h0M119.2 59.3h0M74.6 193.3h0M140.1 6.7h0M206.7 182.6h0M136.4 187.8h0M25.6 167.7h0M111.6 57.6h0M100.6 3.8h0M202.1 97.1h0M147.1 1.8h0M12.0 97.1h0M13.7 117.4h0M133.5 151.8h0M134.6 149.5h0M144.3 182.4h0M20.3 74.8h0M17.9 76.4h0M151.1 106.4h0M116.5 138.3h0M123.3 8.8h0M123.1 6.4h0M23.9 66.2h0M71.5 16.0h0M11.1 68.7h0M215.6 186.6h0M111.5 7.9h0M65.0 170.2h0M9.5 104.9h0M90.3 49.0h0M174.9 115.0h0M29.7 52.6h0M201.3 135.7h0M134.3 193.7h0M92.4 115.4h0M94.6 70.9h0M212.6 54.1h0M192.1 55.4h0M38.5 174.9h0M187.9 162.9h0M190.1 161.0h0M156.7 193.8h0M210.2 51.1h0M212.4 49.6h0M102.2 68.1h0M128.3 165.6h0M54.7 0.1h0M21.7 132.7h0M23.2 174.7h0M173.2 37.5h0M95.0 8.2h0M0.6 31.4h0M89.2 108.8h0M101.6 137.2h0M71.1 168.4h0M196.3 186.4h0M60.3 80.1h0M98.2 77.0h0M137.5 18.6h0M104.2 180.7h0M150.5 66.1h0M86.6 181.5h0M184.6 125.7h0M134.7 178.8h0M160.4 183.5h0M44.3 176.3h0M64.7 128.9h0M11.5 22.2h0M1.8 159.8h0M84.1 117.3h0M89.7 66.5h0M134.7 64.7h0M201.2 105.6h0M151.2 50.9h0M194.5 8.5h0M33.4 180.5h0M51.2 4.4h0M27.3 186.6h0M46.4 74.2h0M44.6 71.4h0M13.6 87.0h0M156.7 182.2h0M196.8 16.6h0M189.1 169.1h0M94.5 137.8h0M82.2 39.3h0M118.0 97.8h0M3.4 183.8h0M160.7 61.9h0M216.8 191.0h0M28.9 58.9h0M158.6 30.0h0M211.7 121.3h0M62.6 28.5h0M65.0 29.3h0M25.1 67.3h0M120.5 184.7h0M180.9 178.9h0M211.5 189.6h0M210.6 191.8h0M170.4 69.8h0M25.0 123.2h0M81.3 46.7h0M8.9 106.6h0M163.5 168.0h0M165.7 169.5h0M85.2 176.9h0M116.1 45.5h0M116.1 169.5h0M164.1 36.3h0M27.3 8.5h0M36.0 136.0h0M30.2 150.9h0M64.0 96.9h0M91.4 86.0h0M134.1 9.5h0M154.4 88.7h0M128.5 114.2h0M124.1 65.7h0M95.5 88.5h0M145.8 107.8h0M68.4 162.4h0M68.1 164.9h0M168.1 170.5h0M122.4 8.3h0M100.5 39.0h0M79.2 48.4h0M170.7 95.1h0M72.6 66.4h0M128.7 139.4h0M125.8 139.9h0M159.5 134.1h0M139.6 53.4h0M51.9 189.6h0M44.5 19.7h0M70.2 83.3h0M140.8 146.6h0M15.6 15.6h0M17.1 13.4h0M119.8 6.2h0M202.6 148.8h0M128.2 186.2h0M62.3 155.5h0M151.5 157.2h0M190.5 31.1h0M22.8 25.8h0M75.9 4.0h0M104.6 30.1h0M169.1 21.6h0M41.6 93.4h0M18.4 20.6h0M81.7 29.9h0M84.5 31.4h0M144.6 164.3h0M25.6 101.8h0M133.3 106.8h0M94.5 86.7h0M24.6 80.9h0M103.7 61.5h0M135.4 182.7h0M46.5 18.9h0M158.9 87.5h0M68.3 3.5h0M57.2 12.0h0M167.9 72.3h0M67.9 148.0h0M86.8 80.3h0M156.4 12.9h0M203.0 36.8h0M132.6 179.9h0M134.8 181.1h0M194.5 115.0h0M145.1 43.5h0M106.5 69.1h0M107.2 71.3h0M147.1 86.5h0M146.5 83.6h0M206.6 190.9h0M138.8 100.2h0M140.8 101.5h0M157.0 157.2h0M156.6 38.7h0M67.4 116.7h0M69.6 117.1h0M71.3 80.0h0M127.8 14.2h0M33.5 68.8h0M165.2 144.5h0M201.4 111.9h0M198.3 113.2h0M155.5 185.0h0M165.8 124.1h0M102.8 72.1h0M1.7 187.5h0M9.3 157.4h0M141.9 140.5h0M199.5 21.8h0M100.5 192.9h0M34.6 111.5h0M131.0 56.9h0M132.2 59.2h0M60.3 16.2h0M137.3 172.1h0M135.0 171.5h0M184.9 105.9h0M94.3 38.9h0M80.9 137.7h0M14.8 138.9h0M17.3 140.4h0M133.3 137.7h0M196.4 103.3h0M172.4 92.1h0M212.6 64.6h0M144.2 64.3h0M64.0 153.4h0M21.1 75.4h0M43.0 172.6h0M107.4 91.9h0M70.7 7.7h0M185.2 51.0h0M111.2 3.0h0M17.3 3.5h0M70.3 175.6h0M21.8 157.4h0M170.2 140.2h0M139.0 58.5h0M133.9 34.6h0M198.5 64.4h0M189.2 129.0h0M121.9 25.6h0M112.0 86.6h0M79.3 119.2h0M162.7 136.9h0M59.3 54.7h0M57.6 53.0h0M201.0 27.7h0M163.9 94.7h0M103.6 120.0h0M162.9 4.8h0M104.7 34.0h0M216.9 50.7h0M101.5 47.6h0M82.5 100.0h0M90.7 151.0h0M124.5 44.4h0M143.1 82.5h0M66.7 25.7h0M66.1 22.9h0M73.6 86.7h0M75.9 86.6h0M120.0 160.5h0M122.6 160.2h0M209.0 85.0h0M184.7 78.5h0M131.4 80.8h0M34.3 166.0h0M63.1 117.2h0M64.4 115.4h0M37.7 52.9h0M156.2 71.5h0M204.6 88.8h0M122.6 58.7h0M120.3 58.2h0M144.7 27.3h0M145.5 24.2h0M163.0 81.7h0M28.9 146.0h0M167.8 100.1h0M91.9 68.3h0M92.1 23.3h0M123.2 118.6h0M112.5 127.8h0M65.1 108.8h0M83.3 57.2h0M87.6 140.2h0M40.9 185.8h0M39.3 187.8h0M151.9 9.0h0M197.4 118.5h0M114.7 16.3h0M164.1 33.1h0M47.8 3.6h0M6.8 109.8h0M64.5 115.7h0M214.7 190.3h0M111.7 182.5h0M38.6 64.6h0M35.9 64.2h0M75.7 143.5h0M85.0 144.6h0M91.7 167.2h0M91.4 165.0h0M52.0 163.9h0M13.4 109.0h0M12.7 24.7h0M14.4 22.0h0M133.9 22.6h0M142.0 47.7h0M40.9 180.7h0M161.6 103.1h0M151.0 11.4h0M25.7 161.6h0M93.6 100.2h0M215.2 166.0h0M91.0 60.1h0M94.2 59.4h0M81.8 96.2h0M108.6 136.6h0M155.8 60.8h0M94.8 145.8h0M51.1 112.9h0M97.0 143.9h0M150.2 30.3h0M88.0 45.4h0M88.4 42.4h0M9.4 48.1h0M170.3 115.7h0M124.0 171.8h0M168.8 59.6h0M31.1 60.4h0M158.1 0.4h0M184.0 50.0h0M50.5 147.2h0M141.7 136.7h0M141.7 133.3h0M193.7 153.3h0M196.6 154.1h0M128.1 52.5h0M60.3 165.9h0M131.7 151.6h0M183.3 1.6h0M143.7 85.8h0M7.0 177.3h0M122.0 132.8h0M108.5 54.7h0M201.0 154.7h0M200.3 152.4h0M116.8 11.5h0M70.8 36.8h0M180.9 140.2h0M104.1 110.9h0M169.9 18.3h0M198.9 69.7h0M121.8 17.7h0M72.1 178.3h0M107.7 3.9h0M188.7 176.2h0M83.2 68.8h0M60.3 100.9h0M37.1 158.6h0M59.7 36.2h0M212.1 51.1h0M145.3 79.4h0M216.3 55.1h0M164.0 2.2h0M0.7 98.7h0M60.1 49.4h0M57.8 48.6h0M112.0 90.2h0M208.3 116.8h0M209.0 119.7h0M70.0 162.6h0M80.4 190.3h0M131.9 34.5h0M10.9 84.7h0M10.5 82.1h0M139.0 22.3h0M214.0 132.5h0M94.0 81.3h0M36.9 96.5h0M108.0 34.8h0M104.5 20.5h0M106.4 17.9h0M95.7 85.8h0M25.1 117.8h0M153.2 167.1h0M145.6 161.6h0M143.8 159.3h0M129.2 137.5h0M66.9 173.9h0M187.5 53.9h0M34.0 89.6h0M36.5 89.3h0M17.6 9.1h0M130.4 30.4h0M128.1 32.8h0M214.3 69.1h0M155.7 159.7h0M213.4 29.7h0M210.9 31.1h0M134.2 166.7h0M96.0 111.7h0M123.1 112.3h0M43.1 41.2h0M202.4 176.7h0M200.9 174.5h0M162.5 20.3h0M165.7 21.2h0M206.6 107.1h0M91.1 161.6h0M81.1 159.2h0M83.6 160.1h0M119.2 23.5h0M153.8 158.5h0M37.7 142.6h0M134.4 35.2h0M31.6 95.3h0M9.0 47.8h0M194.4 98.8h0M172.7 19.8h0M2.1 158.7h0M3.7 156.2h0M129.0 86.9h0M92.7 188.6h0M164.8 149.5h0M130.4 11.6h0M128.6 13.1h0M145.8 67.5h0M9.2 114.9h0M185.7 184.5h0M154.5 121.0h0M155.7 123.4h0M50.7 187.7h0M148.7 150.9h0M149.7 139.4h0M150.1 136.2h0M124.2 140.2h0M104.8 95.5h0M106.5 98.4h0M130.0 155.8h0M127.9 157.0h0M93.1 183.3h0M122.0 134.2h0M162.0 132.3h0M163.5 104.3h0M48.7 9.0h0M107.9 39.5h0M157.1 187.2h0M93.3 31.0h0M50.4 190.7h0M47.9 58.7h0M60.7 181.7h0M100.3 15.9h0M179.2 37.9h0M4.3 193.9h0M196.5 178.3h0M22.4 94.7h0M22.4 97.2h0M99.6 12.8h0M172.8 189.7h0M9.9 154.8h0M109.7 27.9h0M151.2 55.5h0M151.8 56.5h0M14.3 42.5h0M53.9 100.7h0M195.0 46.6h0M181.8 145.2h0M104.9 155.8h0M84.6 105.5h0M82.3 106.2h0M151.1 125.6h0M187.5 50.4h0M79.5 150.7h0M119.5 190.4h0M116.9 191.7h0M40.3 140.1h0M126.7 74.8h0M51.5 129.7h0M196.7 54.6h0M184.6 83.5h0M119.3 129.5h0M121.5 130.0h0M72.1 104.4h0M74.3 103.5h0M100.5 12.5h0M191.3 138.7h0M200.4 38.1h0M43.0 24.5h0M1.6 16.9h0M4.5 15.4h0M150.9 182.3h0M140.8 16.9h0M6.9 14.9h0M5.6 16.7h0M130.5 180.1h0M101.4 42.9h0M65.9 183.4h0M127.2 113.1h0M15.4 90.3h0M49.0 60.5h0M205.5 167.4h0M203.1 165.5h0M25.9 82.1h0M164.3 193.8h0M39.3 9.9h0M189.3 32.9h0M3.4 46.8h0M148.3 90.8h0M149.4 131.9h0M37.3 10.4h0M112.2 35.6h0M38.9 150.0h0M164.5 78.0h0M110.2 94.5h0M75.3 150.1h0M81.3 16.2h0M183.8 74.7h0M34.8 7.1h0M136.4 57.7h0M175.0 154.4h0M14.4 129.8h0M124.4 27.2h0M158.9 150.4h0M20.8 182.1h0M159.3 173.2h0M160.8 143.8h0M160.0 146.0h0M13.5 105.2h0" stroke="#a00a0a"/>
<path d="M150.4 98.7h0M122.3 94.6h0M123.4 97.3h0M137.7 58.3h0M148.2 123.0h0M176.1 56.0h0M30.5 194.0h0M29.5 196.9h0M87.9 27.1h0M85.5 25.9h0M131.1 64.5h0M1.0 184.1h0M150.9 73.3h0M150.7 75.5h0M3.6 29.4h0M64.7 94.0h0M79.3 185.6h0M13.8 174.5h0M153.4 56.7h0M140.6 1.2h0M137.1 48.4h0M3.8 118.4h0M187.5 80.8h0M22.0 112.0h0M48.7 132.5h0M47.8 135.2h0M86.3 139.3h0M87.9 136.8h0M161.6 117.9h0M22.0 187.9h0M142.5 140.4h0M215.5 30.8h0M167.2 138.5h0M195.0 9.4h0M143.7 41.9h0M140.5 41.6h0M94.1 142.3h0M85.6 151.6h0M166.4 74.1h0M163.7 73.1h0M15.6 97.6h0M209.5 152.7h0M61.5 91.8h0M55.2 90.8h0M8.0 59.3h0M29.7 45.2h0M201.4 178.9h0M65.8 11.9h0M197.2 8.2h0M169.4 65.0h0M76.1 117.7h0M154.9 59.0h0M154.0 61.7h0M88.6 149.3h0M29.1 121.3h0M90.2 78.7h0M205.3 8.6h0M202.9 173.0h0M115.1 137.6h0M212.5 132.2h0M215.1 187.3h0M191.3 183.1h0M56.4 75.7h0M153.1 168.2h0M209.6 87.6h0M79.0 86.7h0M36.1 127.6h0M33.9 129.1h0M56.3 164.3h0M128.1 29.3h0M125.9 51.1h0M70.3 179.3h0M139.4 20.4h0M196.3 179.6h0M138.0 2.4h0M136.2 -0.1h0M198.7 158.6h0M17.2 175.5h0M116.4 105.8h0M9.8 139.9h0M7.0 140.7h0M102.0 139.3h0M93.9 31.9h0M112.5 40.7h0M151.8 103.4h0M185.2 106.6h0M210.5 121.8h0M210.6 119.0h0M151.2 86.0h0M213.5 41.0h0M72.4 161.8h0M124.1 47.4h0M187.7 189.7h0M1.4 177.0h0M110.6 71.5h0M66.3 178.5h0M67.9 176.6h0M181.9 3.0h0M0.1 11.6h0M119.9 140.0h0M189.5 43.1h0M189.1 40.7h0M166.6 175.2h0M72.7 72.8h0M41.8 159.4h0M130.5 54.1h0M65.6 16.5h0M202.5 13.5h0M88.0 40.6h0M106.7 68.4h0M57.9 22.5h0M130.2 146.7h0M167.1 47.9h0M211.1 111.1h0M38.9 92.1h0M136.2 115.3h0M211.7 61.6h0M212.3 64.3h0M132.1 139.7h0M106.6 54.7h0M109.2 53.8h0M99.3 176.3h0M159.4 63.7h0M67.6 143.6h0M110.1 158.5h0M73.0 26.8h0M192.5 184.4h0M174.0 77.7h0M197.4 135.9h0M125.9 128.7h0M79.6 119.0h0M186.5 161.0h0M195.5 58.6h0M142.7 50.1h0M8.2 147.1h0M192.1 95.4h0M191.2 98.3h0M116.7 61.4h0M149.0 193.1h0M3.4 99.3h0M203.3 133.7h0M109.0 17.2h0M175.8 140.8h0M42.0 17.5h0M131.9 88.7h0M143.4 65.3h0M15.4 75.1h0M152.8 183.3h0M133.0 59.4h0M149.2 32.4h0M23.9 187.7h0M21.4 188.2h0M205.3 3.0h0M197.6 63.5h0M62.3 168.3h0M188.8 58.7h0M122.9 19.5h0M49.6 124.9h0M175.1 162.8h0M58.2 45.9h0M196.7 152.8h0M197.7 150.6h0M135.4 185.2h0M134.0 182.5h0M77.8 130.1h0M49.5 156.1h0M148.3 87.3h0M83.4 152.7h0M84.7 155.4h0M75.7 11.6h0M96.3 77.0h0M87.0 97.2h0M112.3 27.8h0M111.7 31.1h0M160.8 192.1h0M152.9 101.9h0M3.2 96.2h0M16.2 154.6h0M10.8 10.3h0M126.9 190.3h0M34.3 75.3h0M44.4 11.9h0M133.9 12.2h0M148.1 158.6h0M25.4 167.2h0M100.1 8.6h0M186.0 192.2h0M104.3 154.1h0M150.5 8.6h0M150.2 11.8h0M174.7 55.1h0M142.8 54.4h0M109.0 107.0h0M143.8 192.0h0M108.8 145.7h0M8.2 7.7h0M92.8 97.2h0M1.8 185.8h0M132.6 155.2h0M60.0 116.9h0M201.9 127.8h0M53.2 164.0h0M138.4 39.3h0M129.7 60.9h0M143.9 167.9h0M84.5 10.3h0M26.3 37.0h0M86.5 83.0h0M61.3 60.7h0M5.5 163.2h0M131.8 6.2h0M95.7 160.6h0M212.9 1.0h0M147.5 185.0h0M119.4 137.0h0M116.9 66.4h0M190.8 118.4h0M172.7 172.3h0M28.1 28.6h0M57.7 92.7h0M201.6 55.2h0M12.9 53.0h0M0.4 141.1h0M54.9 183.5h0M146.8 133.5h0M144.6 178.3h0M204.0 108.4h0M165.7 173.1h0M162.3 172.3h0M36.9 40.7h0M149.9 186.4h0M177.0 119.9h0M203.2 30.3h0M215.9 115.6h0M213.7 115.9h0M126.4 163.8h0M30.2 153.6h0M40.9 10.8h0M44.1 71.6h0M190.9 6.8h0M34.9 186.8h0M72.0 132.1h0M161.8 185.4h0M140.2 83.7h0M36.1 83.3h0M182.6 156.3h0M184.1 153.4h0M43.0 62.4h0M207.3 3.2h0M81.5 31.9h0M80.2 172.9h0M192.4 22.0h0M77.3 138.1h0M128.7 -0.6h0M0.9 73.7h0M3.1 76.1h0M152.8 26.7h0M155.0 24.5h0M163.7 45.2h0M109.3 37.9h0M164.3 56.0h0M161.9 56.5h0M98.9 5.6h0M54.4 84.7h0M18.8 106.0h0M21.0 106.7h0M208.8 100.6h0M171.2 100.5h0M179.4 110.4h0M116.2 149.1h0M94.0 168.0h0M94.4 170.8h0M154.0 105.4h0M150.8 72.2h0M115.3 140.9h0M82.1 50.5h0M83.9 51.8h0M192.6 154.0h0M192.9 157.1h0M29.2 124.9h0M82.4 46.4h0M58.1 114.3h0M9.5 66.8h0M114.7 136.1h0M37.1 74.9h0M174.5 189.4h0M65.6 167.1h0M54.5 87.8h0M15.3 69.1h0M114.8 85.7h0M192.9 100.2h0M150.1 168.3h0M170.0 42.4h0M168.4 39.7h0M205.0 111.2h0M203.9 108.8h0M150.3 62.8h0M91.3 117.5h0M191.4 149.2h0M192.0 57.9h0M175.2 177.2h0M35.8 174.0h0M158.3 192.1h0M9.7 102.6h0M7.0 103.2h0M132.4 95.1h0M24.9 144.4h0M126.7 167.3h0M19.1 130.6h0M30.8 55.7h0M94.1 67.1h0M140.2 144.0h0M159.6 56.3h0M23.3 13.4h0M99.4 137.3h0M23.1 167.3h0M137.7 42.3h0M204.4 128.2h0M91.1 4.6h0M155.5 169.0h0M73.4 170.0h0M198.6 187.3h0M58.3 77.9h0M130.7 21.8h0M210.9 52.4h0M103.8 67.5h0M165.2 34.6h0M175.9 183.4h0M131.2 29.3h0M102.4 182.6h0M16.3 62.6h0M148.7 80.1h0M204.6 188.2h0M184.2 128.4h0M96.5 25.1h0M71.3 5.2h0M66.2 127.0h0M200.6 144.3h0M202.4 147.0h0M215.3 84.8h0M0.1 47.6h0M-2.2 49.1h0M106.7 11.2h0M4.9 160.7h0M139.5 127.0h0M84.9 119.4h0M87.4 67.2h0M216.4 72.9h0M44.0 178.0h0M151.2 53.7h0M192.1 10.5h0M48.8 3.8h0M24.1 187.1h0M212.8 45.0h0M210.7 46.4h0M161.8 62.3h0M10.9 87.2h0M31.1 175.4h0M28.2 175.7h0M84.6 40.8h0M119.3 99.8h0M153.7 6.8h0M185.3 34.5h0M5.9 184.2h0M17.5 141.9h0M220.0 190.0h0M163.7 155.4h0M136.4 153.6h0M46.7 129.9h0M180.9 182.3h0M143.9 19.2h0M172.4 71.1h0M130.4 108.6h0M130.3 69.2h0M80.0 44.1h0M56.5 168.4h0M56.9 171.0h0M111.3 46.4h0M190.5 95.9h0M216.8 122.6h0M108.1 7.4h0M107.3 10.3h0M165.0 38.4h0M27.7 5.8h0M143.5 100.1h0M143.4 96.8h0M130.9 119.0h0M32.6 151.4h0M66.6 99.1h0M67.8 176.8h0M166.5 189.5h0M185.9 160.9h0M133.5 12.1h0M59.4 178.7h0M153.0 90.8h0M20.5 161.4h0M148.8 70.4h0M136.1 127.9h0M137.6 125.9h0M61.1 72.8h0M40.3 29.3h0M158.6 136.9h0M136.6 190.1h0M153.7 81.9h0M156.4 82.4h0M22.3 70.7h0M25.0 70.7h0M142.5 149.4h0M121.7 8.3h0M66.7 162.8h0M65.6 160.1h0M186.5 7.6h0M103.7 80.5h0M205.9 149.1h0M157.7 129.9h0M152.3 154.8h0M192.0 29.0h0M105.6 27.6h0M210.1 112.7h0M147.3 163.0h0M8.5 135.9h0M25.7 105.1h0M130.0 107.5h0M184.3 8.2h0M114.9 81.0h0M138.3 182.5h0M11.5 21.1h0M158.1 84.6h0M194.2 113.3h0M207.7 124.8h0M168.0 74.6h0M68.0 144.9h0M83.9 102.9h0M127.4 172.4h0M126.0 175.1h0M70.1 172.5h0M158.4 15.0h0M107.8 115.7h0M59.2 154.6h0M97.4 52.5h0M96.7 64.7h0M138.4 37.8h0M140.3 39.1h0M88.5 57.0h0M166.0 11.6h0M185.6 97.9h0M36.4 152.9h0M45.7 1.9h0M213.3 184.8h0M81.0 156.7h0M3.8 188.5h0M110.1 48.5h0M51.6 107.6h0M134.6 163.1h0M163.0 122.0h0M160.9 122.9h0M23.8 29.1h0M198.3 187.1h0M206.6 40.4h0M48.4 8.5h0M3.2 60.0h0M111.2 170.8h0M154.3 182.5h0M73.7 186.3h0M71.4 184.7h0M2.7 78.4h0M118.1 102.2h0M109.2 66.2h0M109.5 63.2h0M212.8 80.5h0M211.1 73.8h0M33.9 19.7h0M91.7 10.9h0M144.5 39.5h0M198.6 110.5h0M180.4 178.9h0M62.3 180.8h0M62.6 177.7h0M36.0 185.6h0M37.0 109.6h0M96.6 183.6h0M61.4 13.7h0M96.9 40.0h0M153.9 115.9h0M154.9 118.4h0M181.5 178.6h0M178.8 179.8h0M198.9 103.1h0M172.8 89.4h0M165.6 168.4h0M168.1 168.4h0M14.3 43.5h0M203.9 179.7h0M102.2 36.3h0M62.0 150.8h0M180.5 77.1h0M40.4 173.0h0M16.6 179.7h0M71.6 99.6h0M103.5 95.2h0M112.2 14.3h0M176.9 110.4h0M105.3 94.5h0M2.7 155.3h0M0.4 157.4h0M96.6 39.6h0M182.3 49.7h0M115.3 60.4h0M136.1 168.6h0M138.4 178.6h0M138.3 176.3h0M119.0 56.8h0M14.4 169.8h0M196.9 100.3h0M65.1 99.0h0M175.2 42.9h0M169.3 142.6h0M12.0 5.9h0M142.5 44.0h0M132.3 2.8h0M50.7 37.6h0M186.3 71.5h0M161.7 134.3h0M92.3 42.5h0M92.6 45.1h0M102.1 117.7h0M216.1 52.9h0M121.5 46.0h0M79.8 89.3h0M135.8 13.5h0M16.9 29.0h0M15.1 30.8h0M137.4 1.9h0M188.4 4.1h0M162.0 84.1h0M169.2 98.1h0M177.2 163.7h0M176.5 166.8h0M178.5 37.0h0M176.2 35.3h0M118.4 50.3h0M111.1 124.7h0M143.3 5.7h0M19.2 4.6h0M109.3 19.8h0M189.2 48.5h0M188.8 51.2h0M111.2 163.1h0M152.6 6.1h0M112.7 14.5h0M98.2 182.9h0M42.4 181.2h0M40.3 126.8h0M6.1 106.7h0M6.7 45.6h0M3.8 45.8h0M22.2 175.1h0M138.2 61.3h0M196.2 126.6h0M186.1 18.6h0M197.2 23.4h0M50.6 161.8h0M86.2 89.1h0M40.7 178.0h0M164.3 101.4h0M151.7 14.6h0M94.0 103.1h0M1.8 111.1h0M212.2 164.9h0M171.6 21.9h0M83.8 98.1h0M107.0 138.6h0M192.0 124.7h0M130.4 71.9h0M181.7 108.4h0M179.0 110.1h0M39.4 193.7h0M25.1 20.6h0M27.7 22.2h0M194.2 49.5h0M194.9 46.9h0M197.3 158.0h0M71.2 32.0h0M121.1 15.1h0M71.7 188.3h0M84.3 163.8h0M146.5 103.7h0M38.8 88.1h0M126.7 171.3h0M172.4 140.1h0M117.1 6.4h0M184.4 47.3h0M66.0 53.4h0M181.7 -0.5h0M141.0 87.7h0M120.3 135.3h0M42.3 57.1h0M194.1 26.0h0M192.9 28.2h0M105.9 46.3h0M114.4 10.9h0M5.0 17.6h0M88.1 52.6h0M197.9 28.0h0M166.7 76.2h0M166.9 73.2h0M168.9 108.3h0M77.5 90.3h0M74.2 91.0h0M8.9 56.3h0M57.7 96.2h0M119.3 18.6h0M91.7 50.1h0M69.5 176.6h0M179.6 170.3h0M181.1 171.9h0M179.6 106.4h0M140.1 72.5h0M140.4 29.3h0M83.6 50.9h0M161.1 145.2h0M195.6 150.2h0M197.7 148.9h0M89.2 31.4h0M216.5 31.4h0M58.0 38.7h0M204.7 15.8h0M204.9 6.2h0M171.2 41.5h0M83.0 49.3h0M216.4 106.1h0M14.4 45.0h0M17.0 46.2h0M54.8 159.6h0M58.5 146.7h0M216.4 170.4h0M75.7 60.1h0M74.2 58.3h0M194.5 192.4h0M140.6 168.7h0M5.1 45.1h0M1.2 37.0h0M169.2 167.8h0M213.5 134.7h0M213.4 75.9h0M166.7 191.7h0M72.4 71.8h0M114.4 37.5h0M26.8 120.4h0M6.1 156.3h0M131.3 139.2h0M168.4 86.9h0M171.0 86.0h0M138.0 180.2h0M137.0 177.3h0M154.8 161.7h0M180.1 51.8h0M120.0 113.3h0M43.4 38.5h0M87.3 137.7h0M82.5 127.2h0M151.2 157.0h0M138.8 92.0h0M34.5 95.4h0M91.9 87.9h0M156.5 57.7h0M66.0 20.5h0M174.4 42.4h0M50.3 32.7h0M146.9 172.2h0M147.8 174.6h0M172.8 16.4h0M131.9 85.3h0M85.0 87.4h0M82.1 86.0h0M11.1 37.7h0M49.1 189.3h0M5.1 54.8h0M92.8 191.0h0M120.7 189.1h0M190.0 27.8h0M4.3 98.6h0M121.0 47.6h0M7.4 113.5h0M138.4 2.7h0M9.5 164.2h0M202.0 90.3h0M204.5 91.0h0M134.3 30.0h0M133.7 32.2h0M3.7 85.7h0M141.9 13.8h0M144.0 12.0h0M38.1 37.6h0M167.6 65.1h0M133.7 53.5h0M167.3 1.8h0M177.0 25.9h0M113.9 111.7h0M184.3 56.5h0M48.1 6.4h0M88.2 193.8h0M90.2 192.9h0M51.1 187.4h0M44.8 59.8h0M137.9 116.6h0M136.0 114.0h0M28.3 12.2h0M28.9 188.2h0M167.0 58.8h0M51.7 170.1h0M183.6 81.9h0M105.7 78.5h0M12.2 78.1h0M158.0 25.9h0M174.8 190.8h0M153.7 180.2h0M151.6 179.4h0M131.9 186.8h0M130.9 188.8h0M22.4 23.1h0M190.1 24.5h0M10.4 36.2h0M108.6 30.0h0M150.5 53.2h0M103.3 30.8h0M134.4 162.0h0M103.1 154.2h0M81.8 148.6h0M203.7 9.3h0M71.5 130.4h0M187.6 85.1h0M188.7 138.5h0M198.3 39.9h0M163.9 0.3h0M166.0 2.0h0M41.3 26.1h0M69.8 2.8h0M34.0 56.1h0M36.2 57.4h0M34.7 177.7h0M37.2 176.5h0M9.7 33.6h0M7.4 32.1h0M90.0 176.8h0M47.7 58.7h0M60.2 143.2h0M23.4 84.2h0M166.5 195.1h0M36.7 9.4h0M208.2 90.3h0M21.4 190.8h0M132.0 52.0h0M129.9 51.1h0M42.1 74.2h0M5.3 0.9h0M74.6 119.6h0M145.4 91.4h0M147.9 129.5h0M39.1 8.0h0M111.1 38.2h0M132.3 22.6h0M99.7 102.2h0M101.2 99.5h0M47.6 27.7h0M190.0 117.4h0M11.9 116.4h0M9.9 106.5h0M61.0 165.6h0M58.0 166.0h0M45.7 55.5h0M137.3 55.4h0M160.9 138.7h0M160.4 141.3h0" stroke="#e81212"/>
</g>
<rect x="4.9" y="164.6" width="11" height="10.3" fill="#e81212"/>
<text x="10.4" y="172.3" font-family="'Liberation Sans',sans-serif" font-size="7.5" fill="#400000" text-anchor="middle">Zn</text>
<g font-family="'Liberation Sans',sans-serif" font-weight="bold" fill="#eee" font-size="4.6">
<text x="4" y="186">1787</text>
<text x="4" y="191.5">MAG: 32x  HV: 7 kV  WD: 9.8 mm</text>
<text x="188.8" y="187.5" text-anchor="middle">800 µm</text>
</g>
<path d="M166.8 189.5H210.8" stroke="#ccc" stroke-width="0.7"/>
</svg>
<svg class="abs" style="left:478px;top:692.6px" width="222.5" height="193.4" viewBox="0 0 222.5 193.4">
<defs><filter id="dmb303" x="-1%" y="-1%" width="102%" height="102%"><feGaussianBlur stdDeviation="0.75"/></filter></defs>
<rect width="222.5" height="193.4" fill="#050005"/>
<g filter="url(#dmb303)" stroke-linecap="round" fill="none" stroke-width="2.4">
<path d="M180.8 49.5h0M204.7 5.1h0M18.3 49.6h0M15.7 51.7h0M200.8 166.1h0M15.8 9.2h0M103.5 98.2h0M6.7 129.0h0M75.9 14.3h0M77.0 12.0h0M60.1 120.8h0M128.0 7.0h0M28.6 126.7h0M199.7 17.4h0M209.4 178.6h0M167.7 78.5h0M57.7 174.8h0M55.8 15.4h0M132.9 40.5h0M131.1 42.9h0M4.4 72.7h0M67.1 72.6h0M139.6 94.9h0M14.8 70.2h0M55.0 147.9h0M66.0 177.8h0M21.4 90.0h0M199.4 129.0h0M16.4 55.9h0M139.9 156.4h0M152.3 52.6h0M74.8 92.9h0M94.0 73.1h0M220.9 46.3h0M222.4 48.5h0M151.0 31.1h0M152.8 32.8h0M67.7 81.9h0M146.4 177.9h0M145.2 175.0h0M34.5 54.6h0M84.3 173.5h0M22.5 188.0h0M68.1 49.5h0M8.2 24.6h0M11.0 161.2h0M58.1 114.8h0M136.8 143.8h0M11.6 8.3h0M86.6 134.1h0M83.8 134.6h0M58.1 88.8h0M218.1 41.1h0M82.0 17.9h0M44.7 171.6h0M177.6 62.1h0M217.6 80.8h0M104.0 48.5h0M115.4 100.4h0M78.2 44.8h0M102.5 127.4h0M56.9 60.8h0M145.7 117.7h0M88.3 113.9h0M192.5 20.9h0M71.6 131.5h0M70.3 134.6h0M127.0 9.7h0M123.8 9.3h0M42.6 51.5h0M149.9 191.3h0M163.3 99.4h0M100.1 81.0h0M92.8 67.7h0M54.3 130.7h0M56.6 128.2h0M218.6 8.4h0M30.4 21.5h0M184.5 151.6h0M47.4 43.1h0M160.6 71.7h0M159.0 141.9h0M6.5 94.0h0M6.8 96.4h0M190.2 159.0h0M156.9 166.8h0M46.7 76.7h0M7.1 23.3h0M64.5 91.6h0M88.8 71.7h0M147.1 140.3h0M-1.1 96.9h0M181.7 108.8h0M181.8 112.0h0M29.7 89.7h0M115.2 150.4h0M96.7 91.8h0M208.1 120.7h0M218.3 157.9h0M101.5 179.2h0M160.0 10.5h0M2.6 89.3h0M93.5 173.8h0M45.4 91.9h0M66.5 89.7h0M78.9 85.9h0M200.5 7.3h0M199.1 5.0h0M110.7 58.1h0M4.4 82.4h0M27.7 104.9h0M41.3 84.2h0M43.2 81.9h0M178.0 13.0h0M153.6 161.1h0M176.1 134.9h0M30.7 115.0h0M58.0 167.4h0M168.0 24.1h0M87.8 63.0h0M66.9 136.4h0M138.5 125.0h0M81.9 67.6h0M215.6 93.1h0M187.5 57.7h0M36.5 138.7h0M41.9 137.5h0M149.6 24.0h0M30.0 79.9h0M157.9 25.3h0M187.9 4.9h0M100.0 72.9h0M32.1 141.4h0M68.9 148.2h0M40.1 44.2h0M56.0 113.9h0M133.5 17.5h0M95.1 141.3h0M146.4 84.0h0M84.9 151.8h0M105.5 139.2h0M16.4 40.9h0M102.4 141.9h0M28.1 43.7h0M75.8 55.1h0M1.9 61.9h0M166.0 101.9h0M164.3 99.6h0M44.8 82.2h0M43.6 94.1h0M17.6 125.8h0M83.1 156.1h0M185.9 164.8h0M213.3 148.8h0M215.0 150.7h0M149.6 79.3h0M148.8 76.9h0M96.1 35.6h0M158.9 85.4h0M162.1 86.1h0M115.9 56.1h0M3.6 63.0h0M159.9 187.3h0M6.4 152.1h0M32.7 29.8h0M11.2 0.6h0M131.1 116.8h0M168.7 10.6h0M203.7 0.3h0M214.7 63.1h0M83.8 27.7h0M86.3 26.1h0M14.6 16.1h0M209.6 57.0h0M150.2 45.4h0M35.4 1.1h0M67.2 109.3h0M156.8 161.0h0M144.7 187.8h0M147.3 170.0h0M53.8 178.1h0M65.8 54.0h0M89.7 102.3h0M65.6 51.9h0M20.4 57.5h0M123.0 175.2h0M28.7 129.2h0M27.2 132.0h0M153.5 46.5h0M155.3 45.0h0M8.3 84.6h0M57.0 116.0h0M75.3 129.3h0M193.6 148.7h0M146.3 28.6h0M137.3 134.4h0M139.5 134.4h0M122.2 20.2h0M160.6 135.9h0M160.9 132.5h0M29.6 52.9h0M126.4 108.0h0M57.3 104.3h0M94.5 36.2h0M96.8 15.6h0M2.9 136.5h0M46.8 72.4h0M90.7 191.9h0M73.7 142.4h0M68.2 23.6h0M35.0 40.5h0M86.1 150.1h0M220.3 73.7h0M59.2 55.9h0M99.1 29.2h0M12.2 166.9h0M141.2 89.8h0M156.9 86.7h0M11.5 8.8h0M81.1 60.7h0M49.8 22.0h0M170.0 69.3h0M57.6 130.4h0M191.6 104.6h0M59.3 175.8h0M167.2 41.2h0M181.7 60.2h0M217.3 8.9h0M106.5 107.4h0M98.6 142.1h0M36.8 129.0h0M1.4 50.9h0M47.2 92.1h0M134.5 100.0h0M57.0 96.8h0M59.9 97.5h0M83.9 108.1h0M60.5 172.3h0M23.2 78.3h0M5.7 58.2h0M154.7 41.2h0M168.5 29.1h0M109.7 37.1h0M109.6 33.8h0M90.4 68.4h0M11.1 191.1h0M83.0 135.0h0M115.2 12.2h0M39.6 107.9h0M26.5 30.1h0M57.8 89.4h0M48.3 7.7h0M161.3 100.6h0M69.5 145.4h0M158.9 116.9h0M176.6 27.5h0M101.1 23.9h0M104.0 89.3h0M45.9 125.1h0M215.8 122.3h0M41.3 128.8h0M74.8 93.5h0M98.4 91.9h0M150.2 21.8h0M123.0 66.5h0M209.4 2.5h0M185.1 160.8h0M187.1 159.7h0M186.2 178.3h0M59.2 29.5h0M162.2 72.6h0M3.5 70.2h0M190.5 65.5h0M35.3 48.5h0M212.8 111.4h0M138.9 8.7h0M139.4 11.1h0M190.8 128.6h0M31.4 55.0h0M74.1 46.4h0M104.2 108.9h0M33.8 82.0h0M208.9 133.3h0M211.1 135.0h0M207.8 24.4h0M203.7 21.1h0M82.5 112.4h0M216.2 15.4h0M15.1 16.5h0M134.0 127.4h0M83.5 172.4h0M91.8 164.0h0M50.7 126.4h0M1.0 65.9h0M88.2 33.1h0M26.7 140.0h0M74.4 93.9h0M75.4 96.6h0M79.9 59.1h0M47.3 6.8h0M173.4 123.0h0M182.5 146.3h0M2.9 10.1h0M79.1 24.7h0M77.7 24.2h0M176.1 92.8h0M70.2 135.0h0M68.4 132.2h0M105.0 166.2h0M25.7 3.6h0M63.8 54.8h0M192.6 173.7h0M70.4 21.5h0M70.6 23.9h0M193.4 9.3h0M51.3 66.3h0M62.5 58.3h0M90.8 143.8h0M178.3 95.7h0M60.4 31.9h0M32.9 120.7h0M30.8 118.4h0M62.1 78.4h0M42.4 38.8h0M179.2 100.7h0M141.9 71.9h0M144.7 71.9h0M175.6 62.0h0M94.0 97.6h0M151.7 109.0h0M21.5 84.1h0M167.2 86.8h0M135.3 182.4h0M215.2 124.3h0M219.5 3.5h0M197.0 12.7h0M198.4 10.2h0M44.8 128.5h0M46.2 125.8h0M34.2 46.1h0M28.0 89.6h0M28.8 92.0h0M58.0 77.1h0M177.8 1.7h0M174.8 2.0h0M93.3 121.8h0M155.6 113.0h0M66.5 102.4h0M103.9 182.7h0M221.4 77.0h0M221.9 79.1h0M165.3 91.9h0M101.5 183.3h0M105.6 148.8h0M193.6 51.3h0M141.4 15.2h0M217.4 70.9h0M62.5 45.2h0M42.6 172.1h0M109.6 178.9h0M140.6 162.8h0M123.2 81.3h0M156.7 138.7h0M4.7 132.6h0M26.1 110.1h0M97.7 156.4h0M118.4 32.9h0M181.6 77.5h0M180.2 157.1h0M31.7 84.7h0M60.1 38.2h0M34.5 122.6h0M148.7 157.1h0M209.5 157.1h0M0.1 26.5h0M174.8 59.6h0M194.1 182.8h0M191.7 184.1h0M85.8 138.1h0M54.9 45.8h0M73.9 43.1h0M194.2 2.1h0M27.8 7.2h0M71.3 105.1h0M34.8 143.9h0M125.4 166.7h0M169.0 185.2h0M45.7 21.4h0M57.9 113.7h0M173.4 1.8h0M36.3 183.0h0M60.9 5.3h0M185.0 169.2h0M173.1 93.7h0M100.5 169.3h0M104.4 44.6h0M199.9 12.8h0M157.1 136.2h0M63.7 25.8h0M161.7 39.4h0M159.2 41.3h0M5.1 107.3h0M52.3 117.7h0M54.9 118.1h0M8.6 38.8h0M10.5 37.6h0M15.8 2.5h0M44.3 140.4h0M103.9 72.4h0M163.7 7.8h0M175.1 18.8h0M41.7 64.0h0M84.2 71.0h0M149.7 81.8h0M166.0 60.3h0M168.3 58.9h0M202.7 116.9h0M195.4 12.3h0M172.1 121.1h0M173.6 122.8h0M42.4 16.4h0M183.6 133.6h0M17.0 55.8h0M26.7 110.7h0M34.8 3.3h0M76.1 100.2h0M181.8 171.1h0M169.6 137.1h0M0.5 56.6h0M149.4 14.5h0M70.0 42.9h0M69.7 39.7h0M2.6 172.8h0M84.4 90.0h0M161.3 100.0h0M72.3 139.8h0M152.8 135.2h0M152.7 138.3h0M198.8 85.5h0M103.6 21.8h0M22.7 23.3h0M3.2 113.0h0M176.4 100.3h0M107.6 64.6h0M153.0 118.2h0M119.1 25.8h0M116.3 122.9h0M119.4 123.5h0M129.4 134.9h0M129.5 139.9h0M202.7 113.9h0M194.8 149.5h0M7.1 26.2h0M83.6 8.6h0M191.0 88.4h0M2.3 34.4h0M148.2 130.7h0M190.3 164.9h0M178.3 192.3h0M189.6 111.7h0M2.4 90.1h0M103.2 192.4h0M92.2 146.2h0M92.0 97.8h0M116.3 44.5h0M148.4 107.8h0M22.3 24.3h0M77.0 135.5h0M76.7 133.2h0M107.9 80.5h0M58.5 115.6h0M56.2 114.7h0M185.6 126.5h0M90.0 58.5h0M135.7 26.2h0M141.8 121.8h0M187.7 4.6h0M95.4 12.8h0M203.8 166.8h0M57.3 30.6h0M148.1 42.0h0M152.1 64.1h0M200.2 126.0h0M43.0 15.4h0M36.2 131.2h0M35.4 128.7h0M43.8 105.0h0M169.9 27.0h0M43.6 85.8h0M75.1 14.1h0M131.1 47.1h0M92.8 77.9h0M152.2 99.7h0M74.8 114.8h0M92.7 189.4h0M81.8 46.1h0M120.5 159.7h0M122.6 160.6h0M166.6 95.8h0M16.1 4.9h0M170.1 162.8h0M133.7 48.2h0M197.5 36.3h0M168.6 14.8h0M55.4 55.0h0M197.8 186.7h0M2.9 35.3h0M186.1 152.4h0M114.0 175.7h0M72.4 46.2h0M192.2 11.7h0M191.9 14.9h0M195.6 97.0h0M195.7 94.6h0M170.1 26.7h0M96.1 173.3h0M205.7 159.8h0M120.1 96.5h0M71.1 43.2h0M30.3 179.3h0M32.0 181.4h0M155.8 161.9h0M101.4 156.0h0M94.3 70.7h0M153.0 69.7h0M82.4 41.0h0M17.2 76.1h0M16.1 78.7h0M14.4 10.1h0M62.9 58.1h0M211.7 173.2h0M147.2 180.0h0M17.5 185.4h0M46.9 73.6h0M30.1 140.4h0M4.6 14.6h0M84.4 32.3h0M210.2 36.5h0M211.2 34.4h0M154.7 71.4h0M152.0 70.8h0M99.7 31.8h0M174.5 105.6h0M5.3 44.0h0M6.6 40.9h0M51.3 155.7h0M172.2 40.2h0M174.8 41.7h0M82.8 65.7h0M27.6 47.5h0M51.9 15.0h0M2.2 65.3h0M72.7 23.5h0M93.9 41.8h0M175.6 15.7h0M37.9 122.9h0M66.6 166.5h0M43.3 148.8h0M26.5 91.7h0M24.2 91.2h0M78.3 59.0h0M117.5 142.5h0M110.3 67.5h0M209.5 74.1h0M72.3 53.4h0M138.5 183.9h0M3.5 133.1h0M180.4 3.1h0M45.5 35.6h0M47.8 35.2h0M191.1 1.2h0M191.8 3.4h0M113.0 143.7h0M59.5 56.3h0M73.8 42.4h0M54.3 111.8h0M13.5 18.5h0M13.4 20.9h0M68.2 176.2h0M87.3 51.3h0M107.0 25.3h0M123.8 72.4h0M17.2 176.3h0M62.7 102.7h0M159.0 68.3h0M160.3 65.2h0M193.2 185.9h0M84.2 73.2h0M83.0 139.4h0M76.9 57.4h0M78.2 55.0h0M111.7 24.0h0M97.9 10.0h0M100.2 7.6h0M152.7 172.2h0M51.9 127.0h0M5.7 9.6h0M92.6 122.6h0M42.9 80.1h0M182.7 191.6h0M54.9 136.5h0M210.8 76.3h0M201.0 16.7h0M222.2 31.3h0M222.2 28.9h0M155.8 92.3h0M205.6 72.6h0M131.0 182.4h0M61.7 106.4h0M208.4 172.6h0M39.5 80.5h0M200.1 68.8h0M162.2 77.1h0M164.4 78.1h0M159.5 153.9h0M80.2 138.4h0M122.3 4.2h0M38.6 26.1h0M37.5 28.4h0M73.8 1.4h0M61.2 192.6h0M216.4 163.5h0M69.4 121.9h0M128.7 92.6h0M132.0 93.4h0M210.9 43.2h0M178.6 133.7h0M84.1 31.7h0M173.0 33.0h0M162.5 43.5h0M94.7 181.4h0M56.8 166.6h0M111.6 113.6h0M201.2 51.6h0M150.8 52.1h0M66.8 176.5h0M219.8 119.1h0M93.0 128.7h0M55.7 154.0h0M61.7 113.3h0M204.1 155.7h0M39.9 42.1h0M187.8 132.1h0M39.9 54.9h0M85.7 59.4h0M30.1 110.9h0M193.6 138.9h0M0.2 20.1h0M0.9 17.4h0M24.5 127.5h0M215.3 27.4h0M179.5 47.1h0M216.5 52.4h0M215.6 49.6h0M179.2 19.5h0M131.8 77.2h0M108.7 112.9h0M107.9 115.2h0M138.7 151.8h0M100.7 126.5h0M102.4 74.2h0M130.2 54.0h0M198.2 117.6h0M96.8 100.5h0M104.3 163.4h0M107.3 162.5h0M84.7 20.6h0M80.0 161.1h0M89.4 150.2h0M38.1 175.5h0M146.7 180.7h0M80.4 117.9h0M78.0 119.1h0M48.0 40.8h0M50.1 41.6h0M54.7 97.3h0M100.9 105.0h0M19.1 105.2h0M17.5 0.8h0M67.2 53.5h0M45.9 90.3h0M135.6 62.4h0M139.0 34.7h0M202.9 153.7h0M72.2 170.7h0M197.5 16.8h0M92.7 55.7h0M98.3 13.1h0M68.9 14.1h0M58.5 109.7h0M184.1 123.2h0M204.6 73.4h0M203.4 70.9h0M157.8 166.8h0M101.7 41.3h0M166.7 139.5h0M68.9 53.1h0M152.3 151.6h0M45.2 77.8h0M203.2 104.6h0M109.9 163.6h0M174.6 7.6h0M177.0 5.3h0M179.0 160.7h0M27.3 180.4h0M92.5 155.0h0M199.0 89.6h0M174.2 37.5h0M85.4 1.3h0M188.7 173.2h0M39.8 152.5h0M165.3 50.3h0M92.1 66.0h0M72.3 67.4h0M182.3 111.4h0M71.7 22.5h0M74.1 24.7h0M165.5 94.1h0M27.2 54.0h0M132.1 152.3h0M130.6 154.0h0M126.8 71.3h0M197.4 159.8h0M120.5 15.7h0M221.7 24.8h0M70.0 86.9h0M9.4 113.9h0M111.6 38.5h0M110.7 79.7h0M191.5 28.4h0M17.6 69.1h0M71.5 119.4h0M64.2 25.9h0M27.6 181.7h0M125.1 190.9h0M168.7 40.1h0M40.8 182.4h0M188.4 181.3h0M19.1 45.2h0M218.6 43.5h0M37.1 103.8h0M91.6 161.2h0M92.5 158.1h0M12.4 14.8h0M71.6 22.0h0M134.3 188.0h0M73.0 21.0h0M220.2 139.9h0M160.5 88.8h0M98.3 148.3h0M95.8 15.8h0M85.8 24.6h0M44.8 111.3h0M42.6 110.7h0M95.5 11.3h0M142.3 159.2h0M114.3 38.4h0M115.9 41.1h0M37.5 69.1h0M40.7 68.0h0M29.3 60.9h0M91.9 29.8h0M22.3 28.7h0M204.6 148.7h0M163.0 103.7h0M163.4 106.9h0M137.0 150.2h0M207.4 20.2h0M2.4 97.1h0M4.9 97.3h0M196.1 144.4h0M16.3 4.0h0M14.0 6.1h0M33.1 111.9h0M156.6 155.1h0M106.5 39.4h0M33.7 142.9h0M218.2 184.1h0M18.9 110.2h0M20.5 108.1h0M77.4 39.9h0M23.0 122.2h0M187.9 121.2h0M100.8 47.7h0M23.9 66.1h0M157.9 165.5h0M178.4 8.2h0M180.9 8.1h0M92.9 171.3h0M47.4 45.4h0M146.7 46.9h0M148.0 49.5h0M183.4 63.6h0M51.9 184.0h0M205.7 112.2h0M26.2 84.1h0M161.5 123.1h0M18.9 82.8h0M24.4 175.2h0M75.8 111.0h0M177.3 106.2h0M163.7 115.5h0M142.7 69.3h0M221.1 127.1h0M59.0 121.1h0M25.3 179.7h0M134.8 73.3h0M1.8 165.6h0M133.1 151.8h0M185.2 56.8h0M164.0 116.7h0M75.3 154.6h0M3.4 78.3h0M0.5 76.9h0M103.8 113.0h0M101.8 111.6h0M98.9 124.1h0M22.4 51.4h0M134.4 170.6h0M189.2 44.8h0M164.4 29.1h0M161.9 31.4h0M62.4 118.0h0M59.8 118.2h0M205.0 2.5h0M160.7 113.8h0M54.4 127.2h0M12.1 102.4h0M1.8 8.2h0M3.6 11.1h0M217.9 185.5h0M184.6 108.8h0M97.8 38.0h0M125.7 45.2h0M76.3 16.6h0M106.7 33.6h0M72.7 122.3h0M72.3 119.1h0M91.5 90.0h0M34.3 23.7h0M117.6 67.7h0M58.5 153.6h0M178.5 116.6h0M159.9 168.5h0M158.1 166.4h0M147.9 99.1h0M175.6 12.9h0M176.3 10.3h0M165.6 7.3h0M36.7 141.3h0M140.8 27.1h0M96.6 39.7h0M90.5 42.5h0M90.1 40.1h0M52.3 190.6h0M49.7 191.1h0M51.0 132.6h0M43.5 54.2h0M73.8 168.9h0M49.9 74.4h0M222.4 103.8h0M36.0 10.7h0M198.6 175.6h0M147.1 164.0h0M99.1 54.3h0M98.9 57.5h0M61.1 6.1h0M51.1 185.2h0M69.9 114.6h0M166.0 104.7h0M114.6 35.9h0M53.1 115.4h0M33.3 143.0h0M34.8 145.9h0M160.4 50.8h0M157.7 52.3h0M13.5 1.4h0M73.1 26.9h0M73.4 178.1h0M73.6 180.8h0M103.1 183.4h0M34.1 133.1h0M20.5 171.0h0M64.6 141.4h0M54.3 139.9h0M55.3 136.7h0M190.0 8.9h0M62.1 186.5h0M57.9 50.1h0M197.4 24.6h0M69.6 134.3h0M220.5 41.0h0M118.0 128.4h0M120.0 129.3h0M51.6 150.3h0M208.4 139.7h0M93.0 86.6h0M4.2 167.2h0M98.7 155.1h0M219.7 113.8h0M5.3 182.4h0M179.6 132.9h0M182.4 132.1h0M108.4 12.7h0M110.1 10.1h0M10.7 141.4h0M163.4 183.3h0M161.3 185.2h0M217.6 164.3h0M189.6 98.6h0M216.3 45.5h0M122.7 163.1h0M12.0 18.1h0M34.5 129.1h0M36.7 128.2h0M25.8 191.6h0M140.6 38.2h0M137.0 158.5h0M148.9 111.1h0M62.3 86.3h0M9.3 149.5h0M91.3 67.3h0M85.6 96.2h0M64.7 125.3h0M33.7 16.9h0M40.9 78.0h0M13.4 70.7h0M157.2 131.3h0M117.2 50.6h0M0.8 38.8h0M90.7 129.9h0M173.0 146.6h0M170.8 147.2h0M51.7 88.5h0M192.3 21.4h0M163.7 81.9h0M71.0 85.6h0M187.3 93.8h0M27.0 31.0h0M62.7 78.6h0M179.7 99.9h0M60.0 14.2h0M183.8 136.7h0M37.5 17.6h0M117.6 172.1h0M87.9 44.7h0M200.3 7.9h0M202.8 7.1h0M79.4 61.7h0M65.1 65.8h0M53.2 31.2h0M26.4 109.2h0M179.6 141.2h0M153.9 104.8h0M151.2 129.4h0M37.4 8.0h0M12.1 157.0h0M77.7 96.7h0M46.6 128.4h0M95.0 170.8h0M104.7 31.8h0M24.2 102.5h0M75.3 103.2h0M73.0 160.1h0M83.7 160.1h0M81.8 158.0h0M201.5 5.1h0M27.2 146.7h0M207.4 161.7h0M186.1 95.1h0M207.1 6.5h0M75.4 162.3h0M203.2 111.7h0M7.3 9.1h0M11.2 55.5h0M95.3 -1.5h0M32.5 66.5h0M104.0 191.7h0M102.4 153.0h0M94.2 119.7h0M42.9 74.7h0M74.0 53.4h0M164.4 169.7h0M50.6 83.0h0M48.5 59.3h0M55.3 170.9h0M7.4 68.4h0M26.5 86.6h0M212.1 48.9h0M77.6 18.1h0M25.2 17.7h0M10.8 32.0h0M23.6 168.8h0M54.5 39.9h0M33.4 158.4h0M50.4 15.3h0M99.9 46.0h0M37.8 46.5h0M154.9 150.3h0M210.4 60.2h0M194.5 168.8h0M60.2 6.6h0M7.6 12.0h0M50.4 19.2h0M198.2 185.2h0M154.3 91.6h0M136.8 8.1h0M80.0 161.9h0M167.7 100.7h0M7.7 176.6h0M67.0 48.7h0M108.5 177.1h0M110.6 179.3h0M182.6 8.1h0M60.0 134.9h0M2.5 186.0h0M24.8 177.0h0M127.9 46.9h0M222.4 33.5h0M163.2 69.7h0M199.3 86.9h0M5.5 121.6h0M8.2 120.5h0M52.3 50.3h0M52.8 47.4h0M148.4 164.1h0M49.2 138.2h0M62.6 154.3h0M86.9 129.2h0M145.6 55.6h0M35.7 27.9h0M191.4 7.4h0M21.0 10.6h0M102.3 176.7h0M61.1 87.6h0M55.3 86.9h0M34.1 165.0h0M43.4 29.9h0M56.5 49.0h0M89.1 13.7h0M5.6 67.3h0M5.5 64.2h0M164.6 25.5h0M173.9 11.6h0M161.7 33.1h0M23.6 15.7h0M180.0 7.1h0M138.3 118.2h0M139.4 120.9h0M17.4 99.0h0M85.0 125.5h0M23.9 47.9h0M74.9 93.6h0M1.2 10.0h0M3.9 10.3h0M145.6 81.5h0M181.9 51.7h0M180.3 53.4h0" stroke="#5210aa"/>
<path d="M113.2 106.7h0M73.2 73.0h0M101.0 110.1h0M103.2 111.2h0M28.2 78.4h0M220.0 41.6h0M132.2 156.9h0M42.0 62.6h0M126.0 5.3h0M196.2 157.5h0M152.6 40.0h0M212.0 136.7h0M128.0 89.0h0M13.3 61.0h0M96.6 7.2h0M98.9 7.4h0M100.1 174.6h0M4.0 76.0h0M0.9 90.1h0M58.9 110.2h0M137.4 94.7h0M78.6 66.6h0M12.1 70.7h0M199.6 13.7h0M23.6 89.1h0M121.8 58.9h0M144.3 26.8h0M161.6 106.6h0M162.1 103.7h0M34.5 111.1h0M77.8 93.2h0M213.5 99.1h0M103.1 40.0h0M70.9 50.5h0M52.3 134.9h0M52.7 137.6h0M214.7 136.1h0M125.5 77.5h0M12.5 164.0h0M58.9 101.6h0M56.4 103.5h0M195.1 39.2h0M47.8 4.9h0M95.3 48.0h0M80.4 20.5h0M97.8 42.7h0M173.8 39.5h0M49.8 7.6h0M47.1 6.1h0M83.6 67.4h0M193.7 6.5h0M56.0 33.1h0M219.2 139.6h0M193.1 84.5h0M180.9 130.1h0M55.7 100.5h0M166.4 103.1h0M34.3 57.6h0M185.5 127.9h0M186.0 130.2h0M178.5 65.0h0M196.7 103.1h0M199.3 103.5h0M144.9 102.1h0M140.5 144.0h0M80.9 46.7h0M29.8 130.9h0M32.0 85.7h0M55.4 62.8h0M85.8 92.7h0M70.2 179.7h0M141.3 180.7h0M11.6 98.8h0M43.8 54.4h0M147.4 192.8h0M189.4 90.4h0M101.9 82.2h0M8.9 123.7h0M184.0 91.7h0M172.7 121.4h0M28.4 22.5h0M98.6 26.0h0M95.6 26.2h0M181.9 150.9h0M38.7 62.1h0M148.1 89.0h0M160.9 144.6h0M118.3 84.5h0M193.5 27.2h0M196.5 27.9h0M62.0 32.8h0M83.8 10.5h0M81.8 9.2h0M44.6 45.1h0M47.3 46.6h0M0.8 94.1h0M49.7 4.4h0M47.3 4.2h0M34.9 177.2h0M114.7 148.3h0M208.0 117.6h0M74.4 24.2h0M75.0 21.4h0M80.7 110.1h0M27.6 14.8h0M218.6 161.1h0M134.6 111.3h0M49.5 192.0h0M46.6 191.0h0M3.3 87.0h0M101.7 69.2h0M33.8 48.8h0M68.1 87.2h0M140.5 184.4h0M82.9 192.1h0M49.7 15.9h0M79.5 96.9h0M42.1 59.1h0M97.4 93.5h0M155.1 162.7h0M71.1 76.9h0M136.7 122.8h0M79.9 85.5h0M132.9 76.9h0M221.9 175.6h0M224.3 173.4h0M52.0 128.4h0M36.1 136.4h0M43.3 135.1h0M70.9 136.1h0M68.2 135.9h0M112.2 41.4h0M136.1 66.2h0M97.7 59.2h0M152.3 23.3h0M205.9 82.4h0M102.7 72.8h0M59.6 16.4h0M75.5 134.5h0M129.2 77.0h0M195.1 176.3h0M49.4 67.0h0M95.9 144.1h0M212.5 69.0h0M190.4 149.6h0M157.3 48.8h0M154.9 49.4h0M24.6 133.6h0M26.5 132.5h0M18.0 42.4h0M74.5 34.9h0M76.6 36.1h0M160.1 77.5h0M34.3 108.1h0M60.0 90.5h0M187.1 28.3h0M219.0 159.4h0M219.2 161.7h0M13.0 21.2h0M132.4 190.2h0M137.1 96.5h0M46.5 187.9h0M100.6 123.0h0M2.6 60.0h0M158.1 188.8h0M213.8 4.2h0M166.9 90.4h0M31.0 28.3h0M93.8 82.9h0M82.7 59.2h0M86.0 59.9h0M115.7 60.6h0M218.3 39.3h0M94.2 61.5h0M198.5 91.2h0M156.4 163.2h0M145.6 189.8h0M196.0 148.1h0M198.0 149.3h0M165.2 158.2h0M220.1 100.5h0M6.8 7.3h0M202.4 56.5h0M66.7 51.1h0M88.1 104.2h0M10.2 82.4h0M99.2 34.6h0M8.8 10.9h0M77.8 127.8h0M63.1 122.1h0M38.9 186.1h0M134.6 82.1h0M216.6 124.0h0M42.1 74.6h0M30.2 132.7h0M29.2 135.4h0M34.2 152.1h0M142.2 189.5h0M143.5 192.2h0M77.8 189.1h0M150.4 81.5h0M56.8 48.7h0M54.8 102.9h0M143.7 70.0h0M23.2 59.6h0M211.4 35.1h0M87.6 99.3h0M170.3 48.6h0M32.1 190.3h0M179.9 131.0h0M70.5 79.5h0M62.0 69.5h0M219.2 71.8h0M77.7 162.0h0M75.4 161.4h0M155.9 123.4h0M142.6 87.2h0M157.7 88.7h0M25.4 73.1h0M64.3 152.3h0M47.4 20.3h0M127.8 46.0h0M130.8 47.3h0M14.0 70.6h0M172.0 162.4h0M171.0 53.7h0M156.4 184.9h0M159.7 185.0h0M163.3 165.4h0M165.2 163.2h0M97.7 145.2h0M24.9 108.2h0M94.1 70.0h0M62.9 65.6h0M72.9 93.0h0M214.0 101.5h0M63.1 174.0h0M64.1 139.9h0M53.7 104.7h0M52.1 102.4h0M84.5 144.6h0M44.0 42.3h0M185.5 134.0h0M73.6 121.2h0M185.2 145.2h0M168.2 26.4h0M81.6 67.3h0M79.2 66.0h0M109.6 129.2h0M32.9 65.5h0M39.7 61.0h0M190.3 16.4h0M191.7 18.4h0M6.6 177.8h0M29.6 123.3h0M53.0 67.3h0M46.6 175.6h0M92.8 151.1h0M89.9 151.6h0M197.5 84.8h0M92.3 8.4h0M57.0 49.3h0M56.1 46.1h0M89.4 12.8h0M0.8 25.6h0M75.1 174.6h0M32.8 158.5h0M201.9 186.3h0M102.0 53.8h0M142.1 127.4h0M58.2 187.4h0M150.0 18.4h0M206.7 1.8h0M51.8 43.5h0M117.3 161.4h0M118.7 164.0h0M64.3 45.8h0M150.9 192.7h0M104.9 71.4h0M210.0 190.9h0M212.3 190.3h0M49.9 75.4h0M88.2 161.5h0M91.3 162.0h0M4.9 68.4h0M79.8 109.8h0M74.1 48.7h0M221.7 136.8h0M91.8 114.7h0M93.9 112.6h0M85.0 114.4h0M85.7 171.3h0M65.3 89.2h0M143.4 166.2h0M145.1 150.9h0M89.1 110.3h0M4.2 65.9h0M57.5 1.6h0M221.7 23.3h0M39.1 131.4h0M39.3 134.1h0M82.3 57.9h0M90.7 23.4h0M50.1 6.2h0M89.0 65.4h0M78.3 26.7h0M178.5 94.2h0M4.5 81.2h0M67.8 107.3h0M24.6 6.0h0M206.4 41.6h0M49.6 64.9h0M68.5 66.1h0M175.5 95.7h0M170.1 102.0h0M186.8 139.7h0M189.2 141.8h0M169.4 139.0h0M8.7 14.5h0M163.9 110.6h0M60.7 80.2h0M195.5 80.6h0M54.8 179.8h0M51.8 180.2h0M64.2 63.6h0M176.9 99.7h0M132.2 172.8h0M134.2 175.3h0M57.1 162.1h0M59.9 160.3h0M60.9 22.5h0M15.0 12.4h0M126.4 74.8h0M73.5 51.7h0M50.9 13.1h0M73.8 103.2h0M76.5 56.2h0M76.5 53.4h0M91.0 121.0h0M20.3 188.3h0M21.8 185.8h0M136.5 174.7h0M102.9 179.9h0M110.3 83.2h0M110.5 62.8h0M112.7 61.2h0M105.4 146.6h0M143.9 12.9h0M69.3 4.5h0M56.9 137.9h0M97.0 102.1h0M99.4 102.2h0M117.3 154.2h0M59.3 38.2h0M107.4 180.0h0M118.3 28.3h0M142.9 161.8h0M220.0 50.2h0M23.6 111.9h0M139.8 159.1h0M13.5 9.8h0M45.7 67.7h0M52.6 30.2h0M130.8 12.0h0M221.1 157.2h0M223.6 156.7h0M151.2 158.3h0M203.3 85.0h0M204.5 82.9h0M69.4 20.8h0M12.7 144.9h0M192.6 45.7h0M54.1 18.3h0M178.4 119.4h0M101.8 15.5h0M102.5 13.3h0M88.3 139.1h0M209.7 16.5h0M211.0 14.1h0M208.6 27.7h0M210.4 25.7h0M48.3 169.1h0M57.5 184.2h0M175.9 22.1h0M25.3 8.9h0M4.0 45.7h0M171.8 186.8h0M87.4 143.8h0M204.2 32.3h0M192.1 82.9h0M6.4 0.6h0M172.9 170.1h0M171.2 171.8h0M100.4 59.6h0M215.5 63.7h0M17.6 104.4h0M33.7 119.5h0M31.2 118.7h0M45.2 55.3h0M170.4 93.4h0M92.8 179.6h0M218.3 168.3h0M201.7 36.4h0M56.1 19.0h0M58.6 20.6h0M65.6 24.1h0M77.0 163.1h0M75.5 160.8h0M7.7 1.0h0M60.5 74.3h0M89.6 151.4h0M6.5 6.4h0M61.2 90.4h0M171.8 155.5h0M165.6 108.6h0M168.2 106.6h0M172.4 62.3h0M171.3 64.6h0M180.6 132.6h0M24.6 108.9h0M126.2 170.1h0M167.4 137.4h0M5.2 43.8h0M3.8 40.9h0M-2.3 57.2h0M43.8 19.0h0M193.5 132.0h0M191.4 132.8h0M37.5 22.7h0M39.4 21.4h0M216.8 190.8h0M215.4 193.9h0M158.0 100.8h0M80.2 36.3h0M79.3 34.0h0M128.0 48.9h0M133.8 113.2h0M46.9 7.1h0M38.8 87.8h0M216.4 125.4h0M13.5 93.7h0M131.6 138.7h0M33.6 27.5h0M113.9 150.5h0M192.7 3.2h0M122.2 20.7h0M203.2 155.6h0M117.7 154.1h0M129.9 53.9h0M129.0 51.2h0M10.5 179.0h0M220.9 150.7h0M86.9 144.6h0M147.0 127.9h0M104.3 117.8h0M174.7 30.8h0M187.4 112.4h0M7.0 0.2h0M102.6 195.6h0M90.2 148.2h0M87.5 60.4h0M92.4 100.2h0M170.1 38.2h0M64.2 66.7h0M72.6 126.7h0M91.4 23.1h0M221.1 72.7h0M61.1 150.9h0M58.4 149.4h0M157.8 151.2h0M156.1 148.6h0M206.6 102.2h0M104.8 101.2h0M107.7 100.0h0M29.9 41.3h0M173.2 191.8h0M183.5 124.2h0M138.6 25.6h0M57.3 77.7h0M176.9 133.4h0M174.7 135.6h0M101.9 42.6h0M94.0 75.6h0M96.8 76.4h0M17.3 106.5h0M130.5 106.3h0M141.3 124.9h0M18.0 115.7h0M215.1 7.9h0M218.0 7.6h0M87.6 127.2h0M85.1 127.2h0M132.6 133.8h0M92.7 10.8h0M101.5 21.9h0M183.3 104.1h0M149.3 40.0h0M210.7 76.5h0M212.4 73.7h0M196.9 125.9h0M7.3 40.0h0M118.7 0.3h0M8.3 167.7h0M46.2 84.2h0M84.6 124.9h0M168.4 64.9h0M97.8 97.1h0M97.8 93.8h0M143.1 7.4h0M94.4 187.1h0M84.5 45.7h0M120.8 76.7h0M123.9 76.5h0M169.2 94.9h0M11.8 1.6h0M14.7 0.9h0M76.2 146.2h0M195.0 37.7h0M205.3 3.2h0M191.9 144.1h0M198.2 189.4h0M182.8 153.0h0M139.2 141.1h0M30.0 17.6h0M69.9 48.0h0M57.4 178.5h0M182.9 175.6h0M208.4 154.3h0M154.1 68.9h0M120.6 163.5h0M182.7 50.8h0M183.8 26.3h0M71.6 48.3h0M69.3 48.1h0M154.5 153.1h0M142.4 68.4h0M116.1 138.4h0M115.5 141.0h0M74.9 143.4h0M211.1 122.0h0M99.1 155.0h0M91.0 71.2h0M42.8 24.5h0M120.3 104.2h0M105.3 98.3h0M28.2 190.4h0M202.9 41.9h0M66.2 58.7h0M100.9 79.8h0M147.2 177.5h0M35.7 115.1h0M40.8 147.2h0M27.3 142.1h0M203.4 170.6h0M3.9 11.8h0M1.1 50.1h0M-0.8 47.7h0M157.9 192.7h0M82.6 33.8h0M210.7 139.3h0M166.7 138.3h0M160.8 119.8h0M8.4 43.3h0M8.3 60.1h0M15.2 0.2h0M15.7 170.0h0M13.5 169.0h0M191.8 121.3h0M78.1 61.5h0M156.8 24.3h0M153.9 24.4h0M67.0 170.7h0M186.9 156.9h0M186.6 153.9h0M3.4 165.4h0M81.8 116.1h0M69.1 52.7h0M172.3 190.0h0M169.4 191.2h0M208.7 33.5h0M180.1 5.0h0M183.4 4.4h0M141.7 124.4h0M167.2 10.0h0M179.6 119.4h0M209.1 52.7h0M106.2 28.4h0M219.9 30.8h0M126.0 71.5h0M83.9 91.0h0M86.5 91.8h0M109.1 83.1h0M81.5 20.1h0M29.8 115.7h0M154.6 142.4h0M62.5 0.7h0M181.2 189.5h0M39.9 166.9h0M208.0 72.1h0M28.6 88.6h0M38.4 115.4h0M70.7 122.4h0M71.7 119.4h0M166.7 189.6h0M42.1 137.0h0M39.0 136.9h0M161.3 156.8h0M110.9 119.6h0M92.9 173.5h0M8.3 3.1h0M43.9 173.9h0M182.9 119.4h0M0.0 47.5h0M121.7 1.9h0M101.9 40.3h0M104.4 38.0h0M134.9 54.1h0M134.2 121.4h0M58.5 111.2h0M39.9 119.4h0M41.9 121.1h0M145.0 20.6h0M73.7 59.1h0M181.4 134.1h0M111.5 3.6h0M145.5 26.6h0M156.4 125.2h0M171.8 30.8h0M165.6 42.6h0M129.2 112.1h0M131.5 110.5h0M158.4 98.3h0M174.1 112.0h0M90.4 157.6h0M92.3 155.3h0M4.0 10.1h0M141.7 92.0h0M44.8 189.8h0M43.9 192.3h0M103.5 85.4h0M107.7 42.3h0M203.6 73.2h0M65.2 1.0h0M220.2 121.5h0M91.8 130.7h0M103.6 96.8h0M8.0 99.8h0M11.0 99.5h0M205.6 152.7h0M39.7 39.8h0M41.9 12.7h0M41.8 15.9h0M222.1 75.4h0M219.4 75.2h0M1.1 16.6h0M195.8 160.5h0M196.6 163.1h0M26.4 59.9h0M145.1 28.1h0M58.4 79.1h0M188.9 84.0h0M31.9 178.9h0M198.1 90.1h0M128.9 162.0h0M100.2 74.3h0M81.3 33.0h0M18.2 136.3h0M170.1 21.0h0M146.1 96.4h0M144.1 97.8h0M96.5 103.0h0M200.4 88.2h0M197.9 87.4h0M79.2 10.3h0M86.7 151.2h0M49.0 56.3h0M187.0 4.9h0M184.4 6.2h0M194.8 20.2h0M192.6 22.0h0M66.5 107.7h0M24.9 152.9h0M53.3 85.8h0M51.9 88.7h0M153.4 148.3h0M78.2 110.0h0M80.8 109.5h0M138.9 61.7h0M58.6 67.5h0M59.4 64.2h0M141.7 36.0h0M147.7 89.5h0M149.8 88.3h0M91.5 50.4h0M104.3 126.5h0M18.0 187.3h0M16.5 100.5h0M14.2 102.0h0M64.2 39.0h0M28.2 128.1h0M170.1 138.7h0M100.9 87.2h0M84.3 15.4h0M130.5 145.2h0M131.2 142.4h0M148.4 26.5h0M84.4 192.2h0M159.5 109.8h0M165.6 57.9h0M69.3 70.9h0M192.8 177.8h0M164.8 179.9h0M51.5 191.7h0M53.4 194.5h0M7.8 129.9h0M106.6 163.9h0M106.0 105.5h0M166.4 27.5h0M69.3 95.2h0M37.7 79.2h0M144.5 91.9h0M47.9 166.1h0M124.6 7.2h0M189.9 175.5h0M51.4 25.5h0M50.0 28.0h0M201.9 87.8h0M176.8 37.2h0M68.1 163.3h0M69.4 160.8h0M140.1 172.6h0M89.9 63.5h0M69.8 67.0h0M69.4 106.5h0M68.6 109.1h0M43.3 42.1h0M179.2 8.8h0M35.4 161.4h0M96.7 39.0h0M98.1 36.2h0M183.5 103.2h0M31.5 133.8h0M34.6 133.9h0M218.1 187.3h0M96.9 102.0h0M126.8 68.2h0M123.3 14.3h0M221.9 27.3h0M6.2 113.8h0M111.5 40.7h0M108.5 81.4h0M19.9 70.9h0M22.1 69.4h0M106.2 85.2h0M103.6 84.3h0M157.6 106.9h0M160.8 106.8h0M73.7 120.6h0M210.4 140.1h0M207.9 140.2h0M16.0 0.2h0M109.9 128.4h0M27.0 184.9h0M124.0 188.8h0M125.3 108.0h0M122.5 106.8h0M17.3 43.1h0M35.1 101.5h0M199.7 126.0h0M92.8 77.1h0M83.6 186.6h0M22.0 23.4h0M96.3 149.4h0M96.1 180.2h0M116.7 159.0h0M29.3 34.8h0M58.6 112.4h0M144.6 157.1h0M129.1 84.9h0M19.2 56.6h0M21.6 57.1h0M29.0 57.8h0M15.0 148.3h0M53.3 83.7h0M90.1 27.5h0M197.2 34.9h0M190.8 110.4h0M34.5 37.7h0M65.8 134.4h0M13.5 39.6h0M12.6 37.2h0M208.1 137.4h0M175.6 23.2h0M128.9 104.6h0M199.2 143.3h0M32.7 102.3h0M167.0 176.2h0M164.7 174.9h0M32.1 114.2h0M108.2 36.8h0M90.5 47.5h0M48.5 19.3h0M31.1 144.8h0M158.9 182.6h0M50.6 148.5h0M134.6 99.7h0M77.3 42.8h0M2.2 23.2h0M1.6 25.4h0M196.9 5.1h0M189.0 118.5h0M131.3 99.9h0M49.2 49.1h0M26.0 64.2h0M100.3 56.3h0M102.5 56.8h0M82.5 77.8h0M180.7 65.0h0M24.2 82.5h0M181.1 131.2h0M204.2 114.9h0M24.9 87.2h0M159.9 125.6h0M214.1 149.3h0M62.1 19.6h0M164.1 54.1h0M161.7 52.0h0M38.3 149.0h0M76.4 15.8h0M14.7 132.1h0M121.7 31.0h0M176.4 103.3h0M27.6 177.9h0M176.1 170.9h0M178.7 172.3h0M23.1 62.9h0M20.6 64.6h0M220.1 125.9h0M90.9 10.5h0M88.5 11.7h0M182.8 165.7h0M113.2 25.4h0M113.3 27.6h0M166.3 114.8h0M156.2 176.3h0M96.0 123.0h0M193.2 176.5h0M122.7 180.5h0M221.3 53.5h0M220.1 51.5h0M75.6 12.1h0M15.6 89.1h0M214.7 151.5h0M90.7 85.9h0M98.9 40.4h0M15.0 92.6h0M121.5 91.7h0M119.2 91.9h0M1.1 150.5h0M205.4 28.7h0M203.9 30.8h0M29.4 79.0h0M26.3 79.2h0M194.0 71.3h0M38.7 82.8h0M128.9 165.5h0M90.5 87.0h0M56.1 154.6h0M94.8 50.4h0M178.2 119.5h0M111.6 127.8h0M57.1 190.7h0M58.2 193.1h0M36.2 139.0h0M130.7 188.7h0M119.6 105.5h0M122.2 105.5h0M95.2 41.8h0M201.2 7.2h0M34.5 26.1h0M150.0 123.2h0M9.0 12.6h0M51.3 20.6h0M51.6 42.7h0M89.4 123.1h0M75.1 166.4h0M152.6 79.7h0M222.9 100.9h0M178.3 0.2h0M91.5 102.5h0M141.0 94.6h0M79.0 88.2h0M81.2 87.3h0M64.1 5.4h0M214.2 170.4h0M186.3 10.8h0M130.2 151.4h0M16.0 93.6h0M170.2 121.9h0M80.1 83.0h0M210.5 123.6h0M208.6 121.7h0M154.1 28.7h0M73.9 60.1h0M73.7 57.4h0M190.8 6.4h0M155.6 64.9h0M116.2 21.1h0M114.1 23.2h0M199.4 164.9h0M198.8 162.2h0M104.1 43.5h0M64.0 122.2h0M222.4 38.6h0M49.9 59.1h0M59.4 18.9h0M94.2 84.1h0M61.1 74.2h0M109.6 190.2h0M100.9 155.7h0M194.9 150.5h0M195.6 153.7h0M140.8 155.7h0M212.0 76.0h0M72.2 37.9h0M113.0 66.3h0M2.1 105.9h0M164.0 25.8h0M163.0 28.3h0M0.2 187.9h0M75.4 93.5h0M217.4 47.9h0M113.8 161.2h0M53.7 39.1h0M19.8 132.5h0M138.4 36.0h0M9.6 30.8h0M49.6 84.5h0M11.3 152.1h0M39.0 48.7h0M83.1 98.0h0M72.6 4.0h0M50.6 163.0h0M51.1 160.8h0M63.8 127.9h0M33.0 14.0h0M16.7 70.3h0M53.7 87.0h0M21.9 92.2h0M41.5 10.5h0M70.4 88.0h0M64.9 80.6h0M218.1 19.9h0M217.9 17.4h0M187.3 179.7h0M28.3 139.5h0M174.5 149.8h0M129.2 62.8h0M67.1 169.8h0M64.9 167.3h0M120.2 173.5h0M84.9 47.9h0M63.8 63.8h0M95.0 48.2h0M133.6 89.1h0M22.8 79.0h0M25.0 77.3h0M68.9 106.5h0M153.9 129.2h0M206.2 130.0h0M89.5 42.2h0M64.8 179.4h0M106.5 59.0h0M116.8 180.7h0M199.0 5.6h0M104.6 29.3h0M162.2 92.1h0M201.9 7.3h0M222.2 40.3h0M132.7 153.3h0M133.2 156.1h0M184.9 92.1h0M94.0 0.5h0M216.7 15.3h0M40.9 72.7h0M50.7 86.4h0M190.1 36.3h0M32.6 116.3h0M33.3 119.4h0M35.1 138.4h0M41.6 48.3h0M7.9 30.9h0M204.6 184.6h0M63.2 144.3h0M82.2 33.7h0M23.9 171.3h0M130.1 138.6h0M56.2 124.3h0M54.8 122.6h0M21.4 127.7h0M39.1 43.8h0M193.0 166.2h0M57.2 7.0h0M71.5 98.0h0M81.9 77.7h0M82.2 74.7h0M32.8 137.9h0M165.4 2.8h0M156.3 95.3h0M9.9 174.2h0M76.5 136.8h0M65.1 50.1h0M2.7 145.5h0M106.2 9.8h0M108.4 7.6h0M49.0 100.1h0M130.2 46.2h0M19.3 152.2h0M11.5 26.5h0M12.0 29.5h0M0.0 189.1h0M65.2 142.5h0M144.8 53.2h0M194.9 36.9h0M191.4 4.0h0M37.3 84.9h0M60.5 89.8h0M45.5 28.1h0M182.4 57.9h0M53.8 48.6h0M33.7 105.6h0M123.7 40.6h0M116.8 82.5h0M138.7 100.7h0M93.2 183.6h0M96.3 182.5h0M107.2 41.4h0M178.6 8.8h0M198.5 64.5h0M143.9 149.8h0M74.3 90.2h0M99.9 49.9h0M140.6 30.0h0" stroke="#7e1cf2"/>
</g>
<rect x="4.8" y="164.9" width="11.2" height="9.8" fill="#7e1cf2"/>
<text x="10.4" y="172.1" font-family="'Liberation Sans',sans-serif" font-size="7.5" fill="#fff" text-anchor="middle">Ca</text>
<g font-family="'Liberation Sans',sans-serif" font-weight="bold" fill="#eee" font-size="4.6">
<text x="4" y="185.4">1787</text>
<text x="4" y="190.9">MAG: 32x  HV: 7 kV  WD: 9.8 mm</text>
<text x="194.5" y="186.9" text-anchor="middle">800 µm</text>
</g>
<path d="M172.5 188.9H216.5" stroke="#ccc" stroke-width="0.7"/>
</svg>
<div class="abs" style="left:477.1px;top:692px;width:1px;height:194px;background:#cfcfcf"></div>
</body></html>
